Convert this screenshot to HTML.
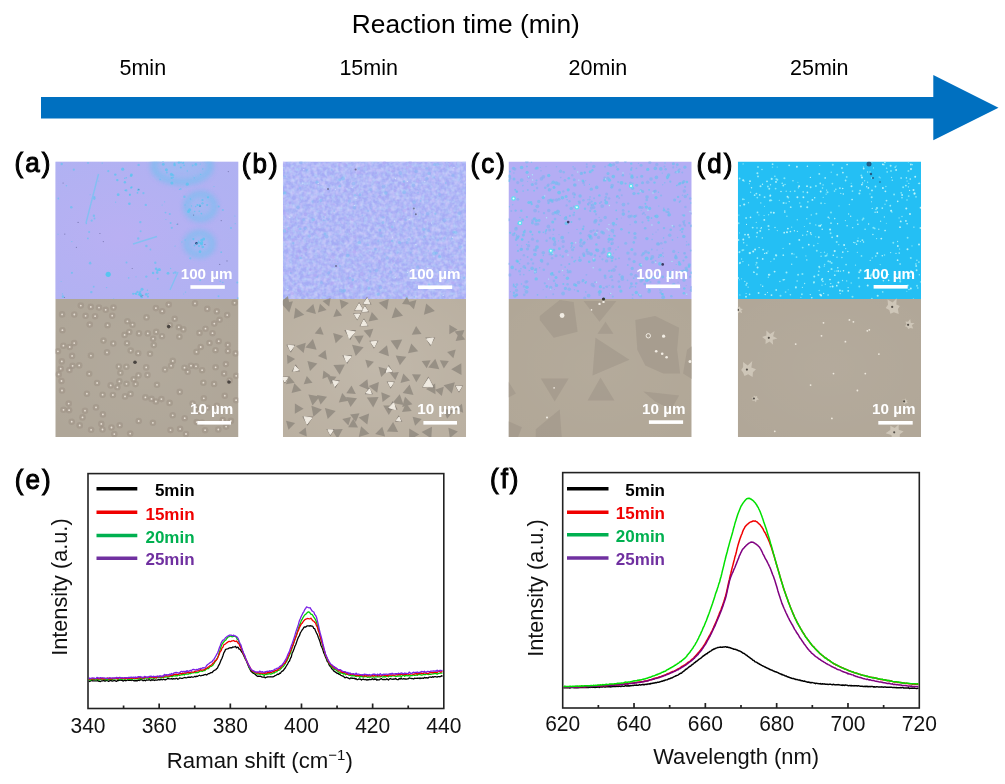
<!DOCTYPE html>
<html><head><meta charset="utf-8"><title>Figure</title>
<style>html,body{margin:0;padding:0;background:#fff;width:1005px;height:784px;overflow:hidden;font-family:"Liberation Sans",sans-serif;}svg{display:block;filter:blur(0.35px)}</style>
</head><body><svg width="1005" height="784" viewBox="0 0 1005 784"><defs><radialGradient id="gradA" cx="0.35" cy="0.55" r="0.7"><stop offset="0" stop-color="#bcb0f4" stop-opacity="0.5"/><stop offset="1" stop-color="#a8b4f2" stop-opacity="0.4"/></radialGradient><radialGradient id="viga" cx="0.5" cy="0.5" r="0.7"><stop offset="0" stop-color="#fff" stop-opacity="0.04"/><stop offset="1" stop-color="#fff" stop-opacity="0"/></radialGradient><radialGradient id="vigb" cx="0.5" cy="0.5" r="0.7"><stop offset="0" stop-color="#fff" stop-opacity="0.1"/><stop offset="1" stop-color="#fff" stop-opacity="0"/></radialGradient><radialGradient id="vigc" cx="0.5" cy="0.5" r="0.7"><stop offset="0" stop-color="#fff" stop-opacity="0.04"/><stop offset="1" stop-color="#fff" stop-opacity="0"/></radialGradient><radialGradient id="vigd" cx="0.5" cy="0.5" r="0.7"><stop offset="0" stop-color="#fff" stop-opacity="0.04"/><stop offset="1" stop-color="#fff" stop-opacity="0"/></radialGradient><filter id="nzC" x="0" y="0" width="100%" height="100%"><feTurbulence type="fractalNoise" baseFrequency="0.28" numOctaves="2" seed="3"/><feGaussianBlur stdDeviation="0.6"/><feColorMatrix type="matrix" values="0 0 0 0 0.50  0 0 0 0 0.74  0 0 0 0 0.95  1.2 0 0 0 -0.45"/></filter><filter id="nzP" x="0" y="0" width="100%" height="100%"><feTurbulence type="fractalNoise" baseFrequency="0.22" numOctaves="2" seed="9"/><feGaussianBlur stdDeviation="0.6"/><feColorMatrix type="matrix" values="0 0 0 0 0.74  0 0 0 0 0.67  0 0 0 0 0.97  1.2 0 0 0 -0.45"/></filter><filter id="bl1" x="-20%" y="-20%" width="140%" height="140%"><feGaussianBlur stdDeviation="0.7"/></filter><filter id="bl2" x="-50%" y="-50%" width="200%" height="200%"><feGaussianBlur stdDeviation="2.5"/></filter><filter id="bl3" x="-50%" y="-50%" width="200%" height="200%"><feGaussianBlur stdDeviation="5"/></filter><clipPath id="cpa"><rect x="55.3" y="161.5" width="183.2" height="275.5"/></clipPath><clipPath id="cpb"><rect x="282.9" y="161.5" width="183.2" height="275.5"/></clipPath><clipPath id="cpc"><rect x="508.5" y="161.5" width="183.2" height="275.5"/></clipPath><clipPath id="cpd"><rect x="737.8" y="161.5" width="183.2" height="275.5"/></clipPath></defs><text transform="translate(351.8,33.4) scale(1,1)" font-size="26.3" font-weight="normal" text-anchor="start" font-family="Liberation Sans, sans-serif" fill="#000" >Reaction time (min)</text><text transform="translate(119.5,75.3) scale(1,1)" font-size="21.5" font-weight="normal" text-anchor="start" font-family="Liberation Sans, sans-serif" fill="#000" >5min</text><text transform="translate(339.4,74.8) scale(1,1)" font-size="21.5" font-weight="normal" text-anchor="start" font-family="Liberation Sans, sans-serif" fill="#000" >15min</text><text transform="translate(568.6,75.3) scale(1,1)" font-size="21.5" font-weight="normal" text-anchor="start" font-family="Liberation Sans, sans-serif" fill="#000" >20min</text><text transform="translate(790.0,74.6) scale(1,1)" font-size="21.5" font-weight="normal" text-anchor="start" font-family="Liberation Sans, sans-serif" fill="#000" >25min</text><polygon points="41,97 933.3,97 933.3,75 998.5,107.7 933.3,140.3 933.3,118.5 41,118.5" fill="#0070C0"/><text transform="translate(14.6,172.3) scale(1,1.05)" font-size="26" font-weight="normal" text-anchor="start" font-family="Liberation Sans, sans-serif" fill="#000" stroke="#000" stroke-width="1.0" letter-spacing="2.0">(a)</text><text transform="translate(241.8,173.3) scale(1,1.05)" font-size="26" font-weight="normal" text-anchor="start" font-family="Liberation Sans, sans-serif" fill="#000" stroke="#000" stroke-width="1.0" letter-spacing="2.0">(b)</text><text transform="translate(470.6,173.1) scale(1,1.05)" font-size="26" font-weight="normal" text-anchor="start" font-family="Liberation Sans, sans-serif" fill="#000" stroke="#000" stroke-width="1.0" letter-spacing="2.0">(c)</text><text transform="translate(696.6,173.1) scale(1,1.05)" font-size="26" font-weight="normal" text-anchor="start" font-family="Liberation Sans, sans-serif" fill="#000" stroke="#000" stroke-width="1.0" letter-spacing="2.0">(d)</text><g clip-path="url(#cpa)"><rect x="55.3" y="161.5" width="183.2" height="137.5" fill="#b6b0f2"/><rect x="55.3" y="161.5" width="183.2" height="137.5" fill="url(#gradA)"/><g filter="url(#bl2)" fill="none" stroke="#74c0f0" opacity="0.65"><ellipse cx="182" cy="166" rx="28" ry="16" stroke-width="7"/><ellipse cx="200.5" cy="206.5" rx="14" ry="12.5" stroke-width="6"/><ellipse cx="199.5" cy="244" rx="13" ry="11" stroke-width="6"/></g><g filter="url(#bl3)" fill="#8cc2f2" opacity="0.4"><ellipse cx="182" cy="166" rx="24" ry="12"/><ellipse cx="200.5" cy="206.5" rx="11" ry="10"/><ellipse cx="199.5" cy="244" rx="10" ry="9"/></g><circle cx="196.5" cy="243.3" r="1.3" fill="#2a4a80" filter="url(#bl1)"/><circle cx="200" cy="206" r="0.9" fill="#3a5a90" opacity="0.6"/><g filter="url(#bl1)" stroke="#7cc2f2" stroke-width="1.4" fill="none" opacity="0.85"><path d="M98.5,174 L86,223"/><path d="M133,244 L157,236.5"/><path d="M170,290 L178,272"/></g><g filter="url(#bl1)" fill="#58c4f0"><circle cx="108.2" cy="274.3" r="2.6"/><circle cx="138.2" cy="238.5" r="1.2" opacity="0.6"/><circle cx="140.6" cy="231.3" r="1.0" opacity="0.6"/><circle cx="89.1" cy="231.9" r="1.0" opacity="0.6"/><circle cx="200.6" cy="174.4" r="0.7" opacity="0.6"/><circle cx="71.9" cy="272.8" r="1.1" opacity="0.6"/><circle cx="63.0" cy="296.6" r="1.3" opacity="0.6"/><circle cx="175.1" cy="246.1" r="0.6" opacity="0.6"/><circle cx="58.0" cy="234.2" r="0.5" opacity="0.6"/><circle cx="90.1" cy="194.8" r="0.5" opacity="0.6"/><circle cx="140.3" cy="222.1" r="1.2" opacity="0.6"/><circle cx="150.4" cy="249.5" r="0.9" opacity="0.6"/><circle cx="176.7" cy="224.4" r="0.7" opacity="0.6"/><circle cx="238.1" cy="298.4" r="1.2" opacity="0.6"/><circle cx="185.0" cy="204.9" r="0.7" opacity="0.6"/><circle cx="108.3" cy="171.2" r="1.1" opacity="0.6"/><circle cx="128.7" cy="277.9" r="0.8" opacity="0.6"/><circle cx="230.8" cy="278.0" r="0.5" opacity="0.6"/><circle cx="93.7" cy="286.7" r="0.9" opacity="0.6"/><circle cx="234.9" cy="216.1" r="0.6" opacity="0.6"/><circle cx="170.6" cy="268.5" r="0.7" opacity="0.6"/><circle cx="71.3" cy="207.2" r="1.3" opacity="0.6"/><circle cx="194.2" cy="177.7" r="0.7" opacity="0.6"/><circle cx="73.8" cy="169.7" r="1.1" opacity="0.6"/><circle cx="87.9" cy="238.4" r="0.9" opacity="0.6"/><circle cx="90.2" cy="262.1" r="0.6" opacity="0.6"/><circle cx="173.2" cy="177.5" r="0.8" opacity="0.6"/><circle cx="94.3" cy="198.6" r="1.3" opacity="0.6"/><circle cx="202.5" cy="203.3" r="1.2" opacity="0.6"/><circle cx="93.9" cy="215.7" r="1.2" opacity="0.6"/><circle cx="172.9" cy="175.3" r="1.3" opacity="0.6"/><circle cx="94.4" cy="197.0" r="1.1" opacity="0.6"/><circle cx="115.6" cy="202.2" r="0.6" opacity="0.6"/><circle cx="71.8" cy="241.6" r="0.7" opacity="0.6"/><circle cx="165.5" cy="212.6" r="0.9" opacity="0.6"/><circle cx="231.0" cy="228.0" r="1.0" opacity="0.6"/><circle cx="214.0" cy="186.6" r="0.6" opacity="0.6"/><circle cx="221.7" cy="273.9" r="0.7" opacity="0.6"/><circle cx="90.1" cy="263.2" r="1.3" opacity="0.6"/><circle cx="91.3" cy="292.1" r="1.2" opacity="0.6"/><circle cx="165.9" cy="219.5" r="0.6" opacity="0.6"/><circle cx="62.4" cy="293.9" r="0.7" opacity="0.6"/><circle cx="184.4" cy="196.8" r="1.2" opacity="0.6"/><circle cx="164.6" cy="201.8" r="0.6" opacity="0.6"/><circle cx="187.3" cy="171.0" r="0.7" opacity="0.6"/><circle cx="157.8" cy="278.7" r="1.0" opacity="0.6"/><circle cx="106.6" cy="287.6" r="0.7" opacity="0.6"/><circle cx="58.3" cy="198.5" r="0.9" opacity="0.6"/><circle cx="66.4" cy="185.7" r="0.8" opacity="0.6"/><circle cx="160.1" cy="179.6" r="0.8" opacity="0.6"/><circle cx="218.5" cy="296.3" r="1.0" opacity="0.6"/><circle cx="181.9" cy="241.9" r="0.6" opacity="0.6"/><circle cx="61.7" cy="164.0" r="1.2" opacity="0.6"/><circle cx="183.7" cy="293.9" r="0.5" opacity="0.6"/><circle cx="171.8" cy="227.8" r="1.1" opacity="0.6"/><circle cx="113.7" cy="298.9" r="0.6" opacity="0.6"/><circle cx="155.3" cy="262.8" r="1.2" opacity="0.6"/><circle cx="190.3" cy="258.3" r="1.1" opacity="0.6"/><circle cx="222.9" cy="209.9" r="1.0" opacity="0.6"/><circle cx="220.3" cy="281.3" r="0.8" opacity="0.6"/><circle cx="200.1" cy="280.2" r="1.0" opacity="0.6"/><circle cx="169.8" cy="214.1" r="1.0" opacity="0.6"/><circle cx="166.8" cy="172.5" r="1.0" opacity="0.6"/><circle cx="237.3" cy="282.5" r="1.1" opacity="0.6"/><circle cx="126.5" cy="262.6" r="1.0" opacity="0.6"/><circle cx="136.0" cy="276.8" r="0.6" opacity="0.6"/><circle cx="192.7" cy="165.6" r="1.0" opacity="0.6"/><circle cx="143.4" cy="193.2" r="1.1" opacity="0.6"/><circle cx="146.4" cy="246.0" r="1.2" opacity="0.6"/><circle cx="102.2" cy="163.1" r="0.7" opacity="0.6"/><circle cx="179.5" cy="189.4" r="0.6" opacity="0.6"/><circle cx="221.2" cy="252.2" r="0.9" opacity="0.6"/><circle cx="218.7" cy="206.5" r="1.0" opacity="0.6"/><circle cx="91.7" cy="220.7" r="1.1" opacity="0.6"/><circle cx="222.8" cy="282.5" r="0.8" opacity="0.6"/><circle cx="162.1" cy="205.0" r="0.6" opacity="0.6"/><circle cx="146.3" cy="276.6" r="1.2" opacity="0.6"/><circle cx="185.6" cy="292.1" r="0.7" opacity="0.6"/><circle cx="86.3" cy="223.5" r="0.7" opacity="0.6"/><circle cx="94.5" cy="218.4" r="1.0" opacity="0.6"/><circle cx="145.8" cy="204.9" r="1.2" opacity="0.6"/><circle cx="235.2" cy="223.7" r="0.6" opacity="0.6"/><circle cx="61.1" cy="281.5" r="0.5" opacity="0.6"/><circle cx="185.1" cy="240.0" r="0.7" opacity="0.6"/><circle cx="200.3" cy="164.1" r="0.6" opacity="0.6"/><circle cx="138.6" cy="164.9" r="1.2" opacity="0.6"/><circle cx="98.8" cy="180.9" r="0.5" opacity="0.6"/><circle cx="170.6" cy="222.9" r="1.0" opacity="0.6"/><circle cx="175.3" cy="272.5" r="1.3" opacity="0.6"/><circle cx="180.7" cy="188.9" r="0.9" opacity="0.6"/><circle cx="88.0" cy="163.0" r="0.9" opacity="0.6"/><circle cx="181.0" cy="162.4" r="0.9" opacity="0.75"/><circle cx="171.7" cy="178.0" r="1.1" opacity="0.75"/><circle cx="167.2" cy="155.6" r="1.0" opacity="0.75"/><circle cx="188.1" cy="147.8" r="0.7" opacity="0.75"/><circle cx="199.1" cy="159.8" r="0.7" opacity="0.75"/><circle cx="166.4" cy="169.7" r="1.5" opacity="0.75"/><circle cx="171.4" cy="174.3" r="1.5" opacity="0.75"/><circle cx="189.1" cy="147.2" r="1.1" opacity="0.75"/><circle cx="178.9" cy="162.5" r="1.3" opacity="0.75"/><circle cx="188.9" cy="153.9" r="1.3" opacity="0.75"/><circle cx="187.3" cy="184.2" r="1.6" opacity="0.75"/><circle cx="195.8" cy="164.4" r="1.4" opacity="0.75"/><circle cx="171.9" cy="183.1" r="1.5" opacity="0.75"/><circle cx="180.8" cy="167.4" r="1.0" opacity="0.75"/><circle cx="163.0" cy="161.0" r="1.1" opacity="0.75"/><circle cx="202.7" cy="169.0" r="0.7" opacity="0.75"/><circle cx="183.4" cy="162.6" r="0.9" opacity="0.75"/><circle cx="182.9" cy="163.2" r="0.7" opacity="0.75"/><circle cx="163.3" cy="164.4" r="1.4" opacity="0.75"/><circle cx="172.9" cy="147.7" r="1.1" opacity="0.75"/><circle cx="184.1" cy="165.4" r="0.8" opacity="0.75"/><circle cx="174.6" cy="165.0" r="1.3" opacity="0.75"/><circle cx="173.3" cy="157.7" r="1.4" opacity="0.75"/><circle cx="174.5" cy="163.6" r="1.0" opacity="0.75"/><circle cx="195.2" cy="150.5" r="0.8" opacity="0.75"/><circle cx="208.0" cy="197.3" r="1.1" opacity="0.75"/><circle cx="197.5" cy="205.0" r="1.1" opacity="0.75"/><circle cx="191.5" cy="205.9" r="0.6" opacity="0.75"/><circle cx="207.1" cy="204.9" r="1.0" opacity="0.75"/><circle cx="202.5" cy="200.0" r="1.1" opacity="0.75"/><circle cx="199.7" cy="205.3" r="1.1" opacity="0.75"/><circle cx="188.5" cy="211.5" r="1.5" opacity="0.75"/><circle cx="199.2" cy="211.3" r="0.7" opacity="0.75"/><circle cx="189.6" cy="209.7" r="1.5" opacity="0.75"/><circle cx="195.6" cy="206.5" r="0.8" opacity="0.75"/><circle cx="190.4" cy="199.0" r="0.7" opacity="0.75"/><circle cx="200.1" cy="205.7" r="0.8" opacity="0.75"/><circle cx="201.4" cy="213.6" r="0.9" opacity="0.75"/><circle cx="194.7" cy="211.5" r="0.7" opacity="0.75"/><circle cx="198.8" cy="242.7" r="1.1" opacity="0.75"/><circle cx="199.0" cy="246.1" r="1.1" opacity="0.75"/><circle cx="194.5" cy="245.5" r="1.0" opacity="0.75"/><circle cx="197.0" cy="243.7" r="0.8" opacity="0.75"/><circle cx="193.4" cy="239.1" r="1.1" opacity="0.75"/><circle cx="203.7" cy="238.9" r="1.5" opacity="0.75"/><circle cx="200.0" cy="251.7" r="1.4" opacity="0.75"/><circle cx="202.4" cy="242.1" r="0.9" opacity="0.75"/><circle cx="201.5" cy="242.9" r="1.6" opacity="0.75"/><circle cx="200.3" cy="243.1" r="0.8" opacity="0.75"/><circle cx="198.5" cy="241.3" r="0.7" opacity="0.75"/><circle cx="201.7" cy="240.2" r="1.4" opacity="0.75"/><circle cx="202.7" cy="247.0" r="1.3" opacity="0.75"/><circle cx="201.6" cy="244.2" r="1.3" opacity="0.75"/><circle cx="147.4" cy="290.3" r="0.7" opacity="0.75"/><circle cx="133.2" cy="293.8" r="1.1" opacity="0.75"/><circle cx="139.3" cy="292.7" r="0.7" opacity="0.75"/><circle cx="140.3" cy="294.2" r="1.2" opacity="0.75"/><circle cx="134.9" cy="293.6" r="0.7" opacity="0.75"/><circle cx="140.7" cy="295.3" r="1.4" opacity="0.75"/><circle cx="148.3" cy="293.6" r="0.7" opacity="0.75"/><circle cx="147.9" cy="296.6" r="1.1" opacity="0.75"/><circle cx="140.3" cy="291.7" r="1.1" opacity="0.75"/><circle cx="136.1" cy="293.7" r="1.2" opacity="0.75"/><circle cx="146.3" cy="294.4" r="1.4" opacity="0.75"/><circle cx="141.7" cy="297.0" r="1.3" opacity="0.75"/><circle cx="138.5" cy="294.8" r="0.8" opacity="0.75"/><circle cx="139.9" cy="294.0" r="1.5" opacity="0.75"/><circle cx="142.0" cy="289.2" r="1.5" opacity="0.75"/><circle cx="137.5" cy="291.9" r="1.2" opacity="0.75"/><circle cx="118.2" cy="194.7" r="1.4" opacity="0.75"/><circle cx="129.4" cy="203.7" r="1.3" opacity="0.75"/><circle cx="131.7" cy="187.3" r="1.0" opacity="0.75"/><circle cx="138.4" cy="189.9" r="1.3" opacity="0.75"/><circle cx="131.0" cy="187.7" r="1.0" opacity="0.75"/><circle cx="129.9" cy="194.3" r="0.9" opacity="0.75"/><circle cx="129.9" cy="195.0" r="1.0" opacity="0.75"/><circle cx="125.2" cy="190.4" r="0.8" opacity="0.75"/><circle cx="137.5" cy="192.8" r="0.9" opacity="0.75"/><circle cx="126.3" cy="190.4" r="1.1" opacity="0.75"/><circle cx="117.3" cy="180.1" r="1.2" opacity="0.75"/><circle cx="122.7" cy="169.2" r="1.6" opacity="0.75"/><circle cx="131.1" cy="175.7" r="1.3" opacity="0.75"/><circle cx="124.8" cy="178.2" r="0.7" opacity="0.75"/><circle cx="126.3" cy="177.8" r="0.7" opacity="0.75"/><circle cx="124.9" cy="182.2" r="1.2" opacity="0.75"/><circle cx="115.3" cy="174.6" r="1.2" opacity="0.75"/><circle cx="131.4" cy="174.8" r="1.4" opacity="0.75"/><circle cx="168.0" cy="273.3" r="1.4" opacity="0.75"/><circle cx="173.4" cy="273.1" r="0.8" opacity="0.75"/><circle cx="157.5" cy="270.4" r="1.1" opacity="0.75"/><circle cx="159.3" cy="269.5" r="1.5" opacity="0.75"/><circle cx="153.1" cy="273.0" r="1.2" opacity="0.75"/><circle cx="157.2" cy="272.6" r="1.3" opacity="0.75"/><circle cx="156.1" cy="268.7" r="1.3" opacity="0.75"/><circle cx="159.9" cy="270.2" r="0.8" opacity="0.75"/></g><g fill="#4a4e80" opacity="0.55"><circle cx="63.1" cy="183.0" r="0.6"/><circle cx="193.6" cy="215.1" r="0.6"/><circle cx="219.7" cy="264.4" r="0.6"/><circle cx="64.5" cy="297.5" r="0.6"/><circle cx="228.3" cy="171.6" r="0.6"/><circle cx="221.2" cy="220.6" r="0.6"/><circle cx="142.8" cy="295.3" r="0.6"/><circle cx="99.9" cy="233.5" r="0.6"/><circle cx="227.0" cy="260.9" r="0.6"/><circle cx="141.1" cy="296.1" r="0.6"/><circle cx="204.9" cy="244.5" r="0.6"/><circle cx="76.4" cy="247.3" r="0.6"/><circle cx="138.8" cy="189.5" r="0.6"/><circle cx="64.8" cy="234.1" r="0.6"/><circle cx="78.1" cy="222.4" r="0.6"/><circle cx="177.7" cy="224.1" r="0.6"/><circle cx="103.3" cy="241.6" r="0.6"/><circle cx="132.2" cy="268.5" r="0.6"/></g><rect x="55.3" y="299" width="183.2" height="138" fill="#afa698"/><rect x="55.3" y="299" width="183.2" height="138" fill="url(#viga)"/><g filter="url(#bl1)"><circle cx="86.9" cy="393.7" r="3.3" fill="#958a7e" opacity="0.4"/><circle cx="171.1" cy="365.7" r="3.3" fill="#958a7e" opacity="0.4"/><circle cx="96.0" cy="407.4" r="3.3" fill="#958a7e" opacity="0.4"/><circle cx="202.1" cy="370.2" r="3.3" fill="#958a7e" opacity="0.4"/><circle cx="147.8" cy="333.4" r="3.3" fill="#958a7e" opacity="0.4"/><circle cx="57.9" cy="351.3" r="3.3" fill="#958a7e" opacity="0.4"/><circle cx="162.2" cy="311.2" r="3.3" fill="#958a7e" opacity="0.4"/><circle cx="199.5" cy="332.9" r="3.3" fill="#958a7e" opacity="0.4"/><circle cx="99.0" cy="307.6" r="3.3" fill="#958a7e" opacity="0.4"/><circle cx="236.1" cy="400.2" r="3.3" fill="#958a7e" opacity="0.4"/><circle cx="214.1" cy="383.9" r="3.3" fill="#958a7e" opacity="0.4"/><circle cx="63.4" cy="345.7" r="3.3" fill="#958a7e" opacity="0.4"/><circle cx="146.5" cy="317.4" r="3.3" fill="#958a7e" opacity="0.4"/><circle cx="227.9" cy="351.0" r="3.3" fill="#958a7e" opacity="0.4"/><circle cx="85.0" cy="410.7" r="3.3" fill="#958a7e" opacity="0.4"/><circle cx="79.7" cy="425.4" r="3.3" fill="#958a7e" opacity="0.4"/><circle cx="138.5" cy="375.4" r="3.3" fill="#958a7e" opacity="0.4"/><circle cx="118.8" cy="366.5" r="3.3" fill="#958a7e" opacity="0.4"/><circle cx="90.8" cy="306.9" r="3.3" fill="#958a7e" opacity="0.4"/><circle cx="212.5" cy="333.2" r="3.3" fill="#958a7e" opacity="0.4"/><circle cx="230.9" cy="420.9" r="3.3" fill="#958a7e" opacity="0.4"/><circle cx="192.6" cy="403.5" r="3.3" fill="#958a7e" opacity="0.4"/><circle cx="161.4" cy="399.1" r="3.3" fill="#958a7e" opacity="0.4"/><circle cx="79.2" cy="365.4" r="3.3" fill="#958a7e" opacity="0.4"/><circle cx="205.5" cy="328.7" r="3.3" fill="#958a7e" opacity="0.4"/><circle cx="222.7" cy="420.0" r="3.3" fill="#958a7e" opacity="0.4"/><circle cx="130.7" cy="350.6" r="3.3" fill="#958a7e" opacity="0.4"/><circle cx="138.2" cy="353.3" r="3.3" fill="#958a7e" opacity="0.4"/><circle cx="235.6" cy="353.4" r="3.3" fill="#958a7e" opacity="0.4"/><circle cx="62.1" cy="314.4" r="3.3" fill="#958a7e" opacity="0.4"/><circle cx="186.0" cy="434.0" r="3.3" fill="#958a7e" opacity="0.4"/><circle cx="146.2" cy="367.4" r="3.3" fill="#958a7e" opacity="0.4"/><circle cx="155.9" cy="401.5" r="3.3" fill="#958a7e" opacity="0.4"/><circle cx="97.1" cy="383.0" r="3.3" fill="#958a7e" opacity="0.4"/><circle cx="157.0" cy="384.8" r="3.3" fill="#958a7e" opacity="0.4"/><circle cx="89.7" cy="324.6" r="3.3" fill="#958a7e" opacity="0.4"/><circle cx="119.7" cy="425.3" r="3.3" fill="#958a7e" opacity="0.4"/><circle cx="119.4" cy="381.4" r="3.3" fill="#958a7e" opacity="0.4"/><circle cx="112.2" cy="315.7" r="3.3" fill="#958a7e" opacity="0.4"/><circle cx="69.1" cy="410.2" r="3.3" fill="#958a7e" opacity="0.4"/><circle cx="196.5" cy="351.9" r="3.3" fill="#958a7e" opacity="0.4"/><circle cx="179.8" cy="391.9" r="3.3" fill="#958a7e" opacity="0.4"/><circle cx="218.3" cy="429.5" r="3.3" fill="#958a7e" opacity="0.4"/><circle cx="130.2" cy="433.6" r="3.3" fill="#958a7e" opacity="0.4"/><circle cx="229.6" cy="380.5" r="3.3" fill="#958a7e" opacity="0.4"/><circle cx="215.6" cy="367.3" r="3.3" fill="#958a7e" opacity="0.4"/><circle cx="124.6" cy="334.9" r="3.3" fill="#958a7e" opacity="0.4"/><circle cx="214.3" cy="323.6" r="3.3" fill="#958a7e" opacity="0.4"/><circle cx="196.0" cy="366.3" r="3.3" fill="#958a7e" opacity="0.4"/><circle cx="207.3" cy="308.9" r="3.3" fill="#958a7e" opacity="0.4"/><circle cx="103.5" cy="340.6" r="3.3" fill="#958a7e" opacity="0.4"/><circle cx="132.5" cy="324.7" r="3.3" fill="#958a7e" opacity="0.4"/><circle cx="69.7" cy="347.0" r="3.3" fill="#958a7e" opacity="0.4"/><circle cx="191.0" cy="365.7" r="3.3" fill="#958a7e" opacity="0.4"/><circle cx="102.5" cy="429.5" r="3.3" fill="#958a7e" opacity="0.4"/><circle cx="151.5" cy="398.9" r="3.3" fill="#958a7e" opacity="0.4"/><circle cx="62.4" cy="330.2" r="3.3" fill="#958a7e" opacity="0.4"/><circle cx="207.5" cy="407.8" r="3.3" fill="#958a7e" opacity="0.4"/><circle cx="133.7" cy="379.3" r="3.3" fill="#958a7e" opacity="0.4"/><circle cx="209.5" cy="343.0" r="3.3" fill="#958a7e" opacity="0.4"/><circle cx="153.1" cy="338.7" r="3.3" fill="#958a7e" opacity="0.4"/><circle cx="195.0" cy="303.4" r="3.3" fill="#958a7e" opacity="0.4"/><circle cx="180.1" cy="428.9" r="3.3" fill="#958a7e" opacity="0.4"/><circle cx="61.5" cy="381.0" r="3.3" fill="#958a7e" opacity="0.4"/><circle cx="172.7" cy="415.3" r="3.3" fill="#958a7e" opacity="0.4"/><circle cx="162.0" cy="336.2" r="3.3" fill="#958a7e" opacity="0.4"/><circle cx="219.6" cy="319.8" r="3.3" fill="#958a7e" opacity="0.4"/><circle cx="74.3" cy="314.5" r="3.3" fill="#958a7e" opacity="0.4"/><circle cx="61.8" cy="361.4" r="3.3" fill="#958a7e" opacity="0.4"/><circle cx="82.5" cy="417.4" r="3.3" fill="#958a7e" opacity="0.4"/><circle cx="174.7" cy="318.8" r="3.3" fill="#958a7e" opacity="0.4"/><circle cx="153.8" cy="345.1" r="3.3" fill="#958a7e" opacity="0.4"/><circle cx="125.0" cy="396.4" r="3.3" fill="#958a7e" opacity="0.4"/><circle cx="155.9" cy="308.1" r="3.3" fill="#958a7e" opacity="0.4"/><circle cx="184.7" cy="418.2" r="3.3" fill="#958a7e" opacity="0.4"/><circle cx="196.0" cy="407.2" r="3.3" fill="#958a7e" opacity="0.4"/><circle cx="68.7" cy="403.6" r="3.3" fill="#958a7e" opacity="0.4"/><circle cx="102.6" cy="394.7" r="3.3" fill="#958a7e" opacity="0.4"/><circle cx="113.5" cy="307.6" r="3.3" fill="#958a7e" opacity="0.4"/><circle cx="127.0" cy="343.2" r="3.3" fill="#958a7e" opacity="0.4"/><circle cx="218.7" cy="341.2" r="3.3" fill="#958a7e" opacity="0.4"/><circle cx="147.5" cy="375.1" r="3.3" fill="#958a7e" opacity="0.4"/><circle cx="227.2" cy="315.1" r="3.3" fill="#958a7e" opacity="0.4"/><circle cx="165.0" cy="369.6" r="3.3" fill="#958a7e" opacity="0.4"/><circle cx="112.9" cy="395.0" r="3.3" fill="#958a7e" opacity="0.4"/><circle cx="114.3" cy="434.1" r="3.3" fill="#958a7e" opacity="0.4"/><circle cx="168.7" cy="304.6" r="3.3" fill="#958a7e" opacity="0.4"/><circle cx="172.8" cy="360.9" r="3.3" fill="#958a7e" opacity="0.4"/><circle cx="150.0" cy="353.8" r="3.3" fill="#958a7e" opacity="0.4"/><circle cx="129.3" cy="332.0" r="3.3" fill="#958a7e" opacity="0.4"/><circle cx="203.8" cy="398.3" r="3.3" fill="#958a7e" opacity="0.4"/><circle cx="139.0" cy="333.4" r="3.3" fill="#958a7e" opacity="0.4"/><circle cx="126.4" cy="366.7" r="3.3" fill="#958a7e" opacity="0.4"/><circle cx="170.5" cy="430.1" r="3.3" fill="#958a7e" opacity="0.4"/><circle cx="72.6" cy="365.8" r="3.3" fill="#958a7e" opacity="0.4"/><circle cx="145.4" cy="397.4" r="3.3" fill="#958a7e" opacity="0.4"/><circle cx="216.9" cy="405.7" r="3.3" fill="#958a7e" opacity="0.4"/><circle cx="169.6" cy="402.9" r="3.3" fill="#958a7e" opacity="0.4"/><circle cx="101.3" cy="423.9" r="3.3" fill="#958a7e" opacity="0.4"/><circle cx="126.5" cy="383.8" r="3.3" fill="#958a7e" opacity="0.4"/><circle cx="205.1" cy="430.2" r="3.3" fill="#958a7e" opacity="0.4"/><circle cx="234.6" cy="302.8" r="3.3" fill="#958a7e" opacity="0.4"/><circle cx="113.3" cy="343.5" r="3.3" fill="#958a7e" opacity="0.4"/><circle cx="127.4" cy="321.3" r="3.3" fill="#958a7e" opacity="0.4"/><circle cx="111.5" cy="427.5" r="3.3" fill="#958a7e" opacity="0.4"/><circle cx="183.4" cy="329.4" r="3.3" fill="#958a7e" opacity="0.4"/><circle cx="117.4" cy="387.3" r="3.3" fill="#958a7e" opacity="0.4"/><circle cx="179.4" cy="336.7" r="3.3" fill="#958a7e" opacity="0.4"/><circle cx="227.8" cy="344.8" r="3.3" fill="#958a7e" opacity="0.4"/><circle cx="102.9" cy="414.4" r="3.3" fill="#958a7e" opacity="0.4"/><circle cx="107.0" cy="352.4" r="3.3" fill="#958a7e" opacity="0.4"/><circle cx="225.9" cy="364.1" r="3.3" fill="#958a7e" opacity="0.4"/><circle cx="135.6" cy="384.1" r="3.3" fill="#958a7e" opacity="0.4"/><circle cx="107.6" cy="325.2" r="3.3" fill="#958a7e" opacity="0.4"/><circle cx="91.1" cy="429.8" r="3.3" fill="#958a7e" opacity="0.4"/><circle cx="63.5" cy="409.8" r="3.3" fill="#958a7e" opacity="0.4"/><circle cx="224.8" cy="395.7" r="3.3" fill="#958a7e" opacity="0.4"/><circle cx="60.7" cy="368.7" r="3.3" fill="#958a7e" opacity="0.4"/><circle cx="58.7" cy="374.4" r="3.3" fill="#958a7e" opacity="0.4"/><circle cx="74.2" cy="343.1" r="3.3" fill="#958a7e" opacity="0.4"/><circle cx="138.7" cy="421.0" r="3.3" fill="#958a7e" opacity="0.4"/><circle cx="199.2" cy="411.4" r="3.3" fill="#958a7e" opacity="0.4"/><circle cx="90.9" cy="355.6" r="3.3" fill="#958a7e" opacity="0.4"/><circle cx="156.2" cy="331.9" r="3.3" fill="#958a7e" opacity="0.4"/><circle cx="71.7" cy="421.7" r="3.3" fill="#958a7e" opacity="0.4"/><circle cx="203.4" cy="382.7" r="3.3" fill="#958a7e" opacity="0.4"/><circle cx="200.7" cy="347.0" r="3.3" fill="#958a7e" opacity="0.4"/><circle cx="110.7" cy="385.4" r="3.3" fill="#958a7e" opacity="0.4"/><circle cx="216.8" cy="311.4" r="3.3" fill="#958a7e" opacity="0.4"/><circle cx="69.4" cy="370.1" r="3.3" fill="#958a7e" opacity="0.4"/><circle cx="178.8" cy="327.2" r="3.3" fill="#958a7e" opacity="0.4"/><circle cx="105.7" cy="309.8" r="3.3" fill="#958a7e" opacity="0.4"/><circle cx="85.6" cy="315.8" r="3.3" fill="#958a7e" opacity="0.4"/><circle cx="224.1" cy="373.6" r="3.3" fill="#958a7e" opacity="0.4"/><circle cx="130.5" cy="393.9" r="3.3" fill="#958a7e" opacity="0.4"/><circle cx="187.7" cy="371.8" r="3.3" fill="#958a7e" opacity="0.4"/><circle cx="120.4" cy="372.8" r="3.3" fill="#958a7e" opacity="0.4"/><circle cx="169.9" cy="325.2" r="3.3" fill="#958a7e" opacity="0.4"/><circle cx="184.5" cy="367.7" r="3.3" fill="#958a7e" opacity="0.4"/><circle cx="201.9" cy="422.5" r="3.3" fill="#958a7e" opacity="0.4"/><circle cx="196.7" cy="422.1" r="3.3" fill="#958a7e" opacity="0.4"/><circle cx="152.9" cy="422.8" r="3.3" fill="#958a7e" opacity="0.4"/><circle cx="226.1" cy="426.6" r="3.3" fill="#958a7e" opacity="0.4"/><circle cx="236.2" cy="375.8" r="3.3" fill="#958a7e" opacity="0.4"/><circle cx="215.5" cy="350.2" r="3.3" fill="#958a7e" opacity="0.4"/><circle cx="72.1" cy="355.9" r="3.3" fill="#958a7e" opacity="0.4"/><circle cx="89.2" cy="373.8" r="3.3" fill="#958a7e" opacity="0.4"/><circle cx="80.8" cy="305.6" r="3.3" fill="#958a7e" opacity="0.4"/><circle cx="62.0" cy="390.5" r="3.3" fill="#958a7e" opacity="0.4"/><circle cx="95.1" cy="316.2" r="3.3" fill="#958a7e" opacity="0.4"/></g><g filter="url(#bl1)"><circle cx="86.9" cy="393.7" r="0.9" fill="#efe8de" opacity="0.9"/><circle cx="171.1" cy="365.7" r="0.9" fill="#efe8de" opacity="0.9"/><circle cx="96.0" cy="407.4" r="0.9" fill="#efe8de" opacity="0.9"/><circle cx="202.1" cy="370.2" r="0.9" fill="#efe8de" opacity="0.9"/><circle cx="147.8" cy="333.4" r="0.9" fill="#efe8de" opacity="0.9"/><circle cx="57.9" cy="351.3" r="0.9" fill="#efe8de" opacity="0.9"/><circle cx="162.2" cy="311.2" r="0.9" fill="#efe8de" opacity="0.9"/><circle cx="199.5" cy="332.9" r="0.9" fill="#efe8de" opacity="0.9"/><circle cx="99.0" cy="307.6" r="0.9" fill="#efe8de" opacity="0.9"/><circle cx="236.1" cy="400.2" r="0.9" fill="#efe8de" opacity="0.9"/><circle cx="214.1" cy="383.9" r="0.9" fill="#efe8de" opacity="0.9"/><circle cx="63.4" cy="345.7" r="0.9" fill="#efe8de" opacity="0.9"/><circle cx="146.5" cy="317.4" r="0.9" fill="#efe8de" opacity="0.9"/><circle cx="227.9" cy="351.0" r="0.9" fill="#efe8de" opacity="0.9"/><circle cx="85.0" cy="410.7" r="0.9" fill="#efe8de" opacity="0.9"/><circle cx="79.7" cy="425.4" r="0.9" fill="#efe8de" opacity="0.9"/><circle cx="138.5" cy="375.4" r="0.9" fill="#efe8de" opacity="0.9"/><circle cx="118.8" cy="366.5" r="0.9" fill="#efe8de" opacity="0.9"/><circle cx="90.8" cy="306.9" r="0.9" fill="#efe8de" opacity="0.9"/><circle cx="212.5" cy="333.2" r="0.9" fill="#efe8de" opacity="0.9"/><circle cx="230.9" cy="420.9" r="0.9" fill="#efe8de" opacity="0.9"/><circle cx="192.6" cy="403.5" r="0.9" fill="#efe8de" opacity="0.9"/><circle cx="161.4" cy="399.1" r="0.9" fill="#efe8de" opacity="0.9"/><circle cx="79.2" cy="365.4" r="0.9" fill="#efe8de" opacity="0.9"/><circle cx="205.5" cy="328.7" r="0.9" fill="#efe8de" opacity="0.9"/><circle cx="222.7" cy="420.0" r="0.9" fill="#efe8de" opacity="0.9"/><circle cx="130.7" cy="350.6" r="0.9" fill="#efe8de" opacity="0.9"/><circle cx="138.2" cy="353.3" r="0.9" fill="#efe8de" opacity="0.9"/><circle cx="235.6" cy="353.4" r="0.9" fill="#efe8de" opacity="0.9"/><circle cx="62.1" cy="314.4" r="0.9" fill="#efe8de" opacity="0.9"/><circle cx="186.0" cy="434.0" r="0.9" fill="#efe8de" opacity="0.9"/><circle cx="146.2" cy="367.4" r="0.9" fill="#efe8de" opacity="0.9"/><circle cx="155.9" cy="401.5" r="0.9" fill="#efe8de" opacity="0.9"/><circle cx="97.1" cy="383.0" r="0.9" fill="#efe8de" opacity="0.9"/><circle cx="157.0" cy="384.8" r="0.9" fill="#efe8de" opacity="0.9"/><circle cx="89.7" cy="324.6" r="0.9" fill="#efe8de" opacity="0.9"/><circle cx="119.7" cy="425.3" r="0.9" fill="#efe8de" opacity="0.9"/><circle cx="119.4" cy="381.4" r="0.9" fill="#efe8de" opacity="0.9"/><circle cx="112.2" cy="315.7" r="0.9" fill="#efe8de" opacity="0.9"/><circle cx="69.1" cy="410.2" r="0.9" fill="#efe8de" opacity="0.9"/><circle cx="196.5" cy="351.9" r="0.9" fill="#efe8de" opacity="0.9"/><circle cx="179.8" cy="391.9" r="0.9" fill="#efe8de" opacity="0.9"/><circle cx="218.3" cy="429.5" r="0.9" fill="#efe8de" opacity="0.9"/><circle cx="130.2" cy="433.6" r="0.9" fill="#efe8de" opacity="0.9"/><circle cx="229.6" cy="380.5" r="0.9" fill="#efe8de" opacity="0.9"/><circle cx="215.6" cy="367.3" r="0.9" fill="#efe8de" opacity="0.9"/><circle cx="124.6" cy="334.9" r="0.9" fill="#efe8de" opacity="0.9"/><circle cx="214.3" cy="323.6" r="0.9" fill="#efe8de" opacity="0.9"/><circle cx="196.0" cy="366.3" r="0.9" fill="#efe8de" opacity="0.9"/><circle cx="207.3" cy="308.9" r="0.9" fill="#efe8de" opacity="0.9"/><circle cx="103.5" cy="340.6" r="0.9" fill="#efe8de" opacity="0.9"/><circle cx="132.5" cy="324.7" r="0.9" fill="#efe8de" opacity="0.9"/><circle cx="69.7" cy="347.0" r="0.9" fill="#efe8de" opacity="0.9"/><circle cx="191.0" cy="365.7" r="0.9" fill="#efe8de" opacity="0.9"/><circle cx="102.5" cy="429.5" r="0.9" fill="#efe8de" opacity="0.9"/><circle cx="151.5" cy="398.9" r="0.9" fill="#efe8de" opacity="0.9"/><circle cx="62.4" cy="330.2" r="0.9" fill="#efe8de" opacity="0.9"/><circle cx="207.5" cy="407.8" r="0.9" fill="#efe8de" opacity="0.9"/><circle cx="133.7" cy="379.3" r="0.9" fill="#efe8de" opacity="0.9"/><circle cx="209.5" cy="343.0" r="0.9" fill="#efe8de" opacity="0.9"/><circle cx="153.1" cy="338.7" r="0.9" fill="#efe8de" opacity="0.9"/><circle cx="195.0" cy="303.4" r="0.9" fill="#efe8de" opacity="0.9"/><circle cx="180.1" cy="428.9" r="0.9" fill="#efe8de" opacity="0.9"/><circle cx="61.5" cy="381.0" r="0.9" fill="#efe8de" opacity="0.9"/><circle cx="172.7" cy="415.3" r="0.9" fill="#efe8de" opacity="0.9"/><circle cx="162.0" cy="336.2" r="0.9" fill="#efe8de" opacity="0.9"/><circle cx="219.6" cy="319.8" r="0.9" fill="#efe8de" opacity="0.9"/><circle cx="74.3" cy="314.5" r="0.9" fill="#efe8de" opacity="0.9"/><circle cx="61.8" cy="361.4" r="0.9" fill="#efe8de" opacity="0.9"/><circle cx="82.5" cy="417.4" r="0.9" fill="#efe8de" opacity="0.9"/><circle cx="174.7" cy="318.8" r="0.9" fill="#efe8de" opacity="0.9"/><circle cx="153.8" cy="345.1" r="0.9" fill="#efe8de" opacity="0.9"/><circle cx="125.0" cy="396.4" r="0.9" fill="#efe8de" opacity="0.9"/><circle cx="155.9" cy="308.1" r="0.9" fill="#efe8de" opacity="0.9"/><circle cx="184.7" cy="418.2" r="0.9" fill="#efe8de" opacity="0.9"/><circle cx="196.0" cy="407.2" r="0.9" fill="#efe8de" opacity="0.9"/><circle cx="68.7" cy="403.6" r="0.9" fill="#efe8de" opacity="0.9"/><circle cx="102.6" cy="394.7" r="0.9" fill="#efe8de" opacity="0.9"/><circle cx="113.5" cy="307.6" r="0.9" fill="#efe8de" opacity="0.9"/><circle cx="127.0" cy="343.2" r="0.9" fill="#efe8de" opacity="0.9"/><circle cx="218.7" cy="341.2" r="0.9" fill="#efe8de" opacity="0.9"/><circle cx="147.5" cy="375.1" r="0.9" fill="#efe8de" opacity="0.9"/><circle cx="227.2" cy="315.1" r="0.9" fill="#efe8de" opacity="0.9"/><circle cx="165.0" cy="369.6" r="0.9" fill="#efe8de" opacity="0.9"/><circle cx="112.9" cy="395.0" r="0.9" fill="#efe8de" opacity="0.9"/><circle cx="114.3" cy="434.1" r="0.9" fill="#efe8de" opacity="0.9"/><circle cx="168.7" cy="304.6" r="0.9" fill="#efe8de" opacity="0.9"/><circle cx="172.8" cy="360.9" r="0.9" fill="#efe8de" opacity="0.9"/><circle cx="150.0" cy="353.8" r="0.9" fill="#efe8de" opacity="0.9"/><circle cx="129.3" cy="332.0" r="0.9" fill="#efe8de" opacity="0.9"/><circle cx="203.8" cy="398.3" r="0.9" fill="#efe8de" opacity="0.9"/><circle cx="139.0" cy="333.4" r="0.9" fill="#efe8de" opacity="0.9"/><circle cx="126.4" cy="366.7" r="0.9" fill="#efe8de" opacity="0.9"/><circle cx="170.5" cy="430.1" r="0.9" fill="#efe8de" opacity="0.9"/><circle cx="72.6" cy="365.8" r="0.9" fill="#efe8de" opacity="0.9"/><circle cx="145.4" cy="397.4" r="0.9" fill="#efe8de" opacity="0.9"/><circle cx="216.9" cy="405.7" r="0.9" fill="#efe8de" opacity="0.9"/><circle cx="169.6" cy="402.9" r="0.9" fill="#efe8de" opacity="0.9"/><circle cx="101.3" cy="423.9" r="0.9" fill="#efe8de" opacity="0.9"/><circle cx="126.5" cy="383.8" r="0.9" fill="#efe8de" opacity="0.9"/><circle cx="205.1" cy="430.2" r="0.9" fill="#efe8de" opacity="0.9"/><circle cx="234.6" cy="302.8" r="0.9" fill="#efe8de" opacity="0.9"/><circle cx="113.3" cy="343.5" r="0.9" fill="#efe8de" opacity="0.9"/><circle cx="127.4" cy="321.3" r="0.9" fill="#efe8de" opacity="0.9"/><circle cx="111.5" cy="427.5" r="0.9" fill="#efe8de" opacity="0.9"/><circle cx="183.4" cy="329.4" r="0.9" fill="#efe8de" opacity="0.9"/><circle cx="117.4" cy="387.3" r="0.9" fill="#efe8de" opacity="0.9"/><circle cx="179.4" cy="336.7" r="0.9" fill="#efe8de" opacity="0.9"/><circle cx="227.8" cy="344.8" r="0.9" fill="#efe8de" opacity="0.9"/><circle cx="102.9" cy="414.4" r="0.9" fill="#efe8de" opacity="0.9"/><circle cx="107.0" cy="352.4" r="0.9" fill="#efe8de" opacity="0.9"/><circle cx="225.9" cy="364.1" r="0.9" fill="#efe8de" opacity="0.9"/><circle cx="135.6" cy="384.1" r="0.9" fill="#efe8de" opacity="0.9"/><circle cx="107.6" cy="325.2" r="0.9" fill="#efe8de" opacity="0.9"/><circle cx="91.1" cy="429.8" r="0.9" fill="#efe8de" opacity="0.9"/><circle cx="63.5" cy="409.8" r="0.9" fill="#efe8de" opacity="0.9"/><circle cx="224.8" cy="395.7" r="0.9" fill="#efe8de" opacity="0.9"/><circle cx="60.7" cy="368.7" r="0.9" fill="#efe8de" opacity="0.9"/><circle cx="58.7" cy="374.4" r="0.9" fill="#efe8de" opacity="0.9"/><circle cx="74.2" cy="343.1" r="0.9" fill="#efe8de" opacity="0.9"/><circle cx="138.7" cy="421.0" r="0.9" fill="#efe8de" opacity="0.9"/><circle cx="199.2" cy="411.4" r="0.9" fill="#efe8de" opacity="0.9"/><circle cx="90.9" cy="355.6" r="0.9" fill="#efe8de" opacity="0.9"/><circle cx="156.2" cy="331.9" r="0.9" fill="#efe8de" opacity="0.9"/><circle cx="71.7" cy="421.7" r="0.9" fill="#efe8de" opacity="0.9"/><circle cx="203.4" cy="382.7" r="0.9" fill="#efe8de" opacity="0.9"/><circle cx="200.7" cy="347.0" r="0.9" fill="#efe8de" opacity="0.9"/><circle cx="110.7" cy="385.4" r="0.9" fill="#efe8de" opacity="0.9"/><circle cx="216.8" cy="311.4" r="0.9" fill="#efe8de" opacity="0.9"/><circle cx="69.4" cy="370.1" r="0.9" fill="#efe8de" opacity="0.9"/><circle cx="178.8" cy="327.2" r="0.9" fill="#efe8de" opacity="0.9"/><circle cx="105.7" cy="309.8" r="0.9" fill="#efe8de" opacity="0.9"/><circle cx="85.6" cy="315.8" r="0.9" fill="#efe8de" opacity="0.9"/><circle cx="224.1" cy="373.6" r="0.9" fill="#efe8de" opacity="0.9"/><circle cx="130.5" cy="393.9" r="0.9" fill="#efe8de" opacity="0.9"/><circle cx="187.7" cy="371.8" r="0.9" fill="#efe8de" opacity="0.9"/><circle cx="120.4" cy="372.8" r="0.9" fill="#efe8de" opacity="0.9"/><circle cx="169.9" cy="325.2" r="0.9" fill="#efe8de" opacity="0.9"/><circle cx="184.5" cy="367.7" r="0.9" fill="#efe8de" opacity="0.9"/><circle cx="201.9" cy="422.5" r="0.9" fill="#efe8de" opacity="0.9"/><circle cx="196.7" cy="422.1" r="0.9" fill="#efe8de" opacity="0.9"/><circle cx="152.9" cy="422.8" r="0.9" fill="#efe8de" opacity="0.9"/><circle cx="226.1" cy="426.6" r="0.9" fill="#efe8de" opacity="0.9"/><circle cx="236.2" cy="375.8" r="0.9" fill="#efe8de" opacity="0.9"/><circle cx="215.5" cy="350.2" r="0.9" fill="#efe8de" opacity="0.9"/><circle cx="72.1" cy="355.9" r="0.9" fill="#efe8de" opacity="0.9"/><circle cx="89.2" cy="373.8" r="0.9" fill="#efe8de" opacity="0.9"/><circle cx="80.8" cy="305.6" r="0.9" fill="#efe8de" opacity="0.9"/><circle cx="62.0" cy="390.5" r="0.9" fill="#efe8de" opacity="0.9"/><circle cx="95.1" cy="316.2" r="0.9" fill="#efe8de" opacity="0.9"/></g><circle cx="168.7" cy="326.6" r="1.8" fill="#4a4440" filter="url(#bl1)"/><circle cx="135" cy="362.2" r="1.8" fill="#4a4440" filter="url(#bl1)"/><circle cx="229" cy="382" r="1.8" fill="#4a4440" filter="url(#bl1)"/></g><g clip-path="url(#cpb)"><rect x="282.9" y="161.5" width="183.2" height="137.5" fill="#a6acf5"/><rect x="282.9" y="161.5" width="183.2" height="137.5" filter="url(#nzC)"/><rect x="282.9" y="161.5" width="183.2" height="137.5" filter="url(#nzP)"/><g filter="url(#bl1)"><circle cx="369.8" cy="251.9" r="1.0" fill="#b6a8f4" opacity="0.55"/><circle cx="284.9" cy="213.0" r="1.6" fill="#b6a8f4" opacity="0.55"/><circle cx="367.2" cy="280.3" r="1.5" fill="#88b6f2" opacity="0.55"/><circle cx="404.1" cy="181.5" r="1.2" fill="#7cc0f2" opacity="0.55"/><circle cx="345.1" cy="190.4" r="1.8" fill="#a8a0f2" opacity="0.55"/><circle cx="296.6" cy="256.0" r="1.6" fill="#b6a8f4" opacity="0.55"/><circle cx="429.1" cy="173.5" r="1.8" fill="#88b6f2" opacity="0.55"/><circle cx="404.2" cy="192.2" r="1.9" fill="#7cc0f2" opacity="0.55"/><circle cx="303.5" cy="219.7" r="1.4" fill="#88b6f2" opacity="0.55"/><circle cx="444.5" cy="238.2" r="1.5" fill="#88b6f2" opacity="0.55"/><circle cx="375.8" cy="173.0" r="1.3" fill="#a8a0f2" opacity="0.55"/><circle cx="392.1" cy="227.1" r="1.4" fill="#7cc0f2" opacity="0.55"/><circle cx="400.3" cy="172.9" r="2.0" fill="#88b6f2" opacity="0.55"/><circle cx="404.5" cy="210.5" r="1.8" fill="#b6a8f4" opacity="0.55"/><circle cx="353.5" cy="204.1" r="1.1" fill="#b6a8f4" opacity="0.55"/><circle cx="349.5" cy="231.8" r="1.0" fill="#a8a0f2" opacity="0.55"/><circle cx="352.7" cy="279.6" r="1.4" fill="#88b6f2" opacity="0.55"/><circle cx="323.6" cy="220.2" r="1.0" fill="#7cc0f2" opacity="0.55"/><circle cx="394.2" cy="265.1" r="1.0" fill="#88b6f2" opacity="0.55"/><circle cx="410.4" cy="166.6" r="1.4" fill="#b6a8f4" opacity="0.55"/><circle cx="393.2" cy="261.3" r="1.4" fill="#a8a0f2" opacity="0.55"/><circle cx="321.2" cy="200.3" r="1.6" fill="#7cc0f2" opacity="0.55"/><circle cx="439.6" cy="194.5" r="1.4" fill="#88b6f2" opacity="0.55"/><circle cx="383.5" cy="186.5" r="1.9" fill="#88b6f2" opacity="0.55"/><circle cx="284.1" cy="198.4" r="1.0" fill="#b6a8f4" opacity="0.55"/><circle cx="428.5" cy="230.4" r="1.5" fill="#88b6f2" opacity="0.55"/><circle cx="463.1" cy="298.8" r="1.0" fill="#a8a0f2" opacity="0.55"/><circle cx="452.8" cy="282.8" r="1.6" fill="#b6a8f4" opacity="0.55"/><circle cx="324.9" cy="234.0" r="1.4" fill="#7cc0f2" opacity="0.55"/><circle cx="347.7" cy="255.6" r="1.9" fill="#7cc0f2" opacity="0.55"/><circle cx="312.6" cy="201.6" r="1.1" fill="#88b6f2" opacity="0.55"/><circle cx="455.8" cy="232.3" r="1.6" fill="#7cc0f2" opacity="0.55"/><circle cx="322.1" cy="200.7" r="0.8" fill="#b6a8f4" opacity="0.55"/><circle cx="283.6" cy="165.2" r="1.9" fill="#a8a0f2" opacity="0.55"/><circle cx="359.9" cy="194.7" r="1.4" fill="#7cc0f2" opacity="0.55"/><circle cx="293.7" cy="239.9" r="1.7" fill="#b6a8f4" opacity="0.55"/><circle cx="359.4" cy="242.4" r="1.7" fill="#7cc0f2" opacity="0.55"/><circle cx="389.2" cy="209.3" r="1.6" fill="#b6a8f4" opacity="0.55"/><circle cx="353.4" cy="183.6" r="1.9" fill="#88b6f2" opacity="0.55"/><circle cx="429.0" cy="284.9" r="1.4" fill="#7cc0f2" opacity="0.55"/><circle cx="427.5" cy="213.7" r="1.7" fill="#88b6f2" opacity="0.55"/><circle cx="317.5" cy="198.7" r="1.4" fill="#a8a0f2" opacity="0.55"/><circle cx="394.9" cy="190.6" r="1.6" fill="#a8a0f2" opacity="0.55"/><circle cx="355.1" cy="195.3" r="1.2" fill="#7cc0f2" opacity="0.55"/><circle cx="298.0" cy="207.2" r="1.7" fill="#88b6f2" opacity="0.55"/><circle cx="339.8" cy="186.2" r="1.2" fill="#7cc0f2" opacity="0.55"/><circle cx="288.3" cy="228.6" r="1.4" fill="#7cc0f2" opacity="0.55"/><circle cx="293.3" cy="243.2" r="1.1" fill="#7cc0f2" opacity="0.55"/><circle cx="342.9" cy="291.3" r="2.0" fill="#88b6f2" opacity="0.55"/><circle cx="350.0" cy="278.2" r="1.2" fill="#7cc0f2" opacity="0.55"/><circle cx="377.5" cy="181.7" r="1.0" fill="#b6a8f4" opacity="0.55"/><circle cx="368.0" cy="244.9" r="1.4" fill="#88b6f2" opacity="0.55"/><circle cx="426.8" cy="168.3" r="1.3" fill="#88b6f2" opacity="0.55"/><circle cx="410.9" cy="270.4" r="1.6" fill="#a8a0f2" opacity="0.55"/><circle cx="404.4" cy="295.2" r="1.5" fill="#a8a0f2" opacity="0.55"/><circle cx="340.1" cy="266.3" r="1.2" fill="#88b6f2" opacity="0.55"/><circle cx="374.5" cy="211.1" r="1.0" fill="#b6a8f4" opacity="0.55"/><circle cx="370.3" cy="271.6" r="1.1" fill="#88b6f2" opacity="0.55"/><circle cx="291.3" cy="272.0" r="1.3" fill="#b6a8f4" opacity="0.55"/><circle cx="397.9" cy="200.4" r="1.2" fill="#a8a0f2" opacity="0.55"/><circle cx="306.0" cy="249.6" r="1.8" fill="#a8a0f2" opacity="0.55"/><circle cx="352.2" cy="219.8" r="1.2" fill="#b6a8f4" opacity="0.55"/><circle cx="423.7" cy="229.2" r="1.8" fill="#7cc0f2" opacity="0.55"/><circle cx="316.4" cy="270.0" r="0.9" fill="#b6a8f4" opacity="0.55"/><circle cx="332.0" cy="283.6" r="2.0" fill="#b6a8f4" opacity="0.55"/><circle cx="450.5" cy="267.5" r="1.8" fill="#b6a8f4" opacity="0.55"/><circle cx="321.6" cy="282.5" r="1.5" fill="#88b6f2" opacity="0.55"/><circle cx="290.7" cy="272.9" r="1.0" fill="#88b6f2" opacity="0.55"/><circle cx="414.0" cy="202.3" r="2.0" fill="#88b6f2" opacity="0.55"/><circle cx="424.6" cy="236.6" r="1.5" fill="#88b6f2" opacity="0.55"/><circle cx="301.6" cy="255.7" r="1.0" fill="#a8a0f2" opacity="0.55"/><circle cx="300.9" cy="162.4" r="1.8" fill="#88b6f2" opacity="0.55"/><circle cx="375.5" cy="248.9" r="1.2" fill="#7cc0f2" opacity="0.55"/><circle cx="436.9" cy="278.8" r="0.8" fill="#a8a0f2" opacity="0.55"/><circle cx="437.7" cy="164.3" r="1.4" fill="#88b6f2" opacity="0.55"/><circle cx="439.6" cy="256.4" r="1.5" fill="#7cc0f2" opacity="0.55"/><circle cx="459.3" cy="213.1" r="1.8" fill="#88b6f2" opacity="0.55"/><circle cx="306.6" cy="170.1" r="1.3" fill="#88b6f2" opacity="0.55"/><circle cx="430.5" cy="276.6" r="0.8" fill="#88b6f2" opacity="0.55"/><circle cx="408.7" cy="239.2" r="1.5" fill="#88b6f2" opacity="0.55"/><circle cx="390.5" cy="272.0" r="1.4" fill="#88b6f2" opacity="0.55"/><circle cx="344.6" cy="250.9" r="1.8" fill="#b6a8f4" opacity="0.55"/><circle cx="354.5" cy="251.7" r="1.9" fill="#b6a8f4" opacity="0.55"/><circle cx="463.7" cy="266.7" r="1.0" fill="#b6a8f4" opacity="0.55"/><circle cx="305.3" cy="228.3" r="1.6" fill="#88b6f2" opacity="0.55"/><circle cx="285.2" cy="192.9" r="1.3" fill="#7cc0f2" opacity="0.55"/><circle cx="345.2" cy="217.2" r="1.2" fill="#b6a8f4" opacity="0.55"/><circle cx="352.8" cy="280.1" r="1.2" fill="#7cc0f2" opacity="0.55"/><circle cx="445.8" cy="248.9" r="1.2" fill="#a8a0f2" opacity="0.55"/><circle cx="325.1" cy="214.5" r="1.5" fill="#a8a0f2" opacity="0.55"/><circle cx="436.5" cy="253.1" r="1.7" fill="#7cc0f2" opacity="0.55"/><circle cx="329.1" cy="219.0" r="0.9" fill="#88b6f2" opacity="0.55"/><circle cx="390.4" cy="229.2" r="1.5" fill="#b6a8f4" opacity="0.55"/><circle cx="392.1" cy="240.9" r="1.2" fill="#7cc0f2" opacity="0.55"/><circle cx="351.5" cy="286.2" r="1.9" fill="#b6a8f4" opacity="0.55"/><circle cx="392.5" cy="171.3" r="1.3" fill="#a8a0f2" opacity="0.55"/><circle cx="320.4" cy="205.8" r="1.5" fill="#b6a8f4" opacity="0.55"/><circle cx="440.2" cy="181.0" r="1.2" fill="#b6a8f4" opacity="0.55"/><circle cx="403.4" cy="216.1" r="1.2" fill="#a8a0f2" opacity="0.55"/><circle cx="381.4" cy="276.3" r="0.9" fill="#a8a0f2" opacity="0.55"/><circle cx="328.7" cy="272.8" r="1.6" fill="#88b6f2" opacity="0.55"/><circle cx="314.3" cy="221.8" r="0.9" fill="#b6a8f4" opacity="0.55"/><circle cx="408.9" cy="187.3" r="1.6" fill="#b6a8f4" opacity="0.55"/><circle cx="399.6" cy="242.6" r="1.7" fill="#7cc0f2" opacity="0.55"/><circle cx="339.7" cy="179.7" r="1.3" fill="#7cc0f2" opacity="0.55"/><circle cx="368.2" cy="210.9" r="1.1" fill="#88b6f2" opacity="0.55"/><circle cx="379.3" cy="261.4" r="1.6" fill="#a8a0f2" opacity="0.55"/><circle cx="414.0" cy="278.3" r="1.2" fill="#b6a8f4" opacity="0.55"/><circle cx="339.1" cy="164.9" r="1.3" fill="#b6a8f4" opacity="0.55"/><circle cx="460.1" cy="285.6" r="1.6" fill="#88b6f2" opacity="0.55"/><circle cx="378.2" cy="240.9" r="1.1" fill="#88b6f2" opacity="0.55"/><circle cx="358.7" cy="168.6" r="1.3" fill="#88b6f2" opacity="0.55"/><circle cx="380.2" cy="195.3" r="0.9" fill="#88b6f2" opacity="0.55"/><circle cx="435.3" cy="213.7" r="1.2" fill="#7cc0f2" opacity="0.55"/><circle cx="300.0" cy="188.0" r="1.3" fill="#88b6f2" opacity="0.55"/><circle cx="379.8" cy="196.8" r="1.8" fill="#a8a0f2" opacity="0.55"/><circle cx="426.8" cy="178.8" r="1.7" fill="#88b6f2" opacity="0.55"/><circle cx="384.0" cy="270.3" r="0.8" fill="#b6a8f4" opacity="0.55"/><circle cx="383.0" cy="222.5" r="1.5" fill="#7cc0f2" opacity="0.55"/><circle cx="316.9" cy="276.7" r="1.3" fill="#88b6f2" opacity="0.55"/><circle cx="286.8" cy="229.4" r="1.8" fill="#b6a8f4" opacity="0.55"/><circle cx="298.5" cy="236.6" r="1.3" fill="#a8a0f2" opacity="0.55"/><circle cx="427.4" cy="295.1" r="1.3" fill="#a8a0f2" opacity="0.55"/><circle cx="284.4" cy="230.8" r="1.9" fill="#7cc0f2" opacity="0.55"/><circle cx="287.4" cy="271.0" r="1.6" fill="#a8a0f2" opacity="0.55"/><circle cx="333.6" cy="204.3" r="1.3" fill="#b6a8f4" opacity="0.55"/><circle cx="429.4" cy="264.2" r="0.9" fill="#a8a0f2" opacity="0.55"/><circle cx="407.4" cy="167.7" r="1.6" fill="#b6a8f4" opacity="0.55"/><circle cx="349.5" cy="200.9" r="1.6" fill="#88b6f2" opacity="0.55"/><circle cx="434.1" cy="177.3" r="0.9" fill="#88b6f2" opacity="0.55"/><circle cx="310.4" cy="269.7" r="1.4" fill="#a8a0f2" opacity="0.55"/><circle cx="315.3" cy="275.2" r="2.0" fill="#b6a8f4" opacity="0.55"/><circle cx="323.8" cy="216.9" r="1.1" fill="#88b6f2" opacity="0.55"/><circle cx="387.2" cy="257.9" r="1.8" fill="#88b6f2" opacity="0.55"/><circle cx="420.5" cy="200.7" r="1.0" fill="#7cc0f2" opacity="0.55"/><circle cx="457.8" cy="289.6" r="1.2" fill="#b6a8f4" opacity="0.55"/><circle cx="300.1" cy="228.9" r="1.2" fill="#7cc0f2" opacity="0.55"/><circle cx="290.2" cy="203.1" r="1.5" fill="#a8a0f2" opacity="0.55"/><circle cx="384.5" cy="162.8" r="1.8" fill="#a8a0f2" opacity="0.55"/><circle cx="340.6" cy="290.3" r="1.9" fill="#88b6f2" opacity="0.55"/><circle cx="326.7" cy="236.5" r="1.9" fill="#88b6f2" opacity="0.55"/><circle cx="298.9" cy="293.3" r="1.0" fill="#a8a0f2" opacity="0.55"/><circle cx="361.8" cy="274.1" r="2.0" fill="#b6a8f4" opacity="0.55"/><circle cx="425.7" cy="221.6" r="1.2" fill="#b6a8f4" opacity="0.55"/><circle cx="292.3" cy="293.4" r="1.6" fill="#b6a8f4" opacity="0.55"/><circle cx="370.8" cy="189.5" r="1.5" fill="#88b6f2" opacity="0.55"/><circle cx="434.2" cy="253.5" r="1.9" fill="#7cc0f2" opacity="0.55"/><circle cx="453.7" cy="232.2" r="1.4" fill="#7cc0f2" opacity="0.55"/><circle cx="354.3" cy="207.7" r="1.8" fill="#88b6f2" opacity="0.55"/><circle cx="407.1" cy="242.7" r="1.4" fill="#88b6f2" opacity="0.55"/><circle cx="414.3" cy="297.0" r="1.0" fill="#88b6f2" opacity="0.55"/><circle cx="358.3" cy="185.7" r="0.9" fill="#a8a0f2" opacity="0.55"/><circle cx="368.9" cy="288.4" r="1.4" fill="#7cc0f2" opacity="0.55"/><circle cx="362.4" cy="215.4" r="1.0" fill="#88b6f2" opacity="0.55"/><circle cx="437.8" cy="240.0" r="1.6" fill="#88b6f2" opacity="0.55"/><circle cx="309.3" cy="236.0" r="1.7" fill="#88b6f2" opacity="0.55"/><circle cx="397.6" cy="252.6" r="1.1" fill="#88b6f2" opacity="0.55"/><circle cx="416.7" cy="228.2" r="1.0" fill="#88b6f2" opacity="0.55"/><circle cx="299.1" cy="290.5" r="2.0" fill="#a8a0f2" opacity="0.55"/><circle cx="385.9" cy="193.1" r="1.8" fill="#7cc0f2" opacity="0.55"/><circle cx="460.7" cy="284.4" r="1.5" fill="#a8a0f2" opacity="0.55"/><circle cx="328.3" cy="279.7" r="1.1" fill="#b6a8f4" opacity="0.55"/><circle cx="354.9" cy="236.9" r="1.9" fill="#a8a0f2" opacity="0.55"/><circle cx="405.6" cy="220.1" r="1.3" fill="#88b6f2" opacity="0.55"/><circle cx="378.2" cy="294.1" r="1.7" fill="#7cc0f2" opacity="0.55"/><circle cx="384.9" cy="253.9" r="0.8" fill="#88b6f2" opacity="0.55"/><circle cx="417.4" cy="180.8" r="1.5" fill="#b6a8f4" opacity="0.55"/><circle cx="299.2" cy="251.0" r="1.8" fill="#a8a0f2" opacity="0.55"/><circle cx="376.4" cy="270.6" r="1.8" fill="#88b6f2" opacity="0.55"/><circle cx="450.7" cy="165.0" r="2.0" fill="#b6a8f4" opacity="0.55"/><circle cx="284.9" cy="176.3" r="1.1" fill="#88b6f2" opacity="0.55"/><circle cx="445.8" cy="197.7" r="0.9" fill="#b6a8f4" opacity="0.55"/><circle cx="403.4" cy="184.7" r="1.8" fill="#a8a0f2" opacity="0.55"/><circle cx="300.6" cy="257.9" r="1.2" fill="#7cc0f2" opacity="0.55"/><circle cx="334.2" cy="211.2" r="0.9" fill="#88b6f2" opacity="0.55"/><circle cx="333.0" cy="257.2" r="1.7" fill="#b6a8f4" opacity="0.55"/><circle cx="370.7" cy="208.3" r="0.9" fill="#88b6f2" opacity="0.55"/><circle cx="284.2" cy="192.9" r="1.6" fill="#7cc0f2" opacity="0.55"/><circle cx="441.0" cy="287.5" r="1.9" fill="#7cc0f2" opacity="0.55"/><circle cx="423.1" cy="214.7" r="0.9" fill="#88b6f2" opacity="0.55"/><circle cx="445.7" cy="183.1" r="1.0" fill="#7cc0f2" opacity="0.55"/><circle cx="464.2" cy="277.7" r="1.2" fill="#7cc0f2" opacity="0.55"/><circle cx="337.5" cy="261.5" r="0.8" fill="#88b6f2" opacity="0.55"/><circle cx="318.8" cy="229.4" r="1.2" fill="#a8a0f2" opacity="0.55"/><circle cx="413.6" cy="185.4" r="1.8" fill="#88b6f2" opacity="0.55"/><circle cx="358.7" cy="172.4" r="2.0" fill="#b6a8f4" opacity="0.55"/><circle cx="284.0" cy="225.1" r="0.9" fill="#b6a8f4" opacity="0.55"/><circle cx="344.8" cy="164.3" r="1.3" fill="#b6a8f4" opacity="0.55"/><circle cx="331.7" cy="169.7" r="1.0" fill="#88b6f2" opacity="0.55"/><circle cx="426.0" cy="296.6" r="1.8" fill="#a8a0f2" opacity="0.55"/><circle cx="418.2" cy="192.7" r="0.9" fill="#88b6f2" opacity="0.55"/><circle cx="428.6" cy="251.0" r="0.8" fill="#88b6f2" opacity="0.55"/><circle cx="350.5" cy="279.3" r="1.1" fill="#b6a8f4" opacity="0.55"/><circle cx="460.2" cy="247.1" r="1.8" fill="#88b6f2" opacity="0.55"/><circle cx="451.8" cy="238.5" r="1.0" fill="#7cc0f2" opacity="0.55"/><circle cx="397.8" cy="260.5" r="1.3" fill="#b6a8f4" opacity="0.55"/><circle cx="317.0" cy="182.2" r="1.7" fill="#7cc0f2" opacity="0.55"/><circle cx="451.1" cy="165.4" r="0.9" fill="#88b6f2" opacity="0.55"/><circle cx="417.4" cy="267.1" r="1.9" fill="#88b6f2" opacity="0.55"/><circle cx="313.3" cy="219.5" r="1.8" fill="#7cc0f2" opacity="0.55"/><circle cx="343.0" cy="178.6" r="2.0" fill="#7cc0f2" opacity="0.55"/><circle cx="406.7" cy="296.9" r="1.4" fill="#88b6f2" opacity="0.55"/><circle cx="400.3" cy="219.5" r="1.2" fill="#a8a0f2" opacity="0.55"/><circle cx="379.8" cy="230.0" r="1.5" fill="#7cc0f2" opacity="0.55"/><circle cx="383.2" cy="217.2" r="1.5" fill="#88b6f2" opacity="0.55"/><circle cx="455.1" cy="267.8" r="1.0" fill="#b6a8f4" opacity="0.55"/><circle cx="461.2" cy="273.0" r="1.4" fill="#b6a8f4" opacity="0.55"/><circle cx="416.1" cy="171.5" r="1.8" fill="#88b6f2" opacity="0.55"/><circle cx="434.6" cy="164.5" r="1.5" fill="#7cc0f2" opacity="0.55"/><circle cx="444.4" cy="220.3" r="2.0" fill="#88b6f2" opacity="0.55"/><circle cx="410.5" cy="252.7" r="1.0" fill="#88b6f2" opacity="0.55"/><circle cx="408.0" cy="208.9" r="1.4" fill="#a8a0f2" opacity="0.55"/><circle cx="407.9" cy="288.6" r="0.8" fill="#88b6f2" opacity="0.55"/><circle cx="452.9" cy="175.7" r="1.7" fill="#88b6f2" opacity="0.55"/><circle cx="329.9" cy="259.9" r="1.1" fill="#a8a0f2" opacity="0.55"/><circle cx="344.5" cy="290.4" r="1.6" fill="#7cc0f2" opacity="0.55"/><circle cx="410.2" cy="162.3" r="1.8" fill="#a8a0f2" opacity="0.55"/><circle cx="381.1" cy="235.9" r="1.7" fill="#88b6f2" opacity="0.55"/><circle cx="380.5" cy="287.6" r="1.9" fill="#88b6f2" opacity="0.55"/><circle cx="305.5" cy="214.3" r="1.9" fill="#a8a0f2" opacity="0.55"/></g><circle cx="355.6" cy="169.6" r="1" fill="#445" opacity="0.6"/><circle cx="413.8" cy="208.4" r="1" fill="#445" opacity="0.6"/><circle cx="415.8" cy="214.2" r="1" fill="#445" opacity="0.6"/><circle cx="328" cy="189" r="1" fill="#445" opacity="0.6"/><circle cx="336" cy="266" r="1" fill="#445" opacity="0.6"/><circle cx="395.2" cy="277.7" r="0.6" fill="#e0f0ff" opacity="0.8"/><circle cx="454.0" cy="167.4" r="0.6" fill="#e0f0ff" opacity="0.8"/><circle cx="347.0" cy="188.9" r="0.6" fill="#e0f0ff" opacity="0.8"/><circle cx="356.0" cy="198.5" r="0.6" fill="#e0f0ff" opacity="0.8"/><circle cx="452.6" cy="237.2" r="0.6" fill="#e0f0ff" opacity="0.8"/><circle cx="352.1" cy="187.3" r="0.6" fill="#e0f0ff" opacity="0.8"/><circle cx="354.7" cy="205.5" r="0.6" fill="#e0f0ff" opacity="0.8"/><circle cx="302.8" cy="183.1" r="0.6" fill="#e0f0ff" opacity="0.8"/><circle cx="415.9" cy="244.4" r="0.6" fill="#e0f0ff" opacity="0.8"/><circle cx="443.2" cy="295.4" r="0.6" fill="#e0f0ff" opacity="0.8"/><circle cx="318.2" cy="183.4" r="0.6" fill="#e0f0ff" opacity="0.8"/><circle cx="303.8" cy="169.7" r="0.6" fill="#e0f0ff" opacity="0.8"/><circle cx="424.8" cy="181.7" r="0.6" fill="#e0f0ff" opacity="0.8"/><circle cx="427.9" cy="267.5" r="0.6" fill="#e0f0ff" opacity="0.8"/><circle cx="350.8" cy="230.9" r="0.6" fill="#e0f0ff" opacity="0.8"/><circle cx="392.7" cy="237.2" r="0.6" fill="#e0f0ff" opacity="0.8"/><circle cx="394.6" cy="221.1" r="0.6" fill="#e0f0ff" opacity="0.8"/><circle cx="407.3" cy="181.4" r="0.6" fill="#e0f0ff" opacity="0.8"/><circle cx="431.5" cy="223.0" r="0.6" fill="#e0f0ff" opacity="0.8"/><circle cx="407.4" cy="272.5" r="0.6" fill="#e0f0ff" opacity="0.8"/><circle cx="335.3" cy="189.7" r="0.6" fill="#e0f0ff" opacity="0.8"/><circle cx="409.2" cy="219.3" r="0.6" fill="#e0f0ff" opacity="0.8"/><circle cx="395.5" cy="178.7" r="0.6" fill="#e0f0ff" opacity="0.8"/><circle cx="289.7" cy="217.3" r="0.6" fill="#e0f0ff" opacity="0.8"/><circle cx="287.9" cy="289.6" r="0.6" fill="#e0f0ff" opacity="0.8"/><rect x="282.9" y="299" width="183.2" height="138" fill="#bab0a1"/><rect x="282.9" y="299" width="183.2" height="138" fill="url(#vigb)"/><g filter="url(#bl1)" fill="#8e877e" opacity="0.8"><polygon points="289.3,312.4 281.5,303.7 292.9,301.3"/><polygon points="305.7,311.3 313.3,303.9 315.9,314.1"/><polygon points="326.6,310.0 317.9,312.6 320.0,303.8"/><polygon points="342.1,315.6 333.3,317.0 336.5,308.7"/><polygon points="341.4,309.1 339.7,299.6 348.8,302.9"/><polygon points="378.7,302.8 388.8,299.0 387.0,309.7"/><polygon points="406.9,296.8 410.8,304.7 402.0,304.1"/><polygon points="413.9,309.2 407.1,302.4 416.4,299.9"/><polygon points="320.4,326.4 323.6,334.8 314.7,333.4"/><polygon points="343.2,335.9 335.7,343.3 333.1,333.1"/><polygon points="370.0,338.1 363.6,330.6 373.3,328.8"/><polygon points="359.4,343.9 354.2,336.0 363.7,335.5"/><polygon points="416.1,325.9 421.5,334.0 411.8,334.7"/><polygon points="457.5,329.6 449.3,334.2 449.4,324.8"/><polygon points="460.8,339.2 454.6,331.4 464.4,329.9"/><polygon points="459.0,331.9 465.3,339.5 455.6,341.1"/><polygon points="295.8,346.1 305.8,342.8 303.6,353.1"/><polygon points="305.4,347.5 312.9,338.9 316.6,349.7"/><polygon points="363.6,347.2 355.7,356.0 352.0,344.8"/><polygon points="387.0,345.3 388.9,356.2 378.5,352.5"/><polygon points="397.2,350.1 390.6,340.5 402.2,339.6"/><polygon points="453.4,358.3 447.1,352.0 455.7,349.6"/><polygon points="317.4,363.6 310.0,370.9 307.4,360.9"/><polygon points="339.6,374.8 333.4,365.1 344.9,364.6"/><polygon points="367.8,368.2 365.3,359.7 373.9,361.7"/><polygon points="399.9,365.3 395.7,355.5 406.3,356.8"/><polygon points="426.7,368.3 421.7,360.9 430.6,360.3"/><polygon points="428.2,367.5 435.3,358.7 439.3,369.2"/><polygon points="443.8,368.4 439.8,360.3 448.8,360.9"/><polygon points="451.2,369.2 461.3,363.2 461.5,374.9"/><polygon points="294.7,382.8 285.9,384.2 289.1,375.9"/><polygon points="312.5,382.8 303.7,384.3 306.8,375.9"/><polygon points="330.5,375.6 322.5,379.1 323.4,370.4"/><polygon points="330.8,384.6 326.9,375.7 336.5,376.7"/><polygon points="388.7,369.5 381.2,377.0 378.5,366.8"/><polygon points="395.3,380.1 390.0,373.0 398.8,372.0"/><polygon points="416.3,382.2 412.0,374.3 421.0,374.5"/><polygon points="294.3,383.2 301.5,390.4 291.6,393.0"/><polygon points="351.5,385.4 355.8,393.9 346.3,393.3"/><polygon points="359.0,385.7 367.4,379.3 368.7,389.8"/><polygon points="377.2,392.8 368.7,385.9 378.9,382.0"/><polygon points="403.3,373.5 410.0,380.6 400.5,382.9"/><polygon points="402.6,393.1 409.6,384.6 413.5,394.9"/><polygon points="426.0,389.1 435.2,383.4 435.5,394.2"/><polygon points="441.8,396.1 434.9,389.7 443.8,386.8"/><polygon points="451.8,393.4 443.6,385.2 454.8,382.2"/><polygon points="319.9,396.4 312.5,405.4 308.4,394.5"/><polygon points="327.0,396.7 320.6,404.6 316.9,395.1"/><polygon points="342.2,393.0 348.8,400.8 338.8,402.6"/><polygon points="350.5,407.1 346.0,397.0 357.0,398.2"/><polygon points="373.2,407.5 366.9,397.6 378.6,397.1"/><polygon points="390.5,396.1 382.6,402.1 381.3,392.2"/><polygon points="399.7,394.3 403.7,404.9 392.5,403.1"/><polygon points="405.0,396.8 412.4,404.3 402.2,407.0"/><polygon points="321.9,409.5 313.4,416.7 311.4,405.7"/><polygon points="335.7,411.0 327.7,418.9 324.9,408.0"/><polygon points="355.8,422.0 350.1,414.4 359.5,413.3"/><polygon points="358.7,417.6 369.1,413.6 367.3,424.6"/><polygon points="388.8,415.1 383.2,405.4 394.4,405.4"/><polygon points="406.1,403.1 411.7,411.0 402.0,411.9"/><polygon points="447.1,418.7 443.3,408.7 453.9,410.5"/><polygon points="298.6,433.1 305.7,427.6 306.8,436.5"/><polygon points="348.4,425.5 342.3,419.1 350.9,417.0"/><polygon points="353.3,418.8 358.0,427.4 348.2,427.2"/><polygon points="361.1,426.3 369.3,433.8 358.8,437.1"/><polygon points="382.3,426.7 385.1,436.5 375.2,434.0"/><polygon points="393.1,422.0 398.1,432.0 386.9,431.4"/><polygon points="419.2,434.4 409.1,440.1 409.2,428.6"/><polygon points="421.6,432.0 432.0,426.8 431.3,438.4"/><polygon points="457.9,431.6 449.8,437.9 448.4,427.7"/><polygon points="287.9,296.0 290.0,306.5 279.8,303.1"/><polygon points="304.2,314.7 293.8,318.8 295.4,307.8"/><polygon points="329.2,306.6 322.5,301.0 330.6,298.0"/><polygon points="403.0,315.8 391.7,318.2 395.3,307.2"/><polygon points="426.2,303.4 434.9,311.1 423.9,314.8"/><polygon points="378.4,319.6 368.5,321.5 371.8,312.0"/><polygon points="295.1,358.9 287.5,364.0 286.9,354.8"/><polygon points="317.9,356.1 325.5,350.0 327.0,359.7"/><polygon points="418.2,351.2 408.0,353.3 411.3,343.5"/><polygon points="303.6,408.7 294.8,413.7 294.9,403.6"/><polygon points="288.5,429.7 286.0,420.7 295.1,423.1"/><polygon points="337.6,438.8 331.7,429.5 342.7,429.0"/><polygon points="415.1,425.8 412.6,416.7 421.7,419.1"/><polygon points="454.8,409.4 461.9,403.8 463.2,412.8"/></g><g filter="url(#bl1)"><polygon points="359.1,302.0 364.1,310.7 354.1,310.7" fill="#7a746c" opacity="0.7"/><polygon points="359.1,303.8 362.6,309.8 355.6,309.8" fill="#f0ebe2" stroke="#f0ebe2" stroke-width="1" stroke-linejoin="round"/><polygon points="367.0,296.6 371.6,304.5 362.4,304.5" fill="#7a746c" opacity="0.7"/><polygon points="367.4,298.4 369.8,303.9 363.8,303.3" fill="#f0ebe2" stroke="#f0ebe2" stroke-width="1" stroke-linejoin="round"/><polygon points="365.0,305.0 369.2,312.2 360.9,312.2" fill="#7a746c" opacity="0.7"/><polygon points="364.8,306.8 367.7,311.1 362.5,311.5" fill="#f0ebe2" stroke="#f0ebe2" stroke-width="1" stroke-linejoin="round"/><polygon points="357.1,320.5 353.0,313.3 361.3,313.3" fill="#7a746c" opacity="0.7"/><polygon points="357.2,318.7 354.5,314.3 359.7,314.1" fill="#f0ebe2" stroke="#f0ebe2" stroke-width="1" stroke-linejoin="round"/><polygon points="364.0,318.3 368.6,326.3 359.4,326.3" fill="#7a746c" opacity="0.7"/><polygon points="363.8,320.1 367.2,325.2 361.1,325.6" fill="#f0ebe2" stroke="#f0ebe2" stroke-width="1" stroke-linejoin="round"/><polygon points="350.2,340.3 344.3,330.1 356.1,330.1" fill="#7a746c" opacity="0.7"/><polygon points="349.3,338.4 346.4,330.3 354.9,331.9" fill="#f0ebe2" stroke="#f0ebe2" stroke-width="1" stroke-linejoin="round"/><polygon points="373.9,348.7 369.3,340.8 378.5,340.8" fill="#7a746c" opacity="0.7"/><polygon points="374.2,346.9 370.8,341.9 376.8,341.4" fill="#f0ebe2" stroke="#f0ebe2" stroke-width="1" stroke-linejoin="round"/><polygon points="290.9,352.7 286.3,344.7 295.4,344.7" fill="#7a746c" opacity="0.7"/><polygon points="290.5,350.8 288.0,345.3 294.1,346.0" fill="#f0ebe2" stroke="#f0ebe2" stroke-width="1" stroke-linejoin="round"/><polygon points="295.8,364.3 300.0,371.5 291.6,371.5" fill="#7a746c" opacity="0.7"/><polygon points="295.1,366.2 298.7,370.0 293.6,371.2" fill="#f0ebe2" stroke="#f0ebe2" stroke-width="1" stroke-linejoin="round"/><polygon points="347.2,364.0 342.2,355.3 352.2,355.3" fill="#7a746c" opacity="0.7"/><polygon points="346.6,362.2 344.1,355.7 351.0,356.8" fill="#f0ebe2" stroke="#f0ebe2" stroke-width="1" stroke-linejoin="round"/><polygon points="388.8,364.8 393.3,372.8 384.2,372.8" fill="#7a746c" opacity="0.7"/><polygon points="388.2,366.7 392.0,371.3 386.1,372.3" fill="#f0ebe2" stroke="#f0ebe2" stroke-width="1" stroke-linejoin="round"/><polygon points="335.4,388.3 330.8,380.3 339.9,380.3" fill="#7a746c" opacity="0.7"/><polygon points="334.7,386.4 332.7,380.7 338.6,381.8" fill="#f0ebe2" stroke="#f0ebe2" stroke-width="1" stroke-linejoin="round"/><polygon points="390.7,388.7 386.6,381.5 394.9,381.5" fill="#7a746c" opacity="0.7"/><polygon points="390.5,386.9 388.3,382.3 393.4,382.7" fill="#f0ebe2" stroke="#f0ebe2" stroke-width="1" stroke-linejoin="round"/><polygon points="369.0,387.1 373.1,394.3 364.8,394.3" fill="#7a746c" opacity="0.7"/><polygon points="369.5,388.9 371.3,393.7 366.2,392.9" fill="#f0ebe2" stroke="#f0ebe2" stroke-width="1" stroke-linejoin="round"/><polygon points="428.3,376.6 434.6,387.6 422.0,387.6" fill="#7a746c" opacity="0.7"/><polygon points="428.6,378.5 432.9,386.9 423.4,386.5" fill="#f0ebe2" stroke="#f0ebe2" stroke-width="1" stroke-linejoin="round"/><polygon points="459.0,392.7 454.8,385.5 463.1,385.5" fill="#7a746c" opacity="0.7"/><polygon points="458.9,390.9 456.4,386.3 461.6,386.5" fill="#f0ebe2" stroke="#f0ebe2" stroke-width="1" stroke-linejoin="round"/><polygon points="392.7,400.9 397.7,409.6 387.7,409.6" fill="#7a746c" opacity="0.7"/><polygon points="393.7,402.8 395.5,409.5 388.9,407.7" fill="#f0ebe2" stroke="#f0ebe2" stroke-width="1" stroke-linejoin="round"/><polygon points="307.7,425.8 302.2,416.4 313.1,416.4" fill="#7a746c" opacity="0.7"/><polygon points="307.0,424.0 304.1,416.8 311.8,417.9" fill="#f0ebe2" stroke="#f0ebe2" stroke-width="1" stroke-linejoin="round"/><polygon points="330.4,436.2 326.3,429.0 334.6,429.0" fill="#7a746c" opacity="0.7"/><polygon points="330.3,434.4 327.9,429.8 333.1,430.0" fill="#f0ebe2" stroke="#f0ebe2" stroke-width="1" stroke-linejoin="round"/><polygon points="398.6,415.2 402.4,421.7 394.9,421.7" fill="#7a746c" opacity="0.7"/><polygon points="399.1,417.1 400.6,421.1 396.3,420.4" fill="#f0ebe2" stroke="#f0ebe2" stroke-width="1" stroke-linejoin="round"/><polygon points="284.9,383.8 280.8,376.6 289.1,376.6" fill="#7a746c" opacity="0.7"/><polygon points="284.8,382.0 282.4,377.4 287.6,377.6" fill="#f0ebe2" stroke="#f0ebe2" stroke-width="1" stroke-linejoin="round"/><polygon points="430.3,346.2 425.3,337.5 435.3,337.5" fill="#7a746c" opacity="0.7"/><polygon points="430.9,344.4 426.6,338.9 433.4,338.0" fill="#f0ebe2" stroke="#f0ebe2" stroke-width="1" stroke-linejoin="round"/></g></g><g clip-path="url(#cpc)"><rect x="508.5" y="161.5" width="183.2" height="137.5" fill="#b4adf4"/><g filter="url(#bl1)"><circle cx="556.0" cy="255.7" r="1.5" fill="#7cb8f0" opacity="0.7"/><circle cx="627.9" cy="253.1" r="1.7" fill="#7cb8f0" opacity="0.7"/><circle cx="532.4" cy="234.6" r="0.9" fill="#60c8f0" opacity="0.7"/><circle cx="514.0" cy="178.9" r="1.5" fill="#6ebef0" opacity="0.7"/><circle cx="690.4" cy="276.2" r="0.7" fill="#60c8f0" opacity="0.7"/><circle cx="659.9" cy="263.9" r="1.8" fill="#60c8f0" opacity="0.7"/><circle cx="573.7" cy="193.7" r="1.8" fill="#88b0f0" opacity="0.7"/><circle cx="631.4" cy="283.7" r="1.4" fill="#6ebef0" opacity="0.7"/><circle cx="571.9" cy="243.3" r="1.4" fill="#60c8f0" opacity="0.7"/><circle cx="635.1" cy="237.7" r="1.6" fill="#7cb8f0" opacity="0.7"/><circle cx="589.2" cy="261.7" r="1.3" fill="#60c8f0" opacity="0.7"/><circle cx="545.6" cy="233.4" r="0.9" fill="#88b0f0" opacity="0.7"/><circle cx="556.5" cy="200.0" r="1.8" fill="#88b0f0" opacity="0.7"/><circle cx="609.3" cy="239.2" r="1.8" fill="#60c8f0" opacity="0.7"/><circle cx="532.5" cy="220.7" r="1.4" fill="#88b0f0" opacity="0.7"/><circle cx="579.9" cy="260.3" r="1.8" fill="#6ebef0" opacity="0.7"/><circle cx="549.7" cy="230.0" r="1.5" fill="#88b0f0" opacity="0.7"/><circle cx="625.6" cy="183.5" r="1.1" fill="#60c8f0" opacity="0.7"/><circle cx="670.9" cy="271.9" r="0.9" fill="#60c8f0" opacity="0.7"/><circle cx="603.8" cy="251.8" r="1.8" fill="#7cb8f0" opacity="0.7"/><circle cx="640.9" cy="190.6" r="1.4" fill="#6ebef0" opacity="0.7"/><circle cx="574.3" cy="261.6" r="1.0" fill="#60c8f0" opacity="0.7"/><circle cx="543.8" cy="269.8" r="1.3" fill="#7cb8f0" opacity="0.7"/><circle cx="539.2" cy="220.5" r="1.4" fill="#6ebef0" opacity="0.7"/><circle cx="686.4" cy="275.0" r="1.4" fill="#6ebef0" opacity="0.7"/><circle cx="531.7" cy="204.2" r="1.1" fill="#60c8f0" opacity="0.7"/><circle cx="612.0" cy="257.6" r="1.8" fill="#60c8f0" opacity="0.7"/><circle cx="664.5" cy="166.4" r="1.0" fill="#7cb8f0" opacity="0.7"/><circle cx="599.5" cy="294.8" r="1.3" fill="#88b0f0" opacity="0.7"/><circle cx="549.4" cy="190.0" r="1.6" fill="#88b0f0" opacity="0.7"/><circle cx="600.4" cy="286.7" r="1.6" fill="#60c8f0" opacity="0.7"/><circle cx="586.4" cy="274.8" r="0.9" fill="#88b0f0" opacity="0.7"/><circle cx="616.2" cy="210.4" r="0.9" fill="#60c8f0" opacity="0.7"/><circle cx="586.9" cy="249.6" r="1.2" fill="#60c8f0" opacity="0.7"/><circle cx="581.3" cy="173.4" r="1.6" fill="#6ebef0" opacity="0.7"/><circle cx="628.2" cy="203.6" r="1.2" fill="#88b0f0" opacity="0.7"/><circle cx="569.5" cy="201.3" r="1.2" fill="#7cb8f0" opacity="0.7"/><circle cx="535.7" cy="168.7" r="1.1" fill="#7cb8f0" opacity="0.7"/><circle cx="548.5" cy="203.2" r="1.1" fill="#6ebef0" opacity="0.7"/><circle cx="572.2" cy="175.2" r="1.2" fill="#88b0f0" opacity="0.7"/><circle cx="516.5" cy="235.1" r="0.8" fill="#6ebef0" opacity="0.7"/><circle cx="567.6" cy="284.3" r="1.3" fill="#7cb8f0" opacity="0.7"/><circle cx="673.8" cy="284.5" r="1.8" fill="#7cb8f0" opacity="0.7"/><circle cx="524.9" cy="289.6" r="0.7" fill="#60c8f0" opacity="0.7"/><circle cx="655.4" cy="190.9" r="1.5" fill="#7cb8f0" opacity="0.7"/><circle cx="603.7" cy="288.1" r="1.2" fill="#88b0f0" opacity="0.7"/><circle cx="622.2" cy="277.0" r="1.8" fill="#6ebef0" opacity="0.7"/><circle cx="620.9" cy="291.1" r="1.6" fill="#60c8f0" opacity="0.7"/><circle cx="606.3" cy="202.7" r="1.9" fill="#60c8f0" opacity="0.7"/><circle cx="556.3" cy="212.7" r="1.8" fill="#7cb8f0" opacity="0.7"/><circle cx="641.7" cy="176.2" r="1.5" fill="#6ebef0" opacity="0.7"/><circle cx="691.6" cy="272.7" r="1.2" fill="#60c8f0" opacity="0.7"/><circle cx="676.7" cy="167.1" r="0.7" fill="#88b0f0" opacity="0.7"/><circle cx="691.0" cy="226.3" r="0.9" fill="#7cb8f0" opacity="0.7"/><circle cx="591.0" cy="162.0" r="0.6" fill="#60c8f0" opacity="0.7"/><circle cx="559.1" cy="192.6" r="1.9" fill="#60c8f0" opacity="0.7"/><circle cx="584.7" cy="298.1" r="1.6" fill="#88b0f0" opacity="0.7"/><circle cx="583.5" cy="182.8" r="1.4" fill="#88b0f0" opacity="0.7"/><circle cx="544.0" cy="213.1" r="1.2" fill="#7cb8f0" opacity="0.7"/><circle cx="513.8" cy="286.0" r="1.2" fill="#7cb8f0" opacity="0.7"/><circle cx="531.5" cy="162.3" r="0.8" fill="#6ebef0" opacity="0.7"/><circle cx="670.7" cy="229.8" r="1.3" fill="#6ebef0" opacity="0.7"/><circle cx="547.8" cy="264.0" r="1.4" fill="#88b0f0" opacity="0.7"/><circle cx="513.4" cy="234.6" r="1.6" fill="#7cb8f0" opacity="0.7"/><circle cx="563.1" cy="246.7" r="1.4" fill="#88b0f0" opacity="0.7"/><circle cx="678.1" cy="196.9" r="1.2" fill="#6ebef0" opacity="0.7"/><circle cx="553.1" cy="234.4" r="0.6" fill="#88b0f0" opacity="0.7"/><circle cx="671.9" cy="286.2" r="1.4" fill="#6ebef0" opacity="0.7"/><circle cx="604.6" cy="298.0" r="0.9" fill="#6ebef0" opacity="0.7"/><circle cx="526.9" cy="287.2" r="1.8" fill="#60c8f0" opacity="0.7"/><circle cx="660.8" cy="255.2" r="1.5" fill="#60c8f0" opacity="0.7"/><circle cx="616.7" cy="196.9" r="0.8" fill="#7cb8f0" opacity="0.7"/><circle cx="617.8" cy="169.3" r="1.4" fill="#6ebef0" opacity="0.7"/><circle cx="650.5" cy="282.0" r="1.1" fill="#88b0f0" opacity="0.7"/><circle cx="656.0" cy="232.1" r="0.7" fill="#88b0f0" opacity="0.7"/><circle cx="605.1" cy="200.1" r="1.1" fill="#6ebef0" opacity="0.7"/><circle cx="675.7" cy="255.5" r="1.1" fill="#6ebef0" opacity="0.7"/><circle cx="648.8" cy="289.6" r="1.0" fill="#6ebef0" opacity="0.7"/><circle cx="689.2" cy="223.1" r="1.1" fill="#6ebef0" opacity="0.7"/><circle cx="523.1" cy="191.1" r="0.8" fill="#60c8f0" opacity="0.7"/><circle cx="689.9" cy="277.0" r="1.3" fill="#88b0f0" opacity="0.7"/><circle cx="679.5" cy="202.0" r="0.9" fill="#6ebef0" opacity="0.7"/><circle cx="645.8" cy="251.7" r="1.8" fill="#88b0f0" opacity="0.7"/><circle cx="623.5" cy="204.6" r="1.9" fill="#7cb8f0" opacity="0.7"/><circle cx="636.4" cy="168.3" r="0.9" fill="#7cb8f0" opacity="0.7"/><circle cx="629.3" cy="259.0" r="1.5" fill="#88b0f0" opacity="0.7"/><circle cx="664.8" cy="182.8" r="0.7" fill="#6ebef0" opacity="0.7"/><circle cx="603.5" cy="233.1" r="1.6" fill="#7cb8f0" opacity="0.7"/><circle cx="525.3" cy="268.1" r="1.0" fill="#60c8f0" opacity="0.7"/><circle cx="553.3" cy="200.2" r="1.4" fill="#88b0f0" opacity="0.7"/><circle cx="674.6" cy="200.0" r="1.5" fill="#6ebef0" opacity="0.7"/><circle cx="662.3" cy="173.1" r="0.7" fill="#6ebef0" opacity="0.7"/><circle cx="685.3" cy="196.5" r="1.7" fill="#7cb8f0" opacity="0.7"/><circle cx="622.9" cy="175.3" r="1.2" fill="#6ebef0" opacity="0.7"/><circle cx="516.9" cy="284.6" r="1.3" fill="#7cb8f0" opacity="0.7"/><circle cx="638.6" cy="193.6" r="1.0" fill="#60c8f0" opacity="0.7"/><circle cx="531.4" cy="259.5" r="1.2" fill="#6ebef0" opacity="0.7"/><circle cx="649.5" cy="279.2" r="0.9" fill="#6ebef0" opacity="0.7"/><circle cx="585.7" cy="180.6" r="0.6" fill="#7cb8f0" opacity="0.7"/><circle cx="553.2" cy="182.3" r="1.8" fill="#6ebef0" opacity="0.7"/><circle cx="573.9" cy="206.7" r="1.1" fill="#7cb8f0" opacity="0.7"/><circle cx="528.1" cy="263.5" r="1.3" fill="#88b0f0" opacity="0.7"/><circle cx="681.3" cy="271.3" r="1.4" fill="#6ebef0" opacity="0.7"/><circle cx="598.6" cy="237.4" r="1.7" fill="#88b0f0" opacity="0.7"/><circle cx="655.0" cy="216.2" r="1.1" fill="#88b0f0" opacity="0.7"/><circle cx="581.8" cy="172.6" r="0.9" fill="#7cb8f0" opacity="0.7"/><circle cx="661.3" cy="243.2" r="1.3" fill="#88b0f0" opacity="0.7"/><circle cx="589.2" cy="235.3" r="1.6" fill="#88b0f0" opacity="0.7"/><circle cx="644.7" cy="284.0" r="1.3" fill="#7cb8f0" opacity="0.7"/><circle cx="513.4" cy="295.2" r="0.7" fill="#60c8f0" opacity="0.7"/><circle cx="673.2" cy="167.4" r="1.1" fill="#88b0f0" opacity="0.7"/><circle cx="581.8" cy="246.2" r="1.2" fill="#7cb8f0" opacity="0.7"/><circle cx="587.5" cy="239.5" r="0.7" fill="#88b0f0" opacity="0.7"/><circle cx="549.1" cy="252.6" r="0.8" fill="#88b0f0" opacity="0.7"/><circle cx="546.0" cy="166.6" r="0.6" fill="#88b0f0" opacity="0.7"/><circle cx="582.2" cy="281.8" r="0.8" fill="#88b0f0" opacity="0.7"/><circle cx="524.3" cy="294.8" r="1.4" fill="#88b0f0" opacity="0.7"/><circle cx="523.4" cy="235.0" r="1.5" fill="#6ebef0" opacity="0.7"/><circle cx="519.5" cy="271.2" r="1.4" fill="#7cb8f0" opacity="0.7"/><circle cx="641.1" cy="165.3" r="1.5" fill="#7cb8f0" opacity="0.7"/><circle cx="593.8" cy="166.4" r="1.7" fill="#7cb8f0" opacity="0.7"/><circle cx="559.3" cy="271.7" r="1.3" fill="#7cb8f0" opacity="0.7"/><circle cx="535.5" cy="270.6" r="1.5" fill="#6ebef0" opacity="0.7"/><circle cx="541.0" cy="170.7" r="0.8" fill="#88b0f0" opacity="0.7"/><circle cx="684.6" cy="253.1" r="1.2" fill="#7cb8f0" opacity="0.7"/><circle cx="520.9" cy="268.8" r="0.7" fill="#6ebef0" opacity="0.7"/><circle cx="579.5" cy="257.4" r="0.8" fill="#6ebef0" opacity="0.7"/><circle cx="642.6" cy="214.0" r="0.9" fill="#88b0f0" opacity="0.7"/><circle cx="632.6" cy="298.4" r="0.8" fill="#7cb8f0" opacity="0.7"/><circle cx="670.2" cy="276.9" r="1.4" fill="#6ebef0" opacity="0.7"/><circle cx="600.8" cy="220.6" r="1.7" fill="#88b0f0" opacity="0.7"/><circle cx="621.8" cy="195.3" r="1.0" fill="#88b0f0" opacity="0.7"/><circle cx="649.8" cy="162.4" r="1.6" fill="#88b0f0" opacity="0.7"/><circle cx="551.6" cy="253.8" r="1.7" fill="#60c8f0" opacity="0.7"/><circle cx="512.2" cy="267.4" r="1.8" fill="#60c8f0" opacity="0.7"/><circle cx="619.5" cy="286.8" r="1.5" fill="#6ebef0" opacity="0.7"/><circle cx="629.8" cy="288.1" r="0.8" fill="#60c8f0" opacity="0.7"/><circle cx="552.7" cy="222.1" r="1.5" fill="#60c8f0" opacity="0.7"/><circle cx="526.9" cy="166.4" r="1.0" fill="#6ebef0" opacity="0.7"/><circle cx="521.4" cy="284.0" r="0.7" fill="#60c8f0" opacity="0.7"/><circle cx="524.1" cy="266.7" r="1.6" fill="#7cb8f0" opacity="0.7"/><circle cx="645.2" cy="228.3" r="1.3" fill="#6ebef0" opacity="0.7"/><circle cx="594.0" cy="260.0" r="1.8" fill="#60c8f0" opacity="0.7"/><circle cx="609.8" cy="293.9" r="0.7" fill="#88b0f0" opacity="0.7"/><circle cx="648.5" cy="279.4" r="1.7" fill="#7cb8f0" opacity="0.7"/><circle cx="682.6" cy="182.9" r="1.3" fill="#6ebef0" opacity="0.7"/><circle cx="579.6" cy="201.7" r="1.2" fill="#88b0f0" opacity="0.7"/><circle cx="658.0" cy="229.8" r="0.7" fill="#88b0f0" opacity="0.7"/><circle cx="563.8" cy="172.2" r="1.2" fill="#7cb8f0" opacity="0.7"/><circle cx="595.0" cy="255.4" r="1.2" fill="#6ebef0" opacity="0.7"/><circle cx="595.2" cy="203.5" r="1.4" fill="#60c8f0" opacity="0.7"/><circle cx="510.5" cy="291.6" r="0.6" fill="#7cb8f0" opacity="0.7"/><circle cx="605.1" cy="166.7" r="1.0" fill="#88b0f0" opacity="0.7"/><circle cx="508.7" cy="219.7" r="1.5" fill="#88b0f0" opacity="0.7"/><circle cx="517.7" cy="182.6" r="1.6" fill="#88b0f0" opacity="0.7"/><circle cx="554.0" cy="280.7" r="1.3" fill="#7cb8f0" opacity="0.7"/><circle cx="512.7" cy="204.7" r="0.8" fill="#7cb8f0" opacity="0.7"/><circle cx="548.8" cy="210.5" r="1.8" fill="#88b0f0" opacity="0.7"/><circle cx="662.7" cy="248.3" r="0.6" fill="#7cb8f0" opacity="0.7"/><circle cx="647.0" cy="197.0" r="1.8" fill="#7cb8f0" opacity="0.7"/><circle cx="533.8" cy="218.8" r="1.1" fill="#60c8f0" opacity="0.7"/><circle cx="566.1" cy="196.6" r="1.5" fill="#60c8f0" opacity="0.7"/><circle cx="627.5" cy="280.4" r="0.8" fill="#7cb8f0" opacity="0.7"/><circle cx="527.8" cy="189.9" r="1.0" fill="#7cb8f0" opacity="0.7"/><circle cx="632.7" cy="294.8" r="1.1" fill="#7cb8f0" opacity="0.7"/><circle cx="543.3" cy="232.3" r="0.8" fill="#60c8f0" opacity="0.7"/><circle cx="685.1" cy="225.7" r="1.1" fill="#88b0f0" opacity="0.7"/><circle cx="522.3" cy="239.5" r="1.3" fill="#60c8f0" opacity="0.7"/><circle cx="562.8" cy="256.5" r="1.2" fill="#6ebef0" opacity="0.7"/><circle cx="605.9" cy="286.6" r="0.7" fill="#6ebef0" opacity="0.7"/><circle cx="623.1" cy="210.4" r="1.4" fill="#88b0f0" opacity="0.7"/><circle cx="645.1" cy="214.7" r="0.8" fill="#7cb8f0" opacity="0.7"/><circle cx="683.4" cy="260.6" r="1.1" fill="#6ebef0" opacity="0.7"/><circle cx="619.7" cy="189.9" r="1.5" fill="#88b0f0" opacity="0.7"/><circle cx="583.6" cy="254.0" r="1.7" fill="#88b0f0" opacity="0.7"/><circle cx="612.3" cy="280.1" r="1.2" fill="#88b0f0" opacity="0.7"/><circle cx="509.8" cy="275.0" r="1.7" fill="#88b0f0" opacity="0.7"/><circle cx="662.0" cy="294.2" r="1.1" fill="#60c8f0" opacity="0.7"/><circle cx="640.9" cy="280.9" r="1.6" fill="#7cb8f0" opacity="0.7"/><circle cx="516.5" cy="290.3" r="1.6" fill="#7cb8f0" opacity="0.7"/><circle cx="646.8" cy="280.5" r="1.8" fill="#60c8f0" opacity="0.7"/><circle cx="666.5" cy="211.8" r="1.2" fill="#7cb8f0" opacity="0.7"/><circle cx="613.6" cy="225.4" r="1.1" fill="#88b0f0" opacity="0.7"/><circle cx="526.5" cy="291.8" r="1.9" fill="#7cb8f0" opacity="0.7"/><circle cx="653.8" cy="278.0" r="0.6" fill="#6ebef0" opacity="0.7"/><circle cx="584.4" cy="185.1" r="0.9" fill="#7cb8f0" opacity="0.7"/><circle cx="685.4" cy="207.0" r="1.3" fill="#88b0f0" opacity="0.7"/><circle cx="604.7" cy="178.0" r="1.4" fill="#88b0f0" opacity="0.7"/><circle cx="660.8" cy="168.9" r="1.8" fill="#6ebef0" opacity="0.7"/><circle cx="672.5" cy="239.9" r="0.9" fill="#6ebef0" opacity="0.7"/><circle cx="596.4" cy="244.4" r="1.2" fill="#60c8f0" opacity="0.7"/><circle cx="642.5" cy="222.3" r="1.1" fill="#7cb8f0" opacity="0.7"/><circle cx="618.8" cy="281.5" r="1.3" fill="#88b0f0" opacity="0.7"/><circle cx="642.5" cy="279.3" r="1.1" fill="#60c8f0" opacity="0.7"/><circle cx="677.6" cy="237.5" r="0.7" fill="#7cb8f0" opacity="0.7"/><circle cx="659.3" cy="274.0" r="1.3" fill="#60c8f0" opacity="0.7"/><circle cx="571.7" cy="246.0" r="0.9" fill="#6ebef0" opacity="0.7"/><circle cx="648.0" cy="217.5" r="1.8" fill="#6ebef0" opacity="0.7"/><circle cx="646.3" cy="207.1" r="1.7" fill="#60c8f0" opacity="0.7"/><circle cx="522.5" cy="219.9" r="1.3" fill="#60c8f0" opacity="0.7"/><circle cx="643.3" cy="253.4" r="1.5" fill="#6ebef0" opacity="0.7"/><circle cx="609.9" cy="164.2" r="1.2" fill="#7cb8f0" opacity="0.7"/><circle cx="509.2" cy="176.3" r="1.8" fill="#6ebef0" opacity="0.7"/><circle cx="601.2" cy="202.1" r="1.0" fill="#88b0f0" opacity="0.7"/><circle cx="683.9" cy="222.6" r="1.0" fill="#7cb8f0" opacity="0.7"/><circle cx="669.4" cy="286.9" r="1.2" fill="#88b0f0" opacity="0.7"/><circle cx="604.0" cy="181.1" r="0.7" fill="#60c8f0" opacity="0.7"/><circle cx="608.4" cy="165.2" r="1.0" fill="#7cb8f0" opacity="0.7"/><circle cx="559.4" cy="248.7" r="1.4" fill="#60c8f0" opacity="0.7"/><circle cx="550.1" cy="200.4" r="0.9" fill="#60c8f0" opacity="0.7"/><circle cx="522.6" cy="185.7" r="0.7" fill="#7cb8f0" opacity="0.7"/><circle cx="684.5" cy="253.4" r="1.2" fill="#88b0f0" opacity="0.7"/><circle cx="631.9" cy="167.7" r="0.7" fill="#6ebef0" opacity="0.7"/><circle cx="632.9" cy="286.6" r="0.7" fill="#60c8f0" opacity="0.7"/><circle cx="554.4" cy="289.5" r="0.6" fill="#7cb8f0" opacity="0.7"/><circle cx="568.6" cy="232.8" r="0.8" fill="#88b0f0" opacity="0.7"/><circle cx="555.0" cy="219.1" r="1.3" fill="#7cb8f0" opacity="0.7"/><circle cx="548.5" cy="184.7" r="1.2" fill="#88b0f0" opacity="0.7"/><circle cx="535.9" cy="248.7" r="0.8" fill="#60c8f0" opacity="0.7"/><circle cx="534.4" cy="250.0" r="1.6" fill="#88b0f0" opacity="0.7"/><circle cx="682.1" cy="232.0" r="1.1" fill="#7cb8f0" opacity="0.7"/><circle cx="510.2" cy="232.8" r="1.1" fill="#60c8f0" opacity="0.7"/><circle cx="580.1" cy="196.0" r="1.7" fill="#6ebef0" opacity="0.7"/><circle cx="615.7" cy="259.2" r="1.0" fill="#7cb8f0" opacity="0.7"/><circle cx="528.8" cy="177.2" r="1.5" fill="#88b0f0" opacity="0.7"/><circle cx="635.0" cy="254.0" r="1.7" fill="#88b0f0" opacity="0.7"/><circle cx="537.4" cy="241.0" r="1.5" fill="#7cb8f0" opacity="0.7"/><circle cx="634.9" cy="233.5" r="1.6" fill="#6ebef0" opacity="0.7"/><circle cx="516.9" cy="191.7" r="1.2" fill="#7cb8f0" opacity="0.7"/><circle cx="646.7" cy="199.9" r="1.3" fill="#7cb8f0" opacity="0.7"/><circle cx="631.1" cy="169.8" r="1.1" fill="#60c8f0" opacity="0.7"/><circle cx="602.1" cy="252.9" r="1.5" fill="#88b0f0" opacity="0.7"/><circle cx="591.2" cy="205.1" r="0.8" fill="#7cb8f0" opacity="0.7"/><circle cx="627.8" cy="265.0" r="1.0" fill="#7cb8f0" opacity="0.7"/><circle cx="571.2" cy="208.4" r="1.7" fill="#6ebef0" opacity="0.7"/><circle cx="668.5" cy="215.4" r="1.1" fill="#88b0f0" opacity="0.7"/><circle cx="612.2" cy="243.2" r="1.8" fill="#88b0f0" opacity="0.7"/><circle cx="516.7" cy="295.4" r="0.7" fill="#88b0f0" opacity="0.7"/><circle cx="668.7" cy="174.9" r="1.7" fill="#6ebef0" opacity="0.7"/><circle cx="684.1" cy="224.3" r="1.2" fill="#88b0f0" opacity="0.7"/><circle cx="607.9" cy="178.2" r="1.7" fill="#7cb8f0" opacity="0.7"/><circle cx="571.1" cy="247.8" r="0.7" fill="#60c8f0" opacity="0.7"/><circle cx="636.3" cy="292.5" r="1.7" fill="#60c8f0" opacity="0.7"/><circle cx="541.4" cy="178.9" r="1.8" fill="#88b0f0" opacity="0.7"/><circle cx="547.8" cy="185.8" r="1.4" fill="#7cb8f0" opacity="0.7"/><circle cx="554.9" cy="241.7" r="1.3" fill="#7cb8f0" opacity="0.7"/><circle cx="566.1" cy="222.9" r="0.7" fill="#6ebef0" opacity="0.7"/><circle cx="574.9" cy="194.8" r="1.0" fill="#6ebef0" opacity="0.7"/><circle cx="632.1" cy="177.3" r="1.7" fill="#6ebef0" opacity="0.7"/><circle cx="605.0" cy="275.8" r="1.4" fill="#6ebef0" opacity="0.7"/><circle cx="560.7" cy="177.6" r="0.8" fill="#88b0f0" opacity="0.7"/><circle cx="534.9" cy="254.5" r="1.8" fill="#6ebef0" opacity="0.7"/><circle cx="690.8" cy="250.6" r="1.1" fill="#7cb8f0" opacity="0.7"/><circle cx="663.8" cy="208.3" r="0.8" fill="#6ebef0" opacity="0.7"/><circle cx="563.1" cy="293.5" r="1.9" fill="#7cb8f0" opacity="0.7"/><circle cx="599.6" cy="292.2" r="1.8" fill="#6ebef0" opacity="0.7"/><circle cx="532.4" cy="223.0" r="1.4" fill="#6ebef0" opacity="0.7"/><circle cx="554.9" cy="212.5" r="1.2" fill="#60c8f0" opacity="0.7"/><circle cx="535.9" cy="250.4" r="1.3" fill="#7cb8f0" opacity="0.7"/><circle cx="648.6" cy="252.8" r="1.4" fill="#6ebef0" opacity="0.7"/><circle cx="591.1" cy="254.1" r="1.8" fill="#6ebef0" opacity="0.7"/><circle cx="574.7" cy="168.7" r="1.2" fill="#88b0f0" opacity="0.7"/><circle cx="558.5" cy="240.8" r="0.6" fill="#60c8f0" opacity="0.7"/><circle cx="517.9" cy="261.6" r="1.2" fill="#60c8f0" opacity="0.7"/><circle cx="550.9" cy="200.1" r="1.6" fill="#60c8f0" opacity="0.7"/><circle cx="592.5" cy="205.1" r="1.7" fill="#7cb8f0" opacity="0.7"/><circle cx="686.4" cy="270.3" r="1.9" fill="#6ebef0" opacity="0.7"/><circle cx="574.4" cy="289.8" r="0.8" fill="#7cb8f0" opacity="0.7"/><circle cx="637.1" cy="177.3" r="1.0" fill="#7cb8f0" opacity="0.7"/><circle cx="683.9" cy="293.3" r="1.3" fill="#60c8f0" opacity="0.7"/><circle cx="616.7" cy="202.6" r="1.1" fill="#88b0f0" opacity="0.7"/><circle cx="564.0" cy="275.3" r="0.7" fill="#6ebef0" opacity="0.7"/><circle cx="556.3" cy="183.1" r="1.9" fill="#6ebef0" opacity="0.7"/><circle cx="595.0" cy="282.2" r="0.9" fill="#7cb8f0" opacity="0.7"/><circle cx="575.5" cy="260.5" r="0.8" fill="#6ebef0" opacity="0.7"/><circle cx="596.1" cy="214.3" r="1.1" fill="#88b0f0" opacity="0.7"/><circle cx="559.0" cy="234.6" r="0.7" fill="#7cb8f0" opacity="0.7"/><circle cx="516.7" cy="191.6" r="1.1" fill="#60c8f0" opacity="0.7"/><circle cx="660.7" cy="292.5" r="1.2" fill="#7cb8f0" opacity="0.7"/><circle cx="591.0" cy="237.9" r="1.9" fill="#7cb8f0" opacity="0.7"/><circle cx="534.8" cy="272.8" r="1.0" fill="#6ebef0" opacity="0.7"/><circle cx="676.7" cy="185.5" r="0.8" fill="#60c8f0" opacity="0.7"/><circle cx="562.4" cy="197.8" r="1.8" fill="#60c8f0" opacity="0.7"/><circle cx="648.3" cy="274.5" r="1.2" fill="#88b0f0" opacity="0.7"/><circle cx="537.1" cy="168.0" r="1.6" fill="#60c8f0" opacity="0.7"/><circle cx="691.2" cy="225.5" r="1.0" fill="#7cb8f0" opacity="0.7"/><circle cx="561.3" cy="265.0" r="1.1" fill="#88b0f0" opacity="0.7"/><circle cx="642.0" cy="255.2" r="1.2" fill="#88b0f0" opacity="0.7"/><circle cx="633.7" cy="278.2" r="0.9" fill="#6ebef0" opacity="0.7"/><circle cx="618.2" cy="247.1" r="0.8" fill="#6ebef0" opacity="0.7"/><circle cx="558.7" cy="183.9" r="1.6" fill="#7cb8f0" opacity="0.7"/><circle cx="539.7" cy="267.7" r="0.7" fill="#6ebef0" opacity="0.7"/><circle cx="581.0" cy="240.0" r="1.5" fill="#60c8f0" opacity="0.7"/><circle cx="578.6" cy="282.5" r="1.8" fill="#88b0f0" opacity="0.7"/><circle cx="580.5" cy="245.6" r="1.5" fill="#88b0f0" opacity="0.7"/><circle cx="572.6" cy="249.7" r="1.5" fill="#7cb8f0" opacity="0.7"/><circle cx="523.9" cy="255.3" r="1.2" fill="#88b0f0" opacity="0.7"/><circle cx="605.4" cy="180.5" r="0.9" fill="#60c8f0" opacity="0.7"/><circle cx="667.6" cy="177.0" r="1.7" fill="#60c8f0" opacity="0.7"/><circle cx="642.9" cy="191.7" r="1.4" fill="#6ebef0" opacity="0.7"/><circle cx="521.7" cy="245.8" r="0.6" fill="#7cb8f0" opacity="0.7"/><circle cx="615.2" cy="235.9" r="0.8" fill="#88b0f0" opacity="0.7"/><circle cx="668.4" cy="212.3" r="1.2" fill="#6ebef0" opacity="0.7"/><circle cx="635.5" cy="222.0" r="1.6" fill="#6ebef0" opacity="0.7"/><circle cx="521.6" cy="167.5" r="1.8" fill="#60c8f0" opacity="0.7"/><circle cx="689.2" cy="264.8" r="1.6" fill="#6ebef0" opacity="0.7"/><circle cx="518.0" cy="250.9" r="1.1" fill="#6ebef0" opacity="0.7"/><circle cx="680.4" cy="200.9" r="1.0" fill="#88b0f0" opacity="0.7"/><circle cx="584.3" cy="242.5" r="1.3" fill="#60c8f0" opacity="0.7"/><circle cx="552.4" cy="273.1" r="1.0" fill="#60c8f0" opacity="0.7"/><circle cx="659.0" cy="255.1" r="0.8" fill="#88b0f0" opacity="0.7"/><circle cx="665.3" cy="242.2" r="1.4" fill="#7cb8f0" opacity="0.7"/><circle cx="680.2" cy="182.9" r="1.0" fill="#6ebef0" opacity="0.7"/><circle cx="594.1" cy="198.2" r="1.0" fill="#7cb8f0" opacity="0.7"/><circle cx="658.8" cy="257.2" r="0.9" fill="#6ebef0" opacity="0.7"/><circle cx="633.8" cy="242.4" r="1.3" fill="#6ebef0" opacity="0.7"/><circle cx="682.4" cy="215.0" r="0.8" fill="#88b0f0" opacity="0.7"/><circle cx="679.1" cy="262.3" r="1.2" fill="#6ebef0" opacity="0.7"/><circle cx="560.5" cy="171.3" r="1.7" fill="#7cb8f0" opacity="0.7"/><circle cx="629.0" cy="232.7" r="1.1" fill="#6ebef0" opacity="0.7"/><circle cx="546.6" cy="240.8" r="1.2" fill="#7cb8f0" opacity="0.7"/><circle cx="689.0" cy="266.6" r="1.3" fill="#60c8f0" opacity="0.7"/><circle cx="562.2" cy="237.6" r="1.9" fill="#6ebef0" opacity="0.7"/><circle cx="572.1" cy="257.5" r="1.1" fill="#7cb8f0" opacity="0.7"/><circle cx="543.3" cy="255.5" r="0.7" fill="#6ebef0" opacity="0.7"/><circle cx="641.2" cy="210.6" r="0.6" fill="#7cb8f0" opacity="0.7"/><circle cx="557.8" cy="211.2" r="1.8" fill="#88b0f0" opacity="0.7"/><circle cx="632.9" cy="183.3" r="0.8" fill="#60c8f0" opacity="0.7"/><circle cx="657.6" cy="243.9" r="1.7" fill="#7cb8f0" opacity="0.7"/><circle cx="683.4" cy="270.7" r="1.1" fill="#6ebef0" opacity="0.7"/><circle cx="616.9" cy="219.0" r="1.1" fill="#6ebef0" opacity="0.7"/><circle cx="651.5" cy="218.1" r="0.9" fill="#60c8f0" opacity="0.7"/><circle cx="629.9" cy="174.0" r="0.8" fill="#88b0f0" opacity="0.7"/><circle cx="574.2" cy="179.8" r="1.5" fill="#7cb8f0" opacity="0.7"/><circle cx="559.0" cy="199.2" r="1.5" fill="#7cb8f0" opacity="0.7"/><circle cx="625.4" cy="161.6" r="1.3" fill="#7cb8f0" opacity="0.7"/><circle cx="569.3" cy="289.2" r="1.8" fill="#7cb8f0" opacity="0.7"/><circle cx="609.2" cy="285.3" r="0.6" fill="#6ebef0" opacity="0.7"/><circle cx="527.6" cy="181.5" r="0.6" fill="#7cb8f0" opacity="0.7"/><circle cx="611.5" cy="270.6" r="1.1" fill="#60c8f0" opacity="0.7"/><circle cx="516.3" cy="227.8" r="1.1" fill="#88b0f0" opacity="0.7"/><circle cx="594.9" cy="211.3" r="1.4" fill="#60c8f0" opacity="0.7"/><circle cx="684.8" cy="220.6" r="0.6" fill="#60c8f0" opacity="0.7"/><circle cx="588.3" cy="204.8" r="1.0" fill="#7cb8f0" opacity="0.7"/><circle cx="584.7" cy="172.6" r="1.0" fill="#88b0f0" opacity="0.7"/><circle cx="636.7" cy="185.2" r="1.5" fill="#6ebef0" opacity="0.7"/><circle cx="566.6" cy="205.4" r="1.2" fill="#88b0f0" opacity="0.7"/><circle cx="632.6" cy="188.2" r="1.7" fill="#6ebef0" opacity="0.7"/><circle cx="686.6" cy="241.7" r="0.6" fill="#88b0f0" opacity="0.7"/><circle cx="595.0" cy="221.9" r="1.8" fill="#7cb8f0" opacity="0.7"/><circle cx="651.0" cy="179.0" r="1.8" fill="#7cb8f0" opacity="0.7"/><circle cx="649.6" cy="208.4" r="1.6" fill="#60c8f0" opacity="0.7"/><circle cx="569.9" cy="215.8" r="1.1" fill="#6ebef0" opacity="0.7"/><circle cx="591.7" cy="201.6" r="1.1" fill="#7cb8f0" opacity="0.7"/><circle cx="589.9" cy="236.8" r="1.4" fill="#60c8f0" opacity="0.7"/><circle cx="662.7" cy="294.1" r="1.2" fill="#60c8f0" opacity="0.7"/><circle cx="539.3" cy="232.1" r="1.3" fill="#60c8f0" opacity="0.7"/><circle cx="552.1" cy="201.1" r="1.0" fill="#60c8f0" opacity="0.7"/><circle cx="563.3" cy="241.4" r="1.7" fill="#88b0f0" opacity="0.7"/><circle cx="606.6" cy="194.1" r="1.5" fill="#88b0f0" opacity="0.7"/><circle cx="613.4" cy="223.4" r="1.7" fill="#60c8f0" opacity="0.7"/><circle cx="612.8" cy="296.6" r="1.1" fill="#7cb8f0" opacity="0.7"/><circle cx="600.1" cy="291.5" r="1.7" fill="#6ebef0" opacity="0.7"/><circle cx="546.8" cy="286.5" r="1.4" fill="#6ebef0" opacity="0.7"/><circle cx="669.0" cy="273.9" r="1.9" fill="#88b0f0" opacity="0.7"/><circle cx="631.9" cy="175.7" r="1.5" fill="#60c8f0" opacity="0.7"/><circle cx="568.2" cy="189.8" r="1.6" fill="#60c8f0" opacity="0.7"/><circle cx="686.2" cy="268.1" r="1.7" fill="#7cb8f0" opacity="0.7"/><circle cx="587.9" cy="204.0" r="0.9" fill="#6ebef0" opacity="0.7"/><circle cx="634.6" cy="216.5" r="1.4" fill="#60c8f0" opacity="0.7"/><circle cx="537.0" cy="247.1" r="1.9" fill="#6ebef0" opacity="0.7"/><circle cx="585.0" cy="208.8" r="1.2" fill="#6ebef0" opacity="0.7"/><circle cx="578.2" cy="291.2" r="1.0" fill="#60c8f0" opacity="0.7"/><circle cx="658.9" cy="282.0" r="1.6" fill="#7cb8f0" opacity="0.7"/><circle cx="543.2" cy="289.6" r="0.6" fill="#88b0f0" opacity="0.7"/><circle cx="549.5" cy="254.4" r="0.9" fill="#7cb8f0" opacity="0.7"/><circle cx="515.8" cy="269.4" r="0.9" fill="#7cb8f0" opacity="0.7"/><circle cx="629.2" cy="216.6" r="1.8" fill="#88b0f0" opacity="0.7"/><circle cx="609.1" cy="270.9" r="1.1" fill="#7cb8f0" opacity="0.7"/><circle cx="518.0" cy="223.4" r="0.9" fill="#60c8f0" opacity="0.7"/><circle cx="585.5" cy="282.8" r="1.1" fill="#60c8f0" opacity="0.7"/><circle cx="521.2" cy="249.3" r="1.7" fill="#7cb8f0" opacity="0.7"/><circle cx="595.5" cy="234.4" r="1.8" fill="#6ebef0" opacity="0.7"/><circle cx="521.3" cy="210.7" r="1.2" fill="#60c8f0" opacity="0.7"/><circle cx="527.6" cy="256.9" r="1.0" fill="#7cb8f0" opacity="0.7"/><circle cx="574.9" cy="185.0" r="1.7" fill="#6ebef0" opacity="0.7"/><circle cx="574.2" cy="212.6" r="0.9" fill="#60c8f0" opacity="0.7"/><circle cx="520.1" cy="274.5" r="0.9" fill="#88b0f0" opacity="0.7"/><circle cx="590.0" cy="196.8" r="0.9" fill="#7cb8f0" opacity="0.7"/><circle cx="648.4" cy="220.5" r="1.1" fill="#60c8f0" opacity="0.7"/><circle cx="652.4" cy="256.9" r="1.9" fill="#7cb8f0" opacity="0.7"/><circle cx="679.9" cy="225.6" r="1.4" fill="#88b0f0" opacity="0.7"/><circle cx="569.3" cy="264.0" r="1.1" fill="#6ebef0" opacity="0.7"/><circle cx="553.1" cy="213.7" r="1.6" fill="#88b0f0" opacity="0.7"/><circle cx="617.1" cy="162.0" r="1.9" fill="#88b0f0" opacity="0.7"/><circle cx="584.1" cy="255.8" r="1.3" fill="#60c8f0" opacity="0.7"/><circle cx="664.1" cy="210.2" r="1.3" fill="#60c8f0" opacity="0.7"/><circle cx="676.0" cy="257.7" r="1.8" fill="#6ebef0" opacity="0.7"/><circle cx="669.7" cy="235.2" r="1.8" fill="#7cb8f0" opacity="0.7"/><circle cx="623.3" cy="214.1" r="1.8" fill="#6ebef0" opacity="0.7"/><circle cx="571.4" cy="222.1" r="1.0" fill="#60c8f0" opacity="0.7"/><circle cx="642.5" cy="182.7" r="1.5" fill="#6ebef0" opacity="0.7"/><circle cx="535.9" cy="183.5" r="1.5" fill="#88b0f0" opacity="0.7"/><circle cx="656.7" cy="216.3" r="1.9" fill="#60c8f0" opacity="0.7"/><circle cx="556.0" cy="277.6" r="1.5" fill="#60c8f0" opacity="0.7"/><circle cx="536.4" cy="220.6" r="1.7" fill="#60c8f0" opacity="0.7"/><circle cx="638.9" cy="294.7" r="1.0" fill="#60c8f0" opacity="0.7"/><circle cx="679.4" cy="183.9" r="1.4" fill="#60c8f0" opacity="0.7"/><circle cx="683.0" cy="182.9" r="0.9" fill="#7cb8f0" opacity="0.7"/><circle cx="530.6" cy="231.8" r="1.4" fill="#60c8f0" opacity="0.7"/><circle cx="548.8" cy="200.8" r="1.9" fill="#88b0f0" opacity="0.7"/><circle cx="610.7" cy="165.2" r="1.8" fill="#60c8f0" opacity="0.7"/><circle cx="691.6" cy="290.3" r="1.8" fill="#7cb8f0" opacity="0.7"/><circle cx="599.8" cy="256.4" r="0.9" fill="#88b0f0" opacity="0.7"/><circle cx="607.0" cy="286.7" r="1.3" fill="#88b0f0" opacity="0.7"/><circle cx="605.3" cy="277.8" r="1.4" fill="#88b0f0" opacity="0.7"/><circle cx="631.3" cy="215.9" r="1.5" fill="#7cb8f0" opacity="0.7"/><circle cx="608.6" cy="241.9" r="1.1" fill="#88b0f0" opacity="0.7"/><circle cx="589.4" cy="202.9" r="1.4" fill="#88b0f0" opacity="0.7"/><circle cx="608.1" cy="256.4" r="1.7" fill="#6ebef0" opacity="0.7"/><circle cx="524.1" cy="286.4" r="1.3" fill="#88b0f0" opacity="0.7"/><circle cx="630.5" cy="183.0" r="1.5" fill="#88b0f0" opacity="0.7"/><circle cx="612.2" cy="185.5" r="1.8" fill="#7cb8f0" opacity="0.7"/><circle cx="526.8" cy="161.7" r="1.8" fill="#7cb8f0" opacity="0.7"/><circle cx="599.2" cy="217.4" r="0.7" fill="#7cb8f0" opacity="0.7"/><circle cx="611.5" cy="244.2" r="0.8" fill="#60c8f0" opacity="0.7"/><circle cx="684.0" cy="215.4" r="1.2" fill="#60c8f0" opacity="0.7"/><circle cx="527.5" cy="249.0" r="1.6" fill="#7cb8f0" opacity="0.7"/><circle cx="631.8" cy="249.5" r="1.5" fill="#60c8f0" opacity="0.7"/><circle cx="517.3" cy="237.7" r="1.7" fill="#6ebef0" opacity="0.7"/><circle cx="596.2" cy="249.8" r="1.2" fill="#60c8f0" opacity="0.7"/><circle cx="533.0" cy="263.5" r="1.2" fill="#88b0f0" opacity="0.7"/><circle cx="537.5" cy="294.9" r="0.8" fill="#6ebef0" opacity="0.7"/><circle cx="586.5" cy="251.2" r="1.0" fill="#7cb8f0" opacity="0.7"/><circle cx="536.4" cy="272.3" r="0.6" fill="#60c8f0" opacity="0.7"/><circle cx="621.4" cy="229.2" r="1.3" fill="#60c8f0" opacity="0.7"/><circle cx="574.0" cy="247.4" r="0.8" fill="#60c8f0" opacity="0.7"/><circle cx="663.4" cy="256.7" r="0.6" fill="#60c8f0" opacity="0.7"/><circle cx="599.4" cy="195.4" r="1.2" fill="#60c8f0" opacity="0.7"/><circle cx="649.1" cy="291.6" r="1.8" fill="#7cb8f0" opacity="0.7"/><circle cx="550.1" cy="238.1" r="1.3" fill="#88b0f0" opacity="0.7"/><circle cx="673.4" cy="163.8" r="1.5" fill="#6ebef0" opacity="0.7"/><circle cx="523.8" cy="274.6" r="0.9" fill="#7cb8f0" opacity="0.7"/><circle cx="657.1" cy="250.0" r="0.8" fill="#88b0f0" opacity="0.7"/><circle cx="617.4" cy="196.3" r="1.3" fill="#6ebef0" opacity="0.7"/><circle cx="593.6" cy="230.3" r="1.1" fill="#7cb8f0" opacity="0.7"/><circle cx="521.7" cy="180.1" r="1.9" fill="#7cb8f0" opacity="0.7"/><circle cx="655.1" cy="277.3" r="1.8" fill="#60c8f0" opacity="0.7"/><circle cx="558.3" cy="214.4" r="0.8" fill="#7cb8f0" opacity="0.7"/><circle cx="587.9" cy="199.8" r="0.8" fill="#7cb8f0" opacity="0.7"/><circle cx="526.6" cy="244.4" r="0.7" fill="#60c8f0" opacity="0.7"/><circle cx="573.6" cy="215.0" r="1.3" fill="#7cb8f0" opacity="0.7"/><circle cx="592.4" cy="284.7" r="1.9" fill="#88b0f0" opacity="0.7"/><circle cx="588.6" cy="295.7" r="1.9" fill="#7cb8f0" opacity="0.7"/><circle cx="516.9" cy="261.0" r="1.4" fill="#60c8f0" opacity="0.7"/><circle cx="599.8" cy="203.1" r="0.9" fill="#6ebef0" opacity="0.7"/><circle cx="588.2" cy="253.0" r="1.9" fill="#88b0f0" opacity="0.7"/><circle cx="606.6" cy="260.9" r="1.7" fill="#7cb8f0" opacity="0.7"/><circle cx="658.8" cy="206.1" r="0.7" fill="#6ebef0" opacity="0.7"/><circle cx="552.1" cy="258.2" r="1.3" fill="#88b0f0" opacity="0.7"/><circle cx="658.7" cy="222.6" r="1.3" fill="#60c8f0" opacity="0.7"/><circle cx="583.1" cy="280.5" r="1.4" fill="#6ebef0" opacity="0.7"/><circle cx="609.1" cy="198.5" r="1.3" fill="#88b0f0" opacity="0.7"/><circle cx="655.3" cy="168.4" r="1.8" fill="#6ebef0" opacity="0.7"/><circle cx="595.8" cy="220.5" r="1.7" fill="#7cb8f0" opacity="0.7"/><circle cx="538.8" cy="201.5" r="1.7" fill="#7cb8f0" opacity="0.7"/><circle cx="675.6" cy="256.9" r="1.5" fill="#7cb8f0" opacity="0.7"/><circle cx="566.1" cy="217.0" r="1.0" fill="#6ebef0" opacity="0.7"/><circle cx="686.7" cy="294.8" r="0.7" fill="#88b0f0" opacity="0.7"/><circle cx="515.2" cy="189.6" r="0.8" fill="#88b0f0" opacity="0.7"/><circle cx="529.3" cy="270.5" r="0.8" fill="#6ebef0" opacity="0.7"/><circle cx="602.5" cy="259.3" r="1.1" fill="#7cb8f0" opacity="0.7"/><circle cx="637.7" cy="276.9" r="0.6" fill="#60c8f0" opacity="0.7"/><circle cx="593.9" cy="207.4" r="1.5" fill="#88b0f0" opacity="0.7"/><circle cx="538.7" cy="211.7" r="0.9" fill="#88b0f0" opacity="0.7"/><circle cx="672.5" cy="285.0" r="1.0" fill="#7cb8f0" opacity="0.7"/><circle cx="678.1" cy="282.3" r="0.7" fill="#88b0f0" opacity="0.7"/><circle cx="577.0" cy="229.4" r="0.7" fill="#60c8f0" opacity="0.7"/><circle cx="567.5" cy="270.2" r="0.9" fill="#6ebef0" opacity="0.7"/><circle cx="518.4" cy="236.5" r="1.3" fill="#6ebef0" opacity="0.7"/><circle cx="567.4" cy="278.2" r="1.7" fill="#60c8f0" opacity="0.7"/><circle cx="647.7" cy="169.4" r="1.7" fill="#60c8f0" opacity="0.7"/><circle cx="566.4" cy="251.2" r="1.8" fill="#7cb8f0" opacity="0.7"/><circle cx="568.8" cy="178.2" r="1.3" fill="#60c8f0" opacity="0.7"/><circle cx="649.8" cy="290.1" r="1.1" fill="#6ebef0" opacity="0.7"/><circle cx="528.9" cy="202.5" r="1.6" fill="#60c8f0" opacity="0.7"/><circle cx="612.1" cy="239.2" r="1.5" fill="#6ebef0" opacity="0.7"/><circle cx="662.0" cy="290.6" r="0.6" fill="#6ebef0" opacity="0.7"/><circle cx="508.8" cy="263.8" r="1.1" fill="#7cb8f0" opacity="0.7"/><circle cx="673.7" cy="251.4" r="1.6" fill="#7cb8f0" opacity="0.7"/><circle cx="583.6" cy="226.5" r="1.0" fill="#6ebef0" opacity="0.7"/><circle cx="590.2" cy="210.9" r="1.1" fill="#6ebef0" opacity="0.7"/><circle cx="651.8" cy="249.5" r="0.9" fill="#7cb8f0" opacity="0.7"/><circle cx="634.0" cy="193.6" r="1.7" fill="#6ebef0" opacity="0.7"/><circle cx="535.9" cy="269.1" r="1.4" fill="#7cb8f0" opacity="0.7"/><circle cx="609.4" cy="248.8" r="1.9" fill="#7cb8f0" opacity="0.7"/><circle cx="515.2" cy="189.8" r="0.9" fill="#60c8f0" opacity="0.7"/><circle cx="528.6" cy="241.9" r="1.0" fill="#88b0f0" opacity="0.7"/><circle cx="532.3" cy="184.5" r="1.6" fill="#6ebef0" opacity="0.7"/><circle cx="553.7" cy="238.9" r="1.8" fill="#60c8f0" opacity="0.7"/><circle cx="508.8" cy="180.7" r="1.4" fill="#60c8f0" opacity="0.7"/><circle cx="564.9" cy="180.4" r="1.4" fill="#7cb8f0" opacity="0.7"/><circle cx="513.6" cy="284.4" r="0.8" fill="#60c8f0" opacity="0.7"/><circle cx="662.7" cy="277.0" r="1.4" fill="#6ebef0" opacity="0.7"/><circle cx="637.5" cy="193.5" r="0.8" fill="#6ebef0" opacity="0.7"/><circle cx="520.0" cy="217.4" r="0.7" fill="#6ebef0" opacity="0.7"/><circle cx="605.2" cy="217.5" r="1.7" fill="#7cb8f0" opacity="0.7"/><circle cx="531.0" cy="202.3" r="1.2" fill="#60c8f0" opacity="0.7"/><circle cx="578.4" cy="201.6" r="0.8" fill="#6ebef0" opacity="0.7"/><circle cx="554.0" cy="187.6" r="1.5" fill="#60c8f0" opacity="0.7"/><circle cx="673.9" cy="226.6" r="1.1" fill="#7cb8f0" opacity="0.7"/><circle cx="678.5" cy="252.4" r="0.7" fill="#6ebef0" opacity="0.7"/><circle cx="690.2" cy="198.5" r="1.3" fill="#7cb8f0" opacity="0.7"/><circle cx="667.1" cy="178.6" r="0.8" fill="#60c8f0" opacity="0.7"/><circle cx="625.7" cy="243.2" r="1.5" fill="#7cb8f0" opacity="0.7"/><circle cx="556.5" cy="166.8" r="0.8" fill="#7cb8f0" opacity="0.7"/><circle cx="664.0" cy="228.1" r="1.2" fill="#6ebef0" opacity="0.7"/><circle cx="678.4" cy="171.6" r="1.6" fill="#6ebef0" opacity="0.7"/><circle cx="513.9" cy="173.0" r="0.8" fill="#7cb8f0" opacity="0.7"/><circle cx="636.1" cy="215.7" r="1.2" fill="#88b0f0" opacity="0.7"/><circle cx="691.6" cy="287.4" r="1.4" fill="#88b0f0" opacity="0.7"/><circle cx="683.5" cy="221.8" r="1.4" fill="#88b0f0" opacity="0.7"/><circle cx="658.2" cy="243.3" r="0.7" fill="#88b0f0" opacity="0.7"/><circle cx="684.3" cy="191.1" r="1.8" fill="#88b0f0" opacity="0.7"/><circle cx="686.2" cy="285.5" r="0.6" fill="#7cb8f0" opacity="0.7"/><circle cx="635.8" cy="275.8" r="1.7" fill="#88b0f0" opacity="0.7"/><circle cx="682.4" cy="229.1" r="1.4" fill="#60c8f0" opacity="0.7"/><circle cx="574.1" cy="197.2" r="1.0" fill="#7cb8f0" opacity="0.7"/><circle cx="517.4" cy="236.6" r="0.8" fill="#88b0f0" opacity="0.7"/><circle cx="612.4" cy="230.6" r="1.9" fill="#7cb8f0" opacity="0.7"/><circle cx="558.1" cy="211.8" r="1.9" fill="#7cb8f0" opacity="0.7"/><circle cx="602.2" cy="206.1" r="1.9" fill="#88b0f0" opacity="0.7"/><circle cx="537.1" cy="188.1" r="1.3" fill="#88b0f0" opacity="0.7"/><circle cx="682.3" cy="172.6" r="1.0" fill="#88b0f0" opacity="0.7"/><circle cx="589.5" cy="184.4" r="0.6" fill="#60c8f0" opacity="0.7"/><circle cx="665.7" cy="169.2" r="1.3" fill="#7cb8f0" opacity="0.7"/><circle cx="517.3" cy="245.1" r="0.8" fill="#60c8f0" opacity="0.7"/><circle cx="589.6" cy="199.4" r="1.0" fill="#7cb8f0" opacity="0.7"/><circle cx="640.2" cy="264.4" r="1.5" fill="#60c8f0" opacity="0.7"/><circle cx="615.9" cy="249.8" r="0.7" fill="#60c8f0" opacity="0.7"/><circle cx="647.7" cy="182.2" r="1.8" fill="#88b0f0" opacity="0.7"/><circle cx="631.3" cy="274.2" r="1.5" fill="#7cb8f0" opacity="0.7"/><circle cx="534.1" cy="190.7" r="0.9" fill="#60c8f0" opacity="0.7"/><circle cx="549.3" cy="189.7" r="1.6" fill="#7cb8f0" opacity="0.7"/><circle cx="614.4" cy="164.6" r="0.6" fill="#88b0f0" opacity="0.7"/><circle cx="688.6" cy="244.4" r="1.0" fill="#6ebef0" opacity="0.7"/><circle cx="511.3" cy="211.0" r="1.0" fill="#88b0f0" opacity="0.7"/><circle cx="519.5" cy="263.5" r="0.8" fill="#60c8f0" opacity="0.7"/><circle cx="510.0" cy="178.4" r="1.4" fill="#88b0f0" opacity="0.7"/><circle cx="565.4" cy="288.4" r="1.6" fill="#6ebef0" opacity="0.7"/><circle cx="583.7" cy="181.3" r="0.9" fill="#6ebef0" opacity="0.7"/><circle cx="615.8" cy="266.8" r="1.3" fill="#88b0f0" opacity="0.7"/><circle cx="610.0" cy="277.3" r="0.8" fill="#60c8f0" opacity="0.7"/><circle cx="652.8" cy="234.2" r="0.7" fill="#7cb8f0" opacity="0.7"/><circle cx="579.5" cy="203.1" r="1.3" fill="#7cb8f0" opacity="0.7"/><circle cx="684.9" cy="167.2" r="1.6" fill="#6ebef0" opacity="0.7"/><circle cx="560.2" cy="215.4" r="0.7" fill="#6ebef0" opacity="0.7"/><circle cx="583.4" cy="200.2" r="1.2" fill="#7cb8f0" opacity="0.7"/><circle cx="640.7" cy="296.0" r="1.5" fill="#7cb8f0" opacity="0.7"/><circle cx="524.2" cy="232.0" r="1.5" fill="#60c8f0" opacity="0.7"/><circle cx="551.7" cy="274.0" r="1.8" fill="#60c8f0" opacity="0.7"/><circle cx="513.5" cy="168.3" r="1.6" fill="#6ebef0" opacity="0.7"/><circle cx="619.6" cy="274.5" r="1.1" fill="#6ebef0" opacity="0.7"/><circle cx="611.6" cy="261.1" r="1.1" fill="#88b0f0" opacity="0.7"/><circle cx="684.3" cy="288.5" r="1.3" fill="#60c8f0" opacity="0.7"/><circle cx="582.9" cy="229.0" r="1.2" fill="#60c8f0" opacity="0.7"/><circle cx="613.9" cy="270.0" r="1.9" fill="#88b0f0" opacity="0.7"/><circle cx="675.9" cy="172.3" r="1.2" fill="#7cb8f0" opacity="0.7"/><circle cx="528.6" cy="245.7" r="1.7" fill="#88b0f0" opacity="0.7"/><circle cx="514.9" cy="296.0" r="1.7" fill="#6ebef0" opacity="0.7"/><circle cx="509.4" cy="206.7" r="0.7" fill="#6ebef0" opacity="0.7"/><circle cx="586.2" cy="281.7" r="0.8" fill="#60c8f0" opacity="0.7"/><circle cx="553.6" cy="229.5" r="1.0" fill="#6ebef0" opacity="0.7"/><circle cx="586.7" cy="164.2" r="1.0" fill="#88b0f0" opacity="0.7"/><circle cx="590.2" cy="171.8" r="1.5" fill="#60c8f0" opacity="0.7"/><circle cx="663.6" cy="237.9" r="0.8" fill="#6ebef0" opacity="0.7"/><circle cx="526.0" cy="281.9" r="1.7" fill="#88b0f0" opacity="0.7"/><circle cx="613.5" cy="164.7" r="1.6" fill="#88b0f0" opacity="0.7"/><circle cx="643.7" cy="212.9" r="1.2" fill="#88b0f0" opacity="0.7"/><circle cx="680.1" cy="285.3" r="0.7" fill="#88b0f0" opacity="0.7"/><circle cx="582.8" cy="180.8" r="1.3" fill="#60c8f0" opacity="0.7"/><circle cx="554.1" cy="250.1" r="1.3" fill="#6ebef0" opacity="0.7"/><circle cx="537.3" cy="206.3" r="1.9" fill="#7cb8f0" opacity="0.7"/><circle cx="632.2" cy="268.4" r="1.6" fill="#6ebef0" opacity="0.7"/><circle cx="642.4" cy="280.1" r="1.3" fill="#7cb8f0" opacity="0.7"/><circle cx="527.2" cy="281.4" r="1.2" fill="#88b0f0" opacity="0.7"/><circle cx="645.4" cy="203.7" r="1.0" fill="#60c8f0" opacity="0.7"/><circle cx="656.8" cy="164.4" r="1.6" fill="#88b0f0" opacity="0.7"/><circle cx="510.0" cy="171.5" r="1.0" fill="#60c8f0" opacity="0.7"/><circle cx="676.2" cy="264.5" r="0.6" fill="#60c8f0" opacity="0.7"/><circle cx="591.5" cy="208.0" r="1.7" fill="#88b0f0" opacity="0.7"/><circle cx="685.1" cy="186.9" r="1.1" fill="#7cb8f0" opacity="0.7"/><circle cx="613.6" cy="253.1" r="0.6" fill="#6ebef0" opacity="0.7"/><circle cx="568.2" cy="272.2" r="1.4" fill="#7cb8f0" opacity="0.7"/><circle cx="658.6" cy="244.1" r="1.5" fill="#7cb8f0" opacity="0.7"/><circle cx="513.9" cy="292.7" r="1.2" fill="#6ebef0" opacity="0.7"/><circle cx="619.0" cy="258.3" r="1.0" fill="#7cb8f0" opacity="0.7"/><circle cx="554.0" cy="187.0" r="0.8" fill="#6ebef0" opacity="0.7"/><circle cx="532.1" cy="268.4" r="1.8" fill="#6ebef0" opacity="0.7"/><circle cx="669.3" cy="214.7" r="1.8" fill="#6ebef0" opacity="0.7"/><circle cx="516.0" cy="228.9" r="1.8" fill="#7cb8f0" opacity="0.7"/><circle cx="597.5" cy="250.4" r="1.8" fill="#6ebef0" opacity="0.7"/><circle cx="540.3" cy="167.5" r="0.6" fill="#88b0f0" opacity="0.7"/><circle cx="545.7" cy="231.5" r="1.0" fill="#60c8f0" opacity="0.7"/><circle cx="580.5" cy="233.2" r="1.2" fill="#7cb8f0" opacity="0.7"/><circle cx="621.5" cy="182.8" r="1.9" fill="#60c8f0" opacity="0.7"/><circle cx="652.7" cy="262.2" r="1.5" fill="#88b0f0" opacity="0.7"/><circle cx="584.8" cy="172.6" r="1.2" fill="#6ebef0" opacity="0.7"/><circle cx="521.8" cy="239.4" r="1.0" fill="#60c8f0" opacity="0.7"/><circle cx="677.9" cy="185.0" r="0.8" fill="#88b0f0" opacity="0.7"/><circle cx="592.4" cy="170.3" r="1.2" fill="#60c8f0" opacity="0.7"/><circle cx="616.5" cy="166.9" r="0.8" fill="#7cb8f0" opacity="0.7"/><circle cx="597.2" cy="230.8" r="1.3" fill="#88b0f0" opacity="0.7"/><circle cx="621.4" cy="218.0" r="0.6" fill="#88b0f0" opacity="0.7"/><circle cx="677.3" cy="164.7" r="1.4" fill="#6ebef0" opacity="0.7"/><circle cx="686.9" cy="182.0" r="1.3" fill="#60c8f0" opacity="0.7"/><circle cx="631.2" cy="163.6" r="1.2" fill="#60c8f0" opacity="0.7"/><circle cx="543.3" cy="197.6" r="1.7" fill="#60c8f0" opacity="0.7"/><circle cx="663.2" cy="297.2" r="1.9" fill="#6ebef0" opacity="0.7"/><circle cx="514.8" cy="169.1" r="1.7" fill="#88b0f0" opacity="0.7"/><circle cx="515.6" cy="210.6" r="1.2" fill="#6ebef0" opacity="0.7"/><circle cx="545.2" cy="187.8" r="1.3" fill="#7cb8f0" opacity="0.7"/><circle cx="520.5" cy="259.5" r="0.8" fill="#7cb8f0" opacity="0.7"/><circle cx="586.8" cy="166.9" r="1.1" fill="#88b0f0" opacity="0.7"/><circle cx="541.5" cy="260.5" r="1.7" fill="#60c8f0" opacity="0.7"/><circle cx="583.4" cy="243.6" r="1.7" fill="#88b0f0" opacity="0.7"/><circle cx="618.2" cy="182.0" r="1.1" fill="#7cb8f0" opacity="0.7"/><circle cx="628.8" cy="211.5" r="1.0" fill="#6ebef0" opacity="0.7"/><circle cx="542.0" cy="261.6" r="1.3" fill="#88b0f0" opacity="0.7"/><circle cx="544.8" cy="283.3" r="1.1" fill="#7cb8f0" opacity="0.7"/><circle cx="591.3" cy="189.2" r="1.6" fill="#6ebef0" opacity="0.7"/><circle cx="601.9" cy="232.1" r="1.7" fill="#6ebef0" opacity="0.7"/><circle cx="546.4" cy="230.1" r="1.0" fill="#60c8f0" opacity="0.7"/><circle cx="548.4" cy="226.5" r="1.9" fill="#88b0f0" opacity="0.7"/><circle cx="639.9" cy="207.2" r="1.5" fill="#6ebef0" opacity="0.7"/><circle cx="670.3" cy="181.7" r="1.1" fill="#6ebef0" opacity="0.7"/><circle cx="646.7" cy="258.5" r="1.9" fill="#60c8f0" opacity="0.7"/><circle cx="691.5" cy="213.4" r="1.0" fill="#88b0f0" opacity="0.7"/><circle cx="599.0" cy="224.4" r="1.0" fill="#6ebef0" opacity="0.7"/><circle cx="565.1" cy="267.1" r="0.8" fill="#60c8f0" opacity="0.7"/><circle cx="573.1" cy="166.8" r="0.7" fill="#6ebef0" opacity="0.7"/><circle cx="646.9" cy="238.6" r="1.7" fill="#6ebef0" opacity="0.7"/><circle cx="630.1" cy="224.6" r="0.7" fill="#88b0f0" opacity="0.7"/><circle cx="662.8" cy="253.1" r="0.9" fill="#88b0f0" opacity="0.7"/><circle cx="546.2" cy="297.1" r="0.8" fill="#7cb8f0" opacity="0.7"/><circle cx="553.2" cy="294.2" r="1.0" fill="#88b0f0" opacity="0.7"/><circle cx="514.6" cy="233.2" r="0.9" fill="#60c8f0" opacity="0.7"/><circle cx="603.9" cy="180.1" r="1.1" fill="#60c8f0" opacity="0.7"/><circle cx="683.8" cy="236.5" r="1.7" fill="#6ebef0" opacity="0.7"/><circle cx="671.3" cy="296.2" r="1.3" fill="#7cb8f0" opacity="0.7"/><circle cx="613.3" cy="232.7" r="0.7" fill="#6ebef0" opacity="0.7"/><circle cx="641.0" cy="266.0" r="1.0" fill="#60c8f0" opacity="0.7"/><circle cx="690.9" cy="203.0" r="0.8" fill="#60c8f0" opacity="0.7"/><circle cx="660.0" cy="290.0" r="0.8" fill="#60c8f0" opacity="0.7"/><circle cx="665.0" cy="163.0" r="0.7" fill="#60c8f0" opacity="0.7"/><circle cx="556.5" cy="285.4" r="1.7" fill="#6ebef0" opacity="0.7"/><circle cx="656.0" cy="197.6" r="1.6" fill="#60c8f0" opacity="0.7"/><circle cx="566.3" cy="223.4" r="1.8" fill="#60c8f0" opacity="0.7"/><circle cx="596.7" cy="187.4" r="1.8" fill="#6ebef0" opacity="0.7"/><circle cx="683.8" cy="181.5" r="1.5" fill="#6ebef0" opacity="0.7"/><circle cx="593.8" cy="286.2" r="1.4" fill="#88b0f0" opacity="0.7"/><circle cx="603.9" cy="249.0" r="1.3" fill="#7cb8f0" opacity="0.7"/><circle cx="658.5" cy="192.2" r="0.8" fill="#6ebef0" opacity="0.7"/><circle cx="535.1" cy="210.6" r="1.9" fill="#88b0f0" opacity="0.7"/><circle cx="517.9" cy="199.3" r="1.4" fill="#7cb8f0" opacity="0.7"/><circle cx="574.4" cy="185.0" r="1.2" fill="#7cb8f0" opacity="0.7"/><circle cx="634.1" cy="261.6" r="1.6" fill="#6ebef0" opacity="0.7"/><circle cx="551.1" cy="183.8" r="0.8" fill="#7cb8f0" opacity="0.7"/><circle cx="651.2" cy="258.9" r="1.3" fill="#6ebef0" opacity="0.7"/><circle cx="605.9" cy="197.4" r="1.4" fill="#7cb8f0" opacity="0.7"/><circle cx="536.5" cy="180.5" r="1.0" fill="#6ebef0" opacity="0.7"/><circle cx="673.8" cy="269.6" r="0.6" fill="#6ebef0" opacity="0.7"/><circle cx="515.7" cy="287.1" r="1.1" fill="#60c8f0" opacity="0.7"/><circle cx="686.0" cy="257.2" r="1.4" fill="#6ebef0" opacity="0.7"/><circle cx="570.1" cy="271.7" r="1.6" fill="#7cb8f0" opacity="0.7"/><circle cx="535.8" cy="224.1" r="1.6" fill="#7cb8f0" opacity="0.7"/><circle cx="555.4" cy="283.3" r="0.7" fill="#6ebef0" opacity="0.7"/><circle cx="591.0" cy="231.3" r="1.6" fill="#88b0f0" opacity="0.7"/><circle cx="565.5" cy="218.4" r="1.8" fill="#6ebef0" opacity="0.7"/><circle cx="563.3" cy="191.4" r="1.2" fill="#88b0f0" opacity="0.7"/><circle cx="609.3" cy="235.6" r="0.8" fill="#60c8f0" opacity="0.7"/><circle cx="537.9" cy="224.2" r="1.4" fill="#88b0f0" opacity="0.7"/><circle cx="654.1" cy="191.7" r="1.4" fill="#7cb8f0" opacity="0.7"/><circle cx="611.7" cy="187.3" r="1.4" fill="#6ebef0" opacity="0.7"/><circle cx="599.9" cy="269.7" r="1.5" fill="#7cb8f0" opacity="0.7"/><circle cx="631.3" cy="168.6" r="1.0" fill="#88b0f0" opacity="0.7"/><circle cx="543.3" cy="252.7" r="1.8" fill="#7cb8f0" opacity="0.7"/><circle cx="619.1" cy="198.0" r="1.0" fill="#88b0f0" opacity="0.7"/><circle cx="642.0" cy="207.6" r="1.7" fill="#88b0f0" opacity="0.7"/><circle cx="516.1" cy="239.7" r="1.2" fill="#6ebef0" opacity="0.7"/><circle cx="682.3" cy="278.0" r="1.0" fill="#7cb8f0" opacity="0.7"/><circle cx="532.5" cy="239.2" r="1.6" fill="#88b0f0" opacity="0.7"/><circle cx="590.8" cy="235.7" r="1.0" fill="#60c8f0" opacity="0.7"/><circle cx="612.8" cy="286.8" r="1.5" fill="#7cb8f0" opacity="0.7"/><circle cx="524.8" cy="230.3" r="0.9" fill="#6ebef0" opacity="0.7"/><circle cx="563.3" cy="284.0" r="1.0" fill="#60c8f0" opacity="0.7"/><circle cx="680.4" cy="230.2" r="0.9" fill="#7cb8f0" opacity="0.7"/><circle cx="527.1" cy="172.3" r="1.6" fill="#60c8f0" opacity="0.7"/><circle cx="567.1" cy="199.7" r="0.8" fill="#6ebef0" opacity="0.7"/><circle cx="526.9" cy="216.9" r="1.0" fill="#60c8f0" opacity="0.7"/><circle cx="687.5" cy="194.6" r="0.8" fill="#60c8f0" opacity="0.7"/><circle cx="662.7" cy="184.8" r="0.7" fill="#7cb8f0" opacity="0.7"/><circle cx="650.9" cy="277.2" r="1.5" fill="#7cb8f0" opacity="0.7"/><circle cx="657.1" cy="284.5" r="0.6" fill="#60c8f0" opacity="0.7"/><circle cx="523.1" cy="185.2" r="0.6" fill="#7cb8f0" opacity="0.7"/><circle cx="614.1" cy="235.7" r="1.0" fill="#60c8f0" opacity="0.7"/><circle cx="521.3" cy="249.4" r="1.4" fill="#6ebef0" opacity="0.7"/><circle cx="574.6" cy="284.7" r="1.6" fill="#6ebef0" opacity="0.7"/><circle cx="613.3" cy="176.6" r="1.8" fill="#60c8f0" opacity="0.7"/><circle cx="655.6" cy="261.0" r="1.0" fill="#7cb8f0" opacity="0.7"/><circle cx="668.2" cy="209.3" r="1.2" fill="#88b0f0" opacity="0.7"/><circle cx="679.6" cy="169.2" r="1.0" fill="#7cb8f0" opacity="0.7"/><circle cx="560.2" cy="255.1" r="0.8" fill="#7cb8f0" opacity="0.7"/><circle cx="551.2" cy="189.1" r="0.7" fill="#88b0f0" opacity="0.7"/><circle cx="649.1" cy="189.8" r="0.9" fill="#60c8f0" opacity="0.7"/><circle cx="616.1" cy="224.8" r="0.8" fill="#60c8f0" opacity="0.7"/><circle cx="682.5" cy="195.2" r="0.8" fill="#88b0f0" opacity="0.7"/><circle cx="576.1" cy="285.4" r="1.3" fill="#60c8f0" opacity="0.7"/><circle cx="656.4" cy="177.4" r="1.8" fill="#6ebef0" opacity="0.7"/><circle cx="609.5" cy="180.2" r="1.6" fill="#60c8f0" opacity="0.7"/><circle cx="554.6" cy="244.4" r="1.8" fill="#88b0f0" opacity="0.7"/><circle cx="608.0" cy="173.5" r="1.5" fill="#6ebef0" opacity="0.7"/><circle cx="536.2" cy="278.9" r="1.7" fill="#60c8f0" opacity="0.7"/><circle cx="678.4" cy="169.4" r="0.6" fill="#7cb8f0" opacity="0.7"/><circle cx="612.3" cy="260.6" r="0.9" fill="#60c8f0" opacity="0.7"/><circle cx="534.8" cy="218.7" r="1.4" fill="#7cb8f0" opacity="0.7"/><circle cx="553.6" cy="230.2" r="0.7" fill="#7cb8f0" opacity="0.7"/><circle cx="686.5" cy="245.0" r="0.7" fill="#6ebef0" opacity="0.7"/><circle cx="580.4" cy="242.4" r="1.3" fill="#7cb8f0" opacity="0.7"/><circle cx="631.1" cy="286.5" r="1.2" fill="#88b0f0" opacity="0.7"/><circle cx="679.7" cy="264.2" r="1.6" fill="#60c8f0" opacity="0.7"/><circle cx="552.3" cy="201.9" r="1.2" fill="#7cb8f0" opacity="0.7"/><circle cx="611.5" cy="276.6" r="1.5" fill="#7cb8f0" opacity="0.7"/><circle cx="543.4" cy="176.8" r="1.9" fill="#88b0f0" opacity="0.7"/><circle cx="654.5" cy="182.6" r="1.2" fill="#60c8f0" opacity="0.7"/><circle cx="516.7" cy="294.7" r="1.5" fill="#6ebef0" opacity="0.7"/><circle cx="636.2" cy="283.4" r="1.2" fill="#6ebef0" opacity="0.7"/><circle cx="553.6" cy="275.0" r="1.1" fill="#88b0f0" opacity="0.7"/><circle cx="610.3" cy="248.5" r="0.9" fill="#88b0f0" opacity="0.7"/><circle cx="577.6" cy="290.9" r="1.1" fill="#88b0f0" opacity="0.7"/><circle cx="652.1" cy="239.5" r="0.7" fill="#6ebef0" opacity="0.7"/><circle cx="635.5" cy="286.8" r="0.9" fill="#6ebef0" opacity="0.7"/><circle cx="622.4" cy="279.2" r="1.7" fill="#7cb8f0" opacity="0.7"/><circle cx="684.0" cy="280.2" r="1.6" fill="#7cb8f0" opacity="0.7"/><circle cx="638.4" cy="163.4" r="0.7" fill="#88b0f0" opacity="0.7"/><circle cx="548.7" cy="175.5" r="1.7" fill="#60c8f0" opacity="0.7"/><circle cx="579.5" cy="219.1" r="1.3" fill="#88b0f0" opacity="0.7"/><circle cx="585.7" cy="291.9" r="0.9" fill="#7cb8f0" opacity="0.7"/><circle cx="550.7" cy="287.5" r="1.7" fill="#7cb8f0" opacity="0.7"/><circle cx="661.1" cy="195.5" r="1.1" fill="#7cb8f0" opacity="0.7"/></g><circle cx="576.9" cy="207.2" r="2.3" fill="#5ee0f0" filter="url(#bl1)"/><circle cx="576.9" cy="207.2" r="1.0" fill="#f0ffff"/><circle cx="550.8" cy="250.7" r="2.3" fill="#5ee0f0" filter="url(#bl1)"/><circle cx="550.8" cy="250.7" r="1.0" fill="#f0ffff"/><circle cx="513.5" cy="198.5" r="2.3" fill="#5ee0f0" filter="url(#bl1)"/><circle cx="513.5" cy="198.5" r="1.0" fill="#f0ffff"/><circle cx="609.3" cy="254.4" r="2.3" fill="#5ee0f0" filter="url(#bl1)"/><circle cx="609.3" cy="254.4" r="1.0" fill="#f0ffff"/><circle cx="631" cy="186" r="2.3" fill="#5ee0f0" filter="url(#bl1)"/><circle cx="631" cy="186" r="1.0" fill="#f0ffff"/><circle cx="520" cy="223" r="2.3" fill="#5ee0f0" filter="url(#bl1)"/><circle cx="520" cy="223" r="1.0" fill="#f0ffff"/><circle cx="690.0" cy="211.5" r="0.7" fill="#a8f0f8" opacity="0.9"/><circle cx="648.0" cy="210.3" r="0.7" fill="#a8f0f8" opacity="0.9"/><circle cx="610.7" cy="293.4" r="0.7" fill="#a8f0f8" opacity="0.9"/><circle cx="655.7" cy="262.2" r="0.7" fill="#a8f0f8" opacity="0.9"/><circle cx="544.7" cy="195.9" r="0.7" fill="#a8f0f8" opacity="0.9"/><circle cx="532.4" cy="174.7" r="0.7" fill="#a8f0f8" opacity="0.9"/><circle cx="546.6" cy="217.8" r="0.7" fill="#a8f0f8" opacity="0.9"/><circle cx="575.7" cy="242.7" r="0.7" fill="#a8f0f8" opacity="0.9"/><circle cx="532.6" cy="179.9" r="0.7" fill="#a8f0f8" opacity="0.9"/><circle cx="677.1" cy="172.1" r="0.7" fill="#a8f0f8" opacity="0.9"/><circle cx="552.9" cy="253.3" r="0.7" fill="#a8f0f8" opacity="0.9"/><circle cx="666.8" cy="277.8" r="0.7" fill="#a8f0f8" opacity="0.9"/><circle cx="562.5" cy="270.5" r="0.7" fill="#a8f0f8" opacity="0.9"/><circle cx="596.5" cy="282.3" r="0.7" fill="#a8f0f8" opacity="0.9"/><circle cx="605.6" cy="179.0" r="0.7" fill="#a8f0f8" opacity="0.9"/><circle cx="672.0" cy="261.4" r="0.7" fill="#a8f0f8" opacity="0.9"/><circle cx="609.4" cy="205.5" r="0.7" fill="#a8f0f8" opacity="0.9"/><circle cx="578.8" cy="180.1" r="0.7" fill="#a8f0f8" opacity="0.9"/><circle cx="623.0" cy="172.9" r="0.7" fill="#a8f0f8" opacity="0.9"/><circle cx="577.8" cy="172.0" r="0.7" fill="#a8f0f8" opacity="0.9"/><circle cx="653.0" cy="193.0" r="0.7" fill="#a8f0f8" opacity="0.9"/><circle cx="641.2" cy="264.7" r="0.7" fill="#a8f0f8" opacity="0.9"/><circle cx="593.8" cy="258.7" r="0.7" fill="#a8f0f8" opacity="0.9"/><circle cx="607.1" cy="228.7" r="0.7" fill="#a8f0f8" opacity="0.9"/><circle cx="575.9" cy="206.7" r="0.7" fill="#a8f0f8" opacity="0.9"/><circle cx="596.9" cy="232.8" r="0.7" fill="#a8f0f8" opacity="0.9"/><circle cx="686.7" cy="294.2" r="0.7" fill="#a8f0f8" opacity="0.9"/><circle cx="640.3" cy="191.1" r="0.7" fill="#a8f0f8" opacity="0.9"/><circle cx="593.2" cy="267.8" r="0.7" fill="#a8f0f8" opacity="0.9"/><circle cx="535.0" cy="271.8" r="0.7" fill="#a8f0f8" opacity="0.9"/><circle cx="678.3" cy="276.0" r="0.7" fill="#a8f0f8" opacity="0.9"/><circle cx="528.6" cy="176.8" r="0.7" fill="#a8f0f8" opacity="0.9"/><circle cx="548.6" cy="279.1" r="0.7" fill="#a8f0f8" opacity="0.9"/><circle cx="672.3" cy="225.7" r="0.7" fill="#a8f0f8" opacity="0.9"/><circle cx="550.7" cy="289.1" r="0.7" fill="#a8f0f8" opacity="0.9"/><circle cx="640.0" cy="294.8" r="0.7" fill="#a8f0f8" opacity="0.9"/><circle cx="568.0" cy="255.0" r="0.7" fill="#a8f0f8" opacity="0.9"/><circle cx="608.7" cy="229.9" r="0.7" fill="#a8f0f8" opacity="0.9"/><circle cx="609.0" cy="224.6" r="0.7" fill="#a8f0f8" opacity="0.9"/><circle cx="651.9" cy="225.0" r="0.7" fill="#a8f0f8" opacity="0.9"/><circle cx="568.2" cy="222.1" r="1.3" fill="#3c3a60"/><circle cx="662.7" cy="264.4" r="1.3" fill="#3c3a60"/><rect x="508.5" y="299" width="183.2" height="138" fill="#b1a797"/><rect x="508.5" y="299" width="183.2" height="138" fill="url(#vigc)"/><g filter="url(#bl1)" fill="#9c9286" opacity="0.5"><polygon points="539.8,315.9 559.7,300.0 573.6,301.9 577.6,331.8 553.7,337.8 539.8,319.9"/><polygon points="583.6,300.9 616.4,300.9 599.5,321.8"/><polygon points="597.5,333.8 613.4,333.8 605.5,321.8"/><polygon points="595.5,337.8 629.4,359.7 592.5,375.6"/><polygon points="635.3,319.9 655.2,315.9 679.1,327.8 677.1,349.7 680.1,373.6 663.2,373.6 645.3,365.6 637.3,349.7"/><polygon points="687.1,349.7 692.6,345.7 692.6,379.6 683.1,373.6"/><polygon points="540.8,378.6 568.7,378.6 554.7,401.4"/><polygon points="587.6,400.4 614.4,400.4 600.5,377.6"/><polygon points="535.8,429.3 559.7,409.4 561.7,437.3 535.8,437.3"/><polygon points="508.4,381.5 515.9,393.5 508.4,397.5"/><polygon points="508.4,421.3 521.9,427.3 517.9,437.3 508.4,437.3"/><polygon points="643.3,391.5 679.1,395.5 671.1,409.4 655.2,401.4"/></g><circle cx="562.1" cy="315.5" r="2.4" fill="#f2ede4" filter="url(#bl1)"/><circle cx="599.5" cy="303.9" r="1.2" fill="#f2ede4" filter="url(#bl1)"/><circle cx="603.5" cy="301.9" r="1.2" fill="#f2ede4" filter="url(#bl1)"/><circle cx="663.6" cy="336.2" r="1.6" fill="#f2ede4" filter="url(#bl1)"/><circle cx="656.2" cy="351.3" r="1.3" fill="#f2ede4" filter="url(#bl1)"/><circle cx="662.2" cy="353.7" r="1.3" fill="#f2ede4" filter="url(#bl1)"/><circle cx="666.6" cy="357.3" r="1.3" fill="#f2ede4" filter="url(#bl1)"/><circle cx="690.0" cy="361.6" r="1.5" fill="#f2ede4" filter="url(#bl1)"/><circle cx="554.1" cy="387.9" r="0.8" fill="#f2ede4" filter="url(#bl1)"/><circle cx="547.0" cy="417.4" r="1" fill="#f2ede4" filter="url(#bl1)"/><circle cx="591.5" cy="309.9" r="0.8" fill="#f2ede4" filter="url(#bl1)"/><circle cx="648.3" cy="335.8" r="2.2" fill="none" stroke="#f2ede4" stroke-width="1"/><circle cx="603.5" cy="299.0" r="1.6" fill="#333" filter="url(#bl1)"/></g><g clip-path="url(#cpd)"><rect x="737.8" y="161.5" width="183.2" height="137.5" fill="#24bff4"/><g><circle cx="757.4" cy="258.1" r="0.88" fill="#b0f4fa" opacity="0.85"/><circle cx="787.5" cy="196.7" r="0.92" fill="#d0fafc" opacity="0.85"/><circle cx="820.2" cy="225.7" r="0.99" fill="#90ecf8" opacity="0.85"/><circle cx="880.2" cy="177.8" r="0.66" fill="#90ecf8" opacity="0.85"/><circle cx="803.4" cy="197.3" r="0.95" fill="#d0fafc" opacity="0.85"/><circle cx="832.4" cy="183.6" r="0.88" fill="#90ecf8" opacity="0.85"/><circle cx="768.0" cy="251.1" r="0.61" fill="#90ecf8" opacity="0.85"/><circle cx="742.9" cy="199.2" r="0.98" fill="#90ecf8" opacity="0.85"/><circle cx="811.8" cy="297.7" r="0.77" fill="#d0fafc" opacity="0.85"/><circle cx="755.1" cy="249.6" r="0.99" fill="#d0fafc" opacity="0.85"/><circle cx="845.7" cy="248.6" r="0.64" fill="#b0f4fa" opacity="0.85"/><circle cx="874.7" cy="228.4" r="0.89" fill="#90ecf8" opacity="0.85"/><circle cx="820.7" cy="191.5" r="0.95" fill="#d0fafc" opacity="0.85"/><circle cx="784.4" cy="178.2" r="1.05" fill="#90ecf8" opacity="0.85"/><circle cx="789.2" cy="165.3" r="0.92" fill="#b0f4fa" opacity="0.85"/><circle cx="863.5" cy="242.1" r="0.76" fill="#d0fafc" opacity="0.85"/><circle cx="768.6" cy="214.7" r="0.70" fill="#90ecf8" opacity="0.85"/><circle cx="817.9" cy="243.4" r="0.60" fill="#90ecf8" opacity="0.85"/><circle cx="810.0" cy="223.3" r="0.86" fill="#90ecf8" opacity="0.85"/><circle cx="750.0" cy="181.2" r="0.90" fill="#d0fafc" opacity="0.85"/><circle cx="818.7" cy="275.0" r="0.75" fill="#90ecf8" opacity="0.85"/><circle cx="741.6" cy="259.1" r="0.73" fill="#90ecf8" opacity="0.85"/><circle cx="786.1" cy="203.1" r="0.64" fill="#d0fafc" opacity="0.85"/><circle cx="840.4" cy="271.2" r="0.60" fill="#b0f4fa" opacity="0.85"/><circle cx="744.2" cy="204.5" r="1.04" fill="#d0fafc" opacity="0.85"/><circle cx="830.6" cy="233.2" r="0.95" fill="#90ecf8" opacity="0.85"/><circle cx="758.6" cy="293.0" r="0.94" fill="#b0f4fa" opacity="0.85"/><circle cx="779.9" cy="281.5" r="0.68" fill="#b0f4fa" opacity="0.85"/><circle cx="775.9" cy="255.0" r="0.72" fill="#d0fafc" opacity="0.85"/><circle cx="877.3" cy="212.2" r="0.83" fill="#d0fafc" opacity="0.85"/><circle cx="873.6" cy="269.7" r="0.63" fill="#d0fafc" opacity="0.85"/><circle cx="891.9" cy="211.9" r="0.74" fill="#90ecf8" opacity="0.85"/><circle cx="837.8" cy="267.8" r="0.71" fill="#d0fafc" opacity="0.85"/><circle cx="743.6" cy="249.9" r="0.76" fill="#90ecf8" opacity="0.85"/><circle cx="754.2" cy="272.5" r="0.61" fill="#b0f4fa" opacity="0.85"/><circle cx="864.6" cy="180.8" r="0.68" fill="#90ecf8" opacity="0.85"/><circle cx="760.8" cy="284.8" r="0.58" fill="#b0f4fa" opacity="0.85"/><circle cx="784.8" cy="212.2" r="0.76" fill="#b0f4fa" opacity="0.85"/><circle cx="819.3" cy="173.9" r="0.95" fill="#b0f4fa" opacity="0.85"/><circle cx="764.6" cy="253.4" r="0.66" fill="#d0fafc" opacity="0.85"/><circle cx="895.4" cy="274.2" r="1.05" fill="#d0fafc" opacity="0.85"/><circle cx="858.1" cy="238.1" r="0.57" fill="#90ecf8" opacity="0.85"/><circle cx="823.6" cy="293.4" r="0.71" fill="#b0f4fa" opacity="0.85"/><circle cx="896.1" cy="170.0" r="0.89" fill="#d0fafc" opacity="0.85"/><circle cx="837.2" cy="174.8" r="0.98" fill="#90ecf8" opacity="0.85"/><circle cx="891.6" cy="177.3" r="0.58" fill="#d0fafc" opacity="0.85"/><circle cx="908.4" cy="170.9" r="0.95" fill="#90ecf8" opacity="0.85"/><circle cx="746.0" cy="296.8" r="0.99" fill="#b0f4fa" opacity="0.85"/><circle cx="738.7" cy="223.3" r="0.94" fill="#90ecf8" opacity="0.85"/><circle cx="869.4" cy="164.2" r="0.59" fill="#90ecf8" opacity="0.85"/><circle cx="783.3" cy="255.2" r="0.87" fill="#b0f4fa" opacity="0.85"/><circle cx="838.3" cy="271.0" r="0.91" fill="#b0f4fa" opacity="0.85"/><circle cx="907.9" cy="285.4" r="0.98" fill="#90ecf8" opacity="0.85"/><circle cx="807.9" cy="201.8" r="0.91" fill="#90ecf8" opacity="0.85"/><circle cx="743.2" cy="180.3" r="1.03" fill="#d0fafc" opacity="0.85"/><circle cx="794.8" cy="191.2" r="0.84" fill="#90ecf8" opacity="0.85"/><circle cx="742.5" cy="250.3" r="1.05" fill="#90ecf8" opacity="0.85"/><circle cx="843.5" cy="270.7" r="0.76" fill="#d0fafc" opacity="0.85"/><circle cx="877.7" cy="295.7" r="1.04" fill="#b0f4fa" opacity="0.85"/><circle cx="806.8" cy="259.9" r="0.67" fill="#d0fafc" opacity="0.85"/><circle cx="916.2" cy="266.0" r="0.96" fill="#b0f4fa" opacity="0.85"/><circle cx="784.5" cy="279.7" r="0.67" fill="#b0f4fa" opacity="0.85"/><circle cx="820.9" cy="252.5" r="0.58" fill="#b0f4fa" opacity="0.85"/><circle cx="861.5" cy="255.9" r="0.87" fill="#90ecf8" opacity="0.85"/><circle cx="822.0" cy="285.2" r="0.58" fill="#b0f4fa" opacity="0.85"/><circle cx="866.7" cy="186.8" r="0.74" fill="#d0fafc" opacity="0.85"/><circle cx="774.9" cy="176.3" r="0.73" fill="#b0f4fa" opacity="0.85"/><circle cx="876.0" cy="209.4" r="0.80" fill="#90ecf8" opacity="0.85"/><circle cx="746.9" cy="245.3" r="0.78" fill="#90ecf8" opacity="0.85"/><circle cx="824.9" cy="203.4" r="0.57" fill="#b0f4fa" opacity="0.85"/><circle cx="833.3" cy="255.3" r="0.79" fill="#d0fafc" opacity="0.85"/><circle cx="792.0" cy="253.7" r="0.92" fill="#b0f4fa" opacity="0.85"/><circle cx="883.9" cy="164.8" r="0.80" fill="#b0f4fa" opacity="0.85"/><circle cx="920.5" cy="281.9" r="0.66" fill="#90ecf8" opacity="0.85"/><circle cx="893.3" cy="242.8" r="0.96" fill="#90ecf8" opacity="0.85"/><circle cx="770.3" cy="195.4" r="0.98" fill="#d0fafc" opacity="0.85"/><circle cx="802.4" cy="274.0" r="1.05" fill="#90ecf8" opacity="0.85"/><circle cx="758.0" cy="167.0" r="0.99" fill="#90ecf8" opacity="0.85"/><circle cx="769.3" cy="188.8" r="0.95" fill="#b0f4fa" opacity="0.85"/><circle cx="831.6" cy="263.1" r="1.02" fill="#90ecf8" opacity="0.85"/><circle cx="846.7" cy="176.9" r="0.94" fill="#90ecf8" opacity="0.85"/><circle cx="919.0" cy="244.5" r="0.96" fill="#d0fafc" opacity="0.85"/><circle cx="888.5" cy="274.4" r="0.67" fill="#d0fafc" opacity="0.85"/><circle cx="837.3" cy="236.1" r="1.04" fill="#d0fafc" opacity="0.85"/><circle cx="806.8" cy="234.8" r="0.62" fill="#d0fafc" opacity="0.85"/><circle cx="825.2" cy="177.9" r="0.94" fill="#b0f4fa" opacity="0.85"/><circle cx="897.6" cy="241.5" r="0.66" fill="#b0f4fa" opacity="0.85"/><circle cx="762.3" cy="237.9" r="0.71" fill="#d0fafc" opacity="0.85"/><circle cx="749.6" cy="253.1" r="1.04" fill="#90ecf8" opacity="0.85"/><circle cx="760.2" cy="231.0" r="0.97" fill="#b0f4fa" opacity="0.85"/><circle cx="821.1" cy="295.3" r="0.94" fill="#d0fafc" opacity="0.85"/><circle cx="802.7" cy="235.2" r="0.71" fill="#b0f4fa" opacity="0.85"/><circle cx="835.8" cy="189.4" r="0.82" fill="#90ecf8" opacity="0.85"/><circle cx="831.5" cy="269.1" r="1.01" fill="#90ecf8" opacity="0.85"/><circle cx="815.9" cy="186.0" r="1.03" fill="#90ecf8" opacity="0.85"/><circle cx="852.7" cy="227.7" r="0.64" fill="#d0fafc" opacity="0.85"/><circle cx="900.7" cy="221.4" r="0.93" fill="#d0fafc" opacity="0.85"/><circle cx="837.0" cy="257.3" r="0.70" fill="#b0f4fa" opacity="0.85"/><circle cx="885.4" cy="191.3" r="0.90" fill="#d0fafc" opacity="0.85"/><circle cx="759.7" cy="194.9" r="0.87" fill="#b0f4fa" opacity="0.85"/><circle cx="764.1" cy="215.5" r="0.61" fill="#b0f4fa" opacity="0.85"/><circle cx="739.7" cy="263.3" r="0.88" fill="#90ecf8" opacity="0.85"/><circle cx="744.1" cy="199.4" r="0.67" fill="#90ecf8" opacity="0.85"/><circle cx="914.6" cy="193.1" r="0.95" fill="#b0f4fa" opacity="0.85"/><circle cx="738.3" cy="278.0" r="0.76" fill="#d0fafc" opacity="0.85"/><circle cx="787.9" cy="228.6" r="0.93" fill="#d0fafc" opacity="0.85"/><circle cx="746.9" cy="283.3" r="0.78" fill="#d0fafc" opacity="0.85"/><circle cx="871.7" cy="197.3" r="1.03" fill="#b0f4fa" opacity="0.85"/><circle cx="830.2" cy="286.7" r="0.70" fill="#b0f4fa" opacity="0.85"/><circle cx="828.2" cy="217.3" r="0.79" fill="#d0fafc" opacity="0.85"/><circle cx="797.3" cy="219.8" r="0.70" fill="#90ecf8" opacity="0.85"/><circle cx="891.0" cy="171.0" r="0.88" fill="#90ecf8" opacity="0.85"/><circle cx="749.4" cy="183.7" r="0.64" fill="#90ecf8" opacity="0.85"/><circle cx="819.2" cy="290.4" r="0.74" fill="#90ecf8" opacity="0.85"/><circle cx="738.4" cy="240.0" r="0.98" fill="#b0f4fa" opacity="0.85"/><circle cx="790.4" cy="231.5" r="0.84" fill="#d0fafc" opacity="0.85"/><circle cx="873.4" cy="227.7" r="1.02" fill="#90ecf8" opacity="0.85"/><circle cx="868.6" cy="224.0" r="0.73" fill="#d0fafc" opacity="0.85"/><circle cx="824.6" cy="264.4" r="0.74" fill="#90ecf8" opacity="0.85"/><circle cx="771.7" cy="178.9" r="1.04" fill="#b0f4fa" opacity="0.85"/><circle cx="828.3" cy="261.3" r="0.97" fill="#90ecf8" opacity="0.85"/><circle cx="859.4" cy="193.5" r="1.01" fill="#b0f4fa" opacity="0.85"/><circle cx="763.1" cy="249.6" r="0.93" fill="#b0f4fa" opacity="0.85"/><circle cx="846.7" cy="280.9" r="0.64" fill="#b0f4fa" opacity="0.85"/><circle cx="776.3" cy="179.1" r="0.97" fill="#90ecf8" opacity="0.85"/><circle cx="797.4" cy="231.4" r="0.65" fill="#b0f4fa" opacity="0.85"/><circle cx="757.4" cy="173.2" r="1.05" fill="#b0f4fa" opacity="0.85"/><circle cx="876.6" cy="238.6" r="0.62" fill="#b0f4fa" opacity="0.85"/><circle cx="799.3" cy="239.9" r="0.95" fill="#d0fafc" opacity="0.85"/><circle cx="813.8" cy="245.6" r="0.86" fill="#90ecf8" opacity="0.85"/><circle cx="741.6" cy="278.7" r="0.56" fill="#b0f4fa" opacity="0.85"/><circle cx="868.4" cy="187.9" r="0.85" fill="#d0fafc" opacity="0.85"/><circle cx="760.8" cy="202.9" r="0.56" fill="#d0fafc" opacity="0.85"/><circle cx="871.0" cy="275.8" r="0.93" fill="#90ecf8" opacity="0.85"/><circle cx="771.6" cy="200.5" r="0.69" fill="#90ecf8" opacity="0.85"/><circle cx="813.8" cy="282.5" r="0.89" fill="#b0f4fa" opacity="0.85"/><circle cx="831.6" cy="269.3" r="0.80" fill="#90ecf8" opacity="0.85"/><circle cx="918.4" cy="183.6" r="0.59" fill="#90ecf8" opacity="0.85"/><circle cx="799.1" cy="186.3" r="0.95" fill="#d0fafc" opacity="0.85"/><circle cx="816.8" cy="250.7" r="1.00" fill="#90ecf8" opacity="0.85"/><circle cx="815.7" cy="236.7" r="0.55" fill="#90ecf8" opacity="0.85"/><circle cx="745.0" cy="234.6" r="0.94" fill="#b0f4fa" opacity="0.85"/><circle cx="743.1" cy="163.9" r="0.58" fill="#b0f4fa" opacity="0.85"/><circle cx="834.9" cy="271.1" r="0.63" fill="#90ecf8" opacity="0.85"/><circle cx="848.6" cy="213.9" r="0.74" fill="#b0f4fa" opacity="0.85"/><circle cx="798.3" cy="187.8" r="0.62" fill="#d0fafc" opacity="0.85"/><circle cx="902.0" cy="216.5" r="0.65" fill="#b0f4fa" opacity="0.85"/><circle cx="897.6" cy="260.2" r="0.86" fill="#d0fafc" opacity="0.85"/><circle cx="794.4" cy="230.7" r="0.68" fill="#d0fafc" opacity="0.85"/><circle cx="840.2" cy="293.6" r="0.67" fill="#d0fafc" opacity="0.85"/><circle cx="899.6" cy="249.0" r="0.61" fill="#b0f4fa" opacity="0.85"/><circle cx="807.2" cy="207.3" r="1.03" fill="#b0f4fa" opacity="0.85"/><circle cx="791.7" cy="264.3" r="0.71" fill="#b0f4fa" opacity="0.85"/><circle cx="890.3" cy="205.7" r="0.90" fill="#b0f4fa" opacity="0.85"/><circle cx="789.2" cy="201.6" r="0.70" fill="#d0fafc" opacity="0.85"/><circle cx="906.3" cy="208.5" r="1.03" fill="#d0fafc" opacity="0.85"/><circle cx="794.0" cy="254.1" r="0.59" fill="#90ecf8" opacity="0.85"/><circle cx="824.2" cy="266.1" r="0.55" fill="#d0fafc" opacity="0.85"/><circle cx="910.0" cy="213.9" r="0.98" fill="#d0fafc" opacity="0.85"/><circle cx="862.6" cy="182.9" r="0.68" fill="#d0fafc" opacity="0.85"/><circle cx="900.2" cy="281.5" r="1.02" fill="#90ecf8" opacity="0.85"/><circle cx="848.2" cy="290.8" r="0.91" fill="#d0fafc" opacity="0.85"/><circle cx="811.3" cy="214.9" r="0.71" fill="#b0f4fa" opacity="0.85"/><circle cx="756.6" cy="236.7" r="0.79" fill="#b0f4fa" opacity="0.85"/><circle cx="780.5" cy="295.8" r="1.00" fill="#90ecf8" opacity="0.85"/><circle cx="743.3" cy="239.5" r="0.95" fill="#d0fafc" opacity="0.85"/><circle cx="908.7" cy="196.1" r="0.95" fill="#90ecf8" opacity="0.85"/><circle cx="849.4" cy="204.4" r="0.76" fill="#90ecf8" opacity="0.85"/><circle cx="788.3" cy="197.6" r="0.96" fill="#90ecf8" opacity="0.85"/><circle cx="770.8" cy="261.6" r="0.66" fill="#90ecf8" opacity="0.85"/><circle cx="871.9" cy="298.7" r="0.83" fill="#90ecf8" opacity="0.85"/><circle cx="788.2" cy="289.8" r="0.57" fill="#90ecf8" opacity="0.85"/><circle cx="790.4" cy="294.8" r="0.80" fill="#b0f4fa" opacity="0.85"/><circle cx="910.9" cy="164.5" r="0.91" fill="#d0fafc" opacity="0.85"/><circle cx="910.8" cy="288.4" r="0.98" fill="#d0fafc" opacity="0.85"/><circle cx="907.1" cy="181.0" r="0.61" fill="#b0f4fa" opacity="0.85"/><circle cx="826.6" cy="190.1" r="0.63" fill="#b0f4fa" opacity="0.85"/><circle cx="744.8" cy="281.4" r="0.61" fill="#b0f4fa" opacity="0.85"/><circle cx="841.9" cy="257.6" r="0.77" fill="#b0f4fa" opacity="0.85"/><circle cx="768.9" cy="229.5" r="0.63" fill="#d0fafc" opacity="0.85"/><circle cx="775.0" cy="227.5" r="0.72" fill="#b0f4fa" opacity="0.85"/><circle cx="902.0" cy="197.8" r="0.68" fill="#d0fafc" opacity="0.85"/><circle cx="880.6" cy="221.2" r="0.70" fill="#b0f4fa" opacity="0.85"/><circle cx="784.2" cy="232.7" r="0.88" fill="#d0fafc" opacity="0.85"/><circle cx="751.5" cy="187.7" r="0.75" fill="#d0fafc" opacity="0.85"/><circle cx="789.7" cy="243.8" r="0.90" fill="#b0f4fa" opacity="0.85"/><circle cx="859.3" cy="286.5" r="0.95" fill="#90ecf8" opacity="0.85"/><circle cx="920.5" cy="228.0" r="1.02" fill="#b0f4fa" opacity="0.85"/><circle cx="773.8" cy="212.7" r="1.00" fill="#d0fafc" opacity="0.85"/><circle cx="740.1" cy="205.8" r="0.75" fill="#d0fafc" opacity="0.85"/><circle cx="911.0" cy="271.1" r="0.94" fill="#b0f4fa" opacity="0.85"/><circle cx="738.9" cy="215.1" r="0.58" fill="#b0f4fa" opacity="0.85"/><circle cx="744.1" cy="181.2" r="0.58" fill="#90ecf8" opacity="0.85"/><circle cx="823.2" cy="197.4" r="0.63" fill="#90ecf8" opacity="0.85"/><circle cx="839.0" cy="205.9" r="0.67" fill="#90ecf8" opacity="0.85"/><circle cx="887.2" cy="171.9" r="0.85" fill="#90ecf8" opacity="0.85"/><circle cx="837.6" cy="223.8" r="0.70" fill="#d0fafc" opacity="0.85"/><circle cx="842.8" cy="252.1" r="0.84" fill="#d0fafc" opacity="0.85"/><circle cx="886.5" cy="200.6" r="0.91" fill="#b0f4fa" opacity="0.85"/><circle cx="882.3" cy="208.1" r="0.91" fill="#b0f4fa" opacity="0.85"/><circle cx="818.1" cy="274.9" r="0.76" fill="#b0f4fa" opacity="0.85"/><circle cx="836.7" cy="242.0" r="1.00" fill="#90ecf8" opacity="0.85"/><circle cx="749.6" cy="294.3" r="0.84" fill="#b0f4fa" opacity="0.85"/><circle cx="746.2" cy="285.0" r="0.88" fill="#90ecf8" opacity="0.85"/><circle cx="840.8" cy="193.4" r="0.62" fill="#b0f4fa" opacity="0.85"/><circle cx="902.1" cy="195.0" r="0.90" fill="#d0fafc" opacity="0.85"/><circle cx="770.0" cy="200.6" r="1.02" fill="#b0f4fa" opacity="0.85"/><circle cx="842.0" cy="168.1" r="1.04" fill="#90ecf8" opacity="0.85"/><circle cx="756.9" cy="274.2" r="1.02" fill="#90ecf8" opacity="0.85"/><circle cx="871.6" cy="177.9" r="0.75" fill="#90ecf8" opacity="0.85"/><circle cx="795.9" cy="287.4" r="1.05" fill="#b0f4fa" opacity="0.85"/><circle cx="834.8" cy="275.2" r="0.92" fill="#b0f4fa" opacity="0.85"/><circle cx="800.9" cy="297.2" r="0.56" fill="#b0f4fa" opacity="0.85"/><circle cx="832.8" cy="164.8" r="1.02" fill="#90ecf8" opacity="0.85"/><circle cx="762.0" cy="169.5" r="0.67" fill="#b0f4fa" opacity="0.85"/><circle cx="755.9" cy="264.8" r="0.66" fill="#90ecf8" opacity="0.85"/><circle cx="759.1" cy="247.6" r="0.67" fill="#d0fafc" opacity="0.85"/><circle cx="852.5" cy="191.1" r="0.89" fill="#90ecf8" opacity="0.85"/><circle cx="752.7" cy="227.6" r="0.96" fill="#b0f4fa" opacity="0.85"/><circle cx="872.2" cy="208.4" r="0.55" fill="#d0fafc" opacity="0.85"/><circle cx="739.3" cy="279.7" r="0.56" fill="#90ecf8" opacity="0.85"/><circle cx="807.0" cy="186.2" r="0.91" fill="#d0fafc" opacity="0.85"/><circle cx="895.2" cy="273.1" r="0.92" fill="#90ecf8" opacity="0.85"/><circle cx="901.2" cy="192.8" r="0.88" fill="#90ecf8" opacity="0.85"/><circle cx="891.1" cy="210.7" r="1.03" fill="#d0fafc" opacity="0.85"/><circle cx="906.4" cy="177.9" r="0.79" fill="#b0f4fa" opacity="0.85"/><circle cx="872.9" cy="234.5" r="0.82" fill="#b0f4fa" opacity="0.85"/><circle cx="842.7" cy="188.5" r="0.81" fill="#d0fafc" opacity="0.85"/><circle cx="800.9" cy="206.6" r="1.02" fill="#b0f4fa" opacity="0.85"/><circle cx="836.8" cy="271.0" r="0.72" fill="#90ecf8" opacity="0.85"/><circle cx="897.7" cy="201.3" r="0.84" fill="#d0fafc" opacity="0.85"/><circle cx="757.5" cy="212.4" r="0.89" fill="#b0f4fa" opacity="0.85"/><circle cx="753.8" cy="272.1" r="0.90" fill="#b0f4fa" opacity="0.85"/><circle cx="830.1" cy="229.5" r="1.04" fill="#d0fafc" opacity="0.85"/><circle cx="754.6" cy="195.2" r="0.88" fill="#b0f4fa" opacity="0.85"/><circle cx="822.9" cy="281.4" r="0.79" fill="#b0f4fa" opacity="0.85"/><circle cx="821.7" cy="279.9" r="0.81" fill="#b0f4fa" opacity="0.85"/><circle cx="845.6" cy="180.5" r="0.88" fill="#b0f4fa" opacity="0.85"/><circle cx="791.7" cy="227.1" r="0.62" fill="#b0f4fa" opacity="0.85"/><circle cx="861.9" cy="184.6" r="0.91" fill="#d0fafc" opacity="0.85"/><circle cx="826.6" cy="255.5" r="0.90" fill="#90ecf8" opacity="0.85"/><circle cx="810.6" cy="187.3" r="0.93" fill="#b0f4fa" opacity="0.85"/><circle cx="807.4" cy="192.4" r="0.84" fill="#d0fafc" opacity="0.85"/><circle cx="853.6" cy="242.4" r="0.61" fill="#b0f4fa" opacity="0.85"/><circle cx="871.5" cy="274.5" r="0.91" fill="#90ecf8" opacity="0.85"/><circle cx="875.7" cy="269.1" r="0.64" fill="#b0f4fa" opacity="0.85"/><circle cx="767.5" cy="292.5" r="0.58" fill="#d0fafc" opacity="0.85"/><circle cx="842.4" cy="291.1" r="0.99" fill="#90ecf8" opacity="0.85"/><circle cx="855.5" cy="265.1" r="0.70" fill="#b0f4fa" opacity="0.85"/><circle cx="872.2" cy="257.9" r="0.63" fill="#b0f4fa" opacity="0.85"/><circle cx="905.9" cy="220.9" r="0.88" fill="#d0fafc" opacity="0.85"/><circle cx="884.5" cy="254.9" r="0.74" fill="#90ecf8" opacity="0.85"/><circle cx="769.0" cy="274.8" r="1.04" fill="#d0fafc" opacity="0.85"/><circle cx="758.9" cy="214.9" r="0.60" fill="#90ecf8" opacity="0.85"/><circle cx="842.9" cy="172.6" r="0.86" fill="#d0fafc" opacity="0.85"/><circle cx="890.6" cy="252.6" r="0.70" fill="#b0f4fa" opacity="0.85"/><circle cx="890.6" cy="165.8" r="1.00" fill="#b0f4fa" opacity="0.85"/><circle cx="839.9" cy="188.1" r="0.90" fill="#b0f4fa" opacity="0.85"/><circle cx="907.1" cy="223.7" r="0.79" fill="#d0fafc" opacity="0.85"/><circle cx="776.2" cy="255.5" r="1.03" fill="#b0f4fa" opacity="0.85"/><circle cx="848.1" cy="287.6" r="0.63" fill="#d0fafc" opacity="0.85"/><circle cx="896.1" cy="166.0" r="0.57" fill="#d0fafc" opacity="0.85"/><circle cx="796.5" cy="257.1" r="0.94" fill="#90ecf8" opacity="0.85"/><circle cx="810.3" cy="294.6" r="0.66" fill="#d0fafc" opacity="0.85"/><circle cx="771.5" cy="295.1" r="0.93" fill="#d0fafc" opacity="0.85"/><circle cx="900.1" cy="264.0" r="0.80" fill="#d0fafc" opacity="0.85"/><circle cx="885.0" cy="204.2" r="0.68" fill="#90ecf8" opacity="0.85"/><circle cx="786.9" cy="216.2" r="0.80" fill="#90ecf8" opacity="0.85"/><circle cx="748.5" cy="202.8" r="0.68" fill="#90ecf8" opacity="0.85"/><circle cx="867.7" cy="285.4" r="1.00" fill="#d0fafc" opacity="0.85"/><circle cx="851.5" cy="186.2" r="0.97" fill="#d0fafc" opacity="0.85"/><circle cx="918.9" cy="262.1" r="0.91" fill="#90ecf8" opacity="0.85"/><circle cx="880.2" cy="264.6" r="0.67" fill="#90ecf8" opacity="0.85"/><circle cx="772.5" cy="167.1" r="0.72" fill="#90ecf8" opacity="0.85"/><circle cx="810.4" cy="177.4" r="0.69" fill="#d0fafc" opacity="0.85"/><circle cx="832.1" cy="237.4" r="0.80" fill="#d0fafc" opacity="0.85"/><circle cx="917.0" cy="285.8" r="0.94" fill="#90ecf8" opacity="0.85"/><circle cx="822.3" cy="278.8" r="0.89" fill="#d0fafc" opacity="0.85"/><circle cx="756.6" cy="262.8" r="0.95" fill="#90ecf8" opacity="0.85"/><circle cx="776.0" cy="181.9" r="0.96" fill="#d0fafc" opacity="0.85"/><circle cx="877.0" cy="208.1" r="0.98" fill="#b0f4fa" opacity="0.85"/><circle cx="806.7" cy="218.8" r="0.79" fill="#90ecf8" opacity="0.85"/><circle cx="878.8" cy="229.2" r="0.70" fill="#b0f4fa" opacity="0.85"/><circle cx="822.5" cy="187.9" r="0.77" fill="#b0f4fa" opacity="0.85"/><circle cx="857.3" cy="252.3" r="0.57" fill="#d0fafc" opacity="0.85"/><circle cx="820.2" cy="294.6" r="0.97" fill="#d0fafc" opacity="0.85"/><circle cx="819.2" cy="266.8" r="0.95" fill="#b0f4fa" opacity="0.85"/><circle cx="851.2" cy="283.0" r="0.73" fill="#90ecf8" opacity="0.85"/><circle cx="871.5" cy="201.7" r="0.57" fill="#d0fafc" opacity="0.85"/><circle cx="812.4" cy="199.9" r="0.93" fill="#d0fafc" opacity="0.85"/><circle cx="776.2" cy="290.0" r="0.90" fill="#b0f4fa" opacity="0.85"/><circle cx="832.6" cy="286.4" r="0.98" fill="#d0fafc" opacity="0.85"/><circle cx="906.8" cy="291.3" r="0.56" fill="#90ecf8" opacity="0.85"/><circle cx="818.8" cy="271.2" r="0.76" fill="#b0f4fa" opacity="0.85"/><circle cx="827.5" cy="192.3" r="1.02" fill="#90ecf8" opacity="0.85"/><circle cx="785.0" cy="184.4" r="0.65" fill="#b0f4fa" opacity="0.85"/><circle cx="798.1" cy="274.8" r="1.05" fill="#90ecf8" opacity="0.85"/><circle cx="913.5" cy="189.9" r="1.00" fill="#d0fafc" opacity="0.85"/><circle cx="920.6" cy="207.7" r="0.95" fill="#d0fafc" opacity="0.85"/><circle cx="818.8" cy="237.3" r="0.93" fill="#b0f4fa" opacity="0.85"/><circle cx="901.1" cy="178.1" r="0.79" fill="#d0fafc" opacity="0.85"/><circle cx="760.5" cy="186.2" r="1.01" fill="#b0f4fa" opacity="0.85"/><circle cx="767.0" cy="181.4" r="0.83" fill="#d0fafc" opacity="0.85"/><circle cx="830.0" cy="279.5" r="0.86" fill="#d0fafc" opacity="0.85"/><circle cx="911.0" cy="169.1" r="1.03" fill="#d0fafc" opacity="0.85"/><circle cx="899.2" cy="253.1" r="0.80" fill="#b0f4fa" opacity="0.85"/><circle cx="862.4" cy="240.2" r="0.92" fill="#b0f4fa" opacity="0.85"/><circle cx="750.0" cy="253.1" r="1.04" fill="#b0f4fa" opacity="0.85"/><circle cx="859.3" cy="272.2" r="0.95" fill="#b0f4fa" opacity="0.85"/><circle cx="762.7" cy="286.2" r="0.70" fill="#d0fafc" opacity="0.85"/><circle cx="804.4" cy="226.5" r="0.62" fill="#90ecf8" opacity="0.85"/><circle cx="821.1" cy="295.7" r="0.73" fill="#d0fafc" opacity="0.85"/><circle cx="839.9" cy="290.5" r="0.92" fill="#d0fafc" opacity="0.85"/><circle cx="819.6" cy="267.6" r="0.82" fill="#90ecf8" opacity="0.85"/><circle cx="834.5" cy="191.1" r="0.84" fill="#90ecf8" opacity="0.85"/><circle cx="802.7" cy="247.6" r="0.93" fill="#90ecf8" opacity="0.85"/><circle cx="885.1" cy="230.5" r="0.84" fill="#d0fafc" opacity="0.85"/><circle cx="830.1" cy="261.7" r="0.85" fill="#b0f4fa" opacity="0.85"/><circle cx="884.9" cy="162.2" r="0.94" fill="#b0f4fa" opacity="0.85"/><circle cx="793.0" cy="180.8" r="0.71" fill="#b0f4fa" opacity="0.85"/><circle cx="882.4" cy="273.6" r="0.63" fill="#b0f4fa" opacity="0.85"/><circle cx="762.5" cy="184.3" r="0.71" fill="#d0fafc" opacity="0.85"/><circle cx="786.2" cy="191.3" r="0.73" fill="#90ecf8" opacity="0.85"/><circle cx="919.3" cy="183.3" r="0.92" fill="#b0f4fa" opacity="0.85"/><circle cx="804.6" cy="283.5" r="0.68" fill="#b0f4fa" opacity="0.85"/><circle cx="865.1" cy="229.2" r="0.77" fill="#b0f4fa" opacity="0.85"/><circle cx="875.1" cy="212.2" r="0.68" fill="#d0fafc" opacity="0.85"/><circle cx="764.6" cy="197.1" r="0.95" fill="#b0f4fa" opacity="0.85"/><circle cx="771.0" cy="212.5" r="0.91" fill="#b0f4fa" opacity="0.85"/><circle cx="805.9" cy="255.9" r="0.66" fill="#90ecf8" opacity="0.85"/><circle cx="909.0" cy="289.5" r="0.70" fill="#b0f4fa" opacity="0.85"/><circle cx="863.4" cy="166.9" r="0.57" fill="#90ecf8" opacity="0.85"/><circle cx="915.2" cy="176.8" r="0.97" fill="#d0fafc" opacity="0.85"/><circle cx="894.1" cy="194.4" r="0.98" fill="#90ecf8" opacity="0.85"/><circle cx="772.6" cy="164.2" r="0.90" fill="#b0f4fa" opacity="0.85"/><circle cx="838.8" cy="244.7" r="0.59" fill="#b0f4fa" opacity="0.85"/><circle cx="756.3" cy="222.4" r="0.63" fill="#90ecf8" opacity="0.85"/><circle cx="852.5" cy="296.7" r="1.02" fill="#90ecf8" opacity="0.85"/><circle cx="831.0" cy="212.5" r="0.93" fill="#90ecf8" opacity="0.85"/><circle cx="903.1" cy="187.2" r="1.00" fill="#90ecf8" opacity="0.85"/><circle cx="887.5" cy="272.1" r="0.61" fill="#d0fafc" opacity="0.85"/><circle cx="863.7" cy="168.5" r="0.91" fill="#d0fafc" opacity="0.85"/><circle cx="757.2" cy="232.7" r="0.90" fill="#b0f4fa" opacity="0.85"/><circle cx="867.6" cy="172.0" r="0.74" fill="#b0f4fa" opacity="0.85"/><circle cx="881.3" cy="238.6" r="0.93" fill="#d0fafc" opacity="0.85"/><circle cx="785.6" cy="292.0" r="0.84" fill="#90ecf8" opacity="0.85"/><circle cx="797.9" cy="182.3" r="0.56" fill="#90ecf8" opacity="0.85"/><circle cx="875.8" cy="256.1" r="0.88" fill="#90ecf8" opacity="0.85"/><circle cx="823.1" cy="184.9" r="0.68" fill="#b0f4fa" opacity="0.85"/><circle cx="739.6" cy="178.5" r="0.88" fill="#b0f4fa" opacity="0.85"/><circle cx="742.9" cy="261.6" r="0.67" fill="#b0f4fa" opacity="0.85"/><circle cx="915.9" cy="264.0" r="0.80" fill="#b0f4fa" opacity="0.85"/><circle cx="857.9" cy="224.3" r="0.82" fill="#d0fafc" opacity="0.85"/><circle cx="857.4" cy="220.3" r="0.83" fill="#90ecf8" opacity="0.85"/><circle cx="917.8" cy="287.9" r="0.74" fill="#b0f4fa" opacity="0.85"/><circle cx="912.4" cy="164.7" r="0.58" fill="#b0f4fa" opacity="0.85"/><circle cx="886.6" cy="168.2" r="0.81" fill="#90ecf8" opacity="0.85"/><circle cx="820.1" cy="225.7" r="0.89" fill="#d0fafc" opacity="0.85"/><circle cx="882.8" cy="164.3" r="0.92" fill="#d0fafc" opacity="0.85"/><circle cx="821.4" cy="224.8" r="0.69" fill="#90ecf8" opacity="0.85"/><circle cx="779.3" cy="200.2" r="0.55" fill="#b0f4fa" opacity="0.85"/><circle cx="790.4" cy="191.5" r="0.76" fill="#90ecf8" opacity="0.85"/><circle cx="816.4" cy="213.8" r="0.98" fill="#90ecf8" opacity="0.85"/><circle cx="783.1" cy="248.4" r="0.69" fill="#90ecf8" opacity="0.85"/><circle cx="828.1" cy="295.0" r="0.68" fill="#d0fafc" opacity="0.85"/><circle cx="784.8" cy="211.0" r="0.67" fill="#d0fafc" opacity="0.85"/><circle cx="845.4" cy="220.6" r="0.62" fill="#b0f4fa" opacity="0.85"/><circle cx="884.4" cy="216.9" r="0.70" fill="#b0f4fa" opacity="0.85"/><circle cx="916.9" cy="260.2" r="0.68" fill="#b0f4fa" opacity="0.85"/><circle cx="768.5" cy="226.0" r="1.04" fill="#b0f4fa" opacity="0.85"/><circle cx="770.9" cy="199.8" r="0.60" fill="#b0f4fa" opacity="0.85"/><circle cx="770.5" cy="184.8" r="0.73" fill="#b0f4fa" opacity="0.85"/><circle cx="907.6" cy="237.7" r="0.94" fill="#90ecf8" opacity="0.85"/><circle cx="783.3" cy="185.5" r="0.92" fill="#b0f4fa" opacity="0.85"/><circle cx="875.5" cy="186.5" r="0.91" fill="#b0f4fa" opacity="0.85"/><circle cx="802.4" cy="287.4" r="0.58" fill="#b0f4fa" opacity="0.85"/><circle cx="799.8" cy="203.1" r="0.73" fill="#90ecf8" opacity="0.85"/><circle cx="826.1" cy="194.1" r="0.64" fill="#b0f4fa" opacity="0.85"/><circle cx="783.3" cy="279.8" r="0.85" fill="#b0f4fa" opacity="0.85"/><circle cx="877.3" cy="253.2" r="0.98" fill="#d0fafc" opacity="0.85"/><circle cx="843.3" cy="194.1" r="0.75" fill="#d0fafc" opacity="0.85"/><circle cx="775.6" cy="188.6" r="0.93" fill="#90ecf8" opacity="0.85"/><circle cx="870.0" cy="194.0" r="0.63" fill="#90ecf8" opacity="0.85"/><circle cx="851.2" cy="183.3" r="0.56" fill="#90ecf8" opacity="0.85"/><circle cx="807.4" cy="166.3" r="0.79" fill="#d0fafc" opacity="0.85"/><circle cx="777.3" cy="179.7" r="1.00" fill="#90ecf8" opacity="0.85"/><circle cx="888.7" cy="280.4" r="0.80" fill="#d0fafc" opacity="0.85"/><circle cx="767.9" cy="186.4" r="1.00" fill="#90ecf8" opacity="0.85"/><circle cx="885.9" cy="186.6" r="0.77" fill="#90ecf8" opacity="0.85"/><circle cx="870.0" cy="172.0" r="0.70" fill="#b0f4fa" opacity="0.85"/><circle cx="811.2" cy="234.6" r="0.73" fill="#b0f4fa" opacity="0.85"/><circle cx="862.4" cy="219.9" r="0.80" fill="#90ecf8" opacity="0.85"/><circle cx="861.3" cy="175.5" r="0.94" fill="#90ecf8" opacity="0.85"/><circle cx="790.7" cy="207.2" r="0.91" fill="#b0f4fa" opacity="0.85"/><circle cx="916.6" cy="270.3" r="0.97" fill="#b0f4fa" opacity="0.85"/><circle cx="896.0" cy="253.4" r="0.58" fill="#d0fafc" opacity="0.85"/><circle cx="862.0" cy="177.4" r="1.00" fill="#d0fafc" opacity="0.85"/><circle cx="908.4" cy="162.1" r="0.66" fill="#90ecf8" opacity="0.85"/><circle cx="914.5" cy="193.8" r="1.04" fill="#d0fafc" opacity="0.85"/><circle cx="765.2" cy="294.5" r="0.73" fill="#d0fafc" opacity="0.85"/><circle cx="746.1" cy="218.1" r="1.04" fill="#90ecf8" opacity="0.85"/><circle cx="814.3" cy="276.5" r="1.01" fill="#b0f4fa" opacity="0.85"/><circle cx="905.9" cy="185.6" r="0.92" fill="#b0f4fa" opacity="0.85"/><circle cx="838.4" cy="282.6" r="1.00" fill="#d0fafc" opacity="0.85"/><circle cx="758.0" cy="176.4" r="0.90" fill="#b0f4fa" opacity="0.85"/><circle cx="815.8" cy="224.9" r="0.67" fill="#b0f4fa" opacity="0.85"/><circle cx="846.1" cy="264.6" r="0.97" fill="#90ecf8" opacity="0.85"/><circle cx="768.3" cy="277.3" r="0.70" fill="#90ecf8" opacity="0.85"/><circle cx="900.0" cy="227.2" r="0.92" fill="#d0fafc" opacity="0.85"/><circle cx="757.0" cy="227.9" r="0.66" fill="#d0fafc" opacity="0.85"/><circle cx="819.0" cy="225.8" r="1.04" fill="#90ecf8" opacity="0.85"/><circle cx="857.7" cy="241.0" r="1.05" fill="#b0f4fa" opacity="0.85"/><circle cx="882.9" cy="188.0" r="1.01" fill="#d0fafc" opacity="0.85"/><circle cx="854.9" cy="242.7" r="0.76" fill="#b0f4fa" opacity="0.85"/><circle cx="750.6" cy="192.2" r="0.71" fill="#90ecf8" opacity="0.85"/><circle cx="852.1" cy="199.5" r="0.84" fill="#d0fafc" opacity="0.85"/><circle cx="749.1" cy="237.3" r="1.00" fill="#90ecf8" opacity="0.85"/><circle cx="913.4" cy="298.7" r="0.56" fill="#90ecf8" opacity="0.85"/><circle cx="810.6" cy="232.9" r="0.82" fill="#d0fafc" opacity="0.85"/><circle cx="870.2" cy="260.4" r="0.56" fill="#d0fafc" opacity="0.85"/><circle cx="912.0" cy="245.9" r="0.69" fill="#90ecf8" opacity="0.85"/><circle cx="836.8" cy="285.7" r="0.86" fill="#d0fafc" opacity="0.85"/><circle cx="882.3" cy="255.8" r="0.80" fill="#d0fafc" opacity="0.85"/><circle cx="783.6" cy="203.1" r="1.01" fill="#b0f4fa" opacity="0.85"/><circle cx="760.9" cy="228.5" r="0.66" fill="#90ecf8" opacity="0.85"/><circle cx="819.7" cy="165.5" r="0.62" fill="#90ecf8" opacity="0.85"/><circle cx="821.1" cy="256.2" r="0.68" fill="#b0f4fa" opacity="0.85"/><circle cx="895.2" cy="167.2" r="0.85" fill="#90ecf8" opacity="0.85"/><circle cx="913.9" cy="227.1" r="0.71" fill="#d0fafc" opacity="0.85"/><circle cx="825.3" cy="284.2" r="0.68" fill="#90ecf8" opacity="0.85"/><circle cx="907.5" cy="249.2" r="0.98" fill="#d0fafc" opacity="0.85"/><circle cx="860.4" cy="241.6" r="0.66" fill="#b0f4fa" opacity="0.85"/><circle cx="886.4" cy="223.2" r="0.56" fill="#90ecf8" opacity="0.85"/><circle cx="743.7" cy="242.8" r="0.72" fill="#b0f4fa" opacity="0.85"/><circle cx="739.8" cy="251.6" r="0.69" fill="#90ecf8" opacity="0.85"/><circle cx="740.1" cy="262.7" r="0.98" fill="#b0f4fa" opacity="0.85"/><circle cx="858.7" cy="278.0" r="1.03" fill="#90ecf8" opacity="0.85"/><circle cx="777.2" cy="167.1" r="0.60" fill="#90ecf8" opacity="0.85"/><circle cx="847.1" cy="225.7" r="0.71" fill="#d0fafc" opacity="0.85"/><circle cx="753.2" cy="251.6" r="1.00" fill="#d0fafc" opacity="0.85"/><circle cx="844.1" cy="245.0" r="1.00" fill="#d0fafc" opacity="0.85"/><circle cx="814.7" cy="197.8" r="0.75" fill="#d0fafc" opacity="0.85"/><circle cx="748.1" cy="234.7" r="1.02" fill="#d0fafc" opacity="0.85"/><circle cx="777.3" cy="230.6" r="0.61" fill="#b0f4fa" opacity="0.85"/><circle cx="872.0" cy="190.4" r="0.85" fill="#d0fafc" opacity="0.85"/><circle cx="856.6" cy="244.3" r="0.74" fill="#d0fafc" opacity="0.85"/><circle cx="787.0" cy="232.3" r="0.97" fill="#d0fafc" opacity="0.85"/><circle cx="916.0" cy="196.8" r="0.91" fill="#90ecf8" opacity="0.85"/><circle cx="831.0" cy="223.2" r="0.84" fill="#b0f4fa" opacity="0.85"/><circle cx="748.1" cy="287.2" r="0.60" fill="#b0f4fa" opacity="0.85"/><circle cx="860.1" cy="190.6" r="0.87" fill="#b0f4fa" opacity="0.85"/><circle cx="739.9" cy="294.9" r="0.57" fill="#b0f4fa" opacity="0.85"/><circle cx="830.8" cy="283.6" r="0.65" fill="#d0fafc" opacity="0.85"/><circle cx="847.8" cy="251.6" r="0.76" fill="#b0f4fa" opacity="0.85"/><circle cx="860.5" cy="270.4" r="1.03" fill="#d0fafc" opacity="0.85"/><circle cx="822.2" cy="229.3" r="0.73" fill="#d0fafc" opacity="0.85"/><circle cx="919.3" cy="274.7" r="0.68" fill="#b0f4fa" opacity="0.85"/><circle cx="873.5" cy="167.9" r="0.61" fill="#b0f4fa" opacity="0.85"/><circle cx="781.0" cy="191.5" r="0.74" fill="#d0fafc" opacity="0.85"/><circle cx="882.7" cy="291.9" r="0.85" fill="#90ecf8" opacity="0.85"/><circle cx="883.4" cy="280.8" r="0.82" fill="#d0fafc" opacity="0.85"/><circle cx="899.1" cy="217.9" r="0.69" fill="#90ecf8" opacity="0.85"/><circle cx="825.4" cy="255.9" r="0.94" fill="#90ecf8" opacity="0.85"/><circle cx="766.6" cy="253.0" r="1.05" fill="#b0f4fa" opacity="0.85"/><circle cx="879.2" cy="177.0" r="0.62" fill="#d0fafc" opacity="0.85"/><circle cx="757.6" cy="267.4" r="0.99" fill="#d0fafc" opacity="0.85"/><circle cx="909.6" cy="190.4" r="0.59" fill="#d0fafc" opacity="0.85"/><circle cx="847.1" cy="164.5" r="0.84" fill="#d0fafc" opacity="0.85"/><circle cx="850.7" cy="216.2" r="0.69" fill="#d0fafc" opacity="0.85"/><circle cx="910.2" cy="179.1" r="0.78" fill="#d0fafc" opacity="0.85"/><circle cx="897.8" cy="246.0" r="0.93" fill="#d0fafc" opacity="0.85"/><circle cx="786.5" cy="272.4" r="1.00" fill="#b0f4fa" opacity="0.85"/><circle cx="834.7" cy="251.1" r="1.05" fill="#d0fafc" opacity="0.85"/><circle cx="796.9" cy="166.8" r="0.98" fill="#d0fafc" opacity="0.85"/><circle cx="756.4" cy="193.6" r="0.94" fill="#b0f4fa" opacity="0.85"/><circle cx="910.8" cy="258.1" r="1.01" fill="#90ecf8" opacity="0.85"/><circle cx="808.8" cy="244.7" r="0.88" fill="#d0fafc" opacity="0.85"/><circle cx="900.3" cy="279.9" r="0.81" fill="#90ecf8" opacity="0.85"/><circle cx="748.6" cy="264.9" r="0.73" fill="#b0f4fa" opacity="0.85"/><circle cx="867.6" cy="182.2" r="0.66" fill="#b0f4fa" opacity="0.85"/><circle cx="807.5" cy="231.5" r="0.83" fill="#d0fafc" opacity="0.85"/><circle cx="848.8" cy="272.5" r="0.94" fill="#d0fafc" opacity="0.85"/><circle cx="797.1" cy="281.0" r="0.75" fill="#b0f4fa" opacity="0.85"/><circle cx="761.4" cy="227.7" r="0.65" fill="#d0fafc" opacity="0.85"/><circle cx="764.3" cy="219.9" r="0.95" fill="#d0fafc" opacity="0.85"/><circle cx="892.3" cy="180.3" r="0.76" fill="#b0f4fa" opacity="0.85"/><circle cx="750.5" cy="217.4" r="0.80" fill="#d0fafc" opacity="0.85"/><circle cx="746.5" cy="224.4" r="0.57" fill="#d0fafc" opacity="0.85"/><circle cx="908.8" cy="183.3" r="0.65" fill="#b0f4fa" opacity="0.85"/><circle cx="829.2" cy="218.1" r="0.65" fill="#b0f4fa" opacity="0.85"/><circle cx="827.3" cy="253.9" r="0.56" fill="#90ecf8" opacity="0.85"/><circle cx="820.3" cy="183.4" r="0.87" fill="#b0f4fa" opacity="0.85"/><circle cx="908.4" cy="186.9" r="0.64" fill="#b0f4fa" opacity="0.85"/><circle cx="871.9" cy="162.0" r="0.58" fill="#b0f4fa" opacity="0.85"/><circle cx="764.5" cy="206.3" r="0.63" fill="#90ecf8" opacity="0.85"/><circle cx="831.2" cy="172.2" r="0.59" fill="#b0f4fa" opacity="0.85"/><circle cx="803.2" cy="191.8" r="0.85" fill="#90ecf8" opacity="0.85"/><circle cx="797.4" cy="197.3" r="0.99" fill="#d0fafc" opacity="0.85"/><circle cx="870.5" cy="275.7" r="0.73" fill="#90ecf8" opacity="0.85"/><circle cx="782.2" cy="183.3" r="0.80" fill="#b0f4fa" opacity="0.85"/><circle cx="739.4" cy="252.2" r="0.93" fill="#b0f4fa" opacity="0.85"/><circle cx="746.1" cy="293.5" r="0.62" fill="#b0f4fa" opacity="0.85"/><circle cx="910.0" cy="276.4" r="0.67" fill="#b0f4fa" opacity="0.85"/><circle cx="907.0" cy="200.0" r="0.80" fill="#90ecf8" opacity="0.85"/><circle cx="834.7" cy="218.6" r="0.78" fill="#b0f4fa" opacity="0.85"/><circle cx="774.1" cy="258.9" r="0.93" fill="#90ecf8" opacity="0.85"/><circle cx="762.7" cy="258.9" r="0.89" fill="#d0fafc" opacity="0.85"/><circle cx="863.4" cy="218.6" r="1.03" fill="#90ecf8" opacity="0.85"/><circle cx="757.3" cy="197.6" r="0.89" fill="#90ecf8" opacity="0.85"/><circle cx="814.1" cy="282.2" r="0.97" fill="#90ecf8" opacity="0.85"/><circle cx="828.3" cy="271.5" r="0.81" fill="#d0fafc" opacity="0.85"/><circle cx="821.1" cy="203.2" r="0.95" fill="#90ecf8" opacity="0.85"/><circle cx="769.6" cy="274.6" r="0.88" fill="#90ecf8" opacity="0.85"/><circle cx="770.1" cy="196.5" r="0.59" fill="#90ecf8" opacity="0.85"/><circle cx="801.9" cy="294.3" r="0.98" fill="#90ecf8" opacity="0.85"/><circle cx="895.2" cy="286.5" r="0.59" fill="#b0f4fa" opacity="0.85"/><circle cx="824.5" cy="252.2" r="0.74" fill="#90ecf8" opacity="0.85"/><circle cx="774.6" cy="271.6" r="0.94" fill="#d0fafc" opacity="0.85"/><circle cx="739.5" cy="232.9" r="0.58" fill="#90ecf8" opacity="0.85"/><circle cx="842.5" cy="280.5" r="0.63" fill="#b0f4fa" opacity="0.85"/></g><g fill="#23446a" opacity="0.8" filter="url(#bl1)"><circle cx="869" cy="164" r="2.5"/><circle cx="871" cy="174" r="1.2"/><circle cx="873" cy="178" r="1"/><circle cx="880" cy="182" r="0.8"/></g><rect x="737.8" y="299" width="183.2" height="138" fill="#b1a798"/><rect x="737.8" y="299" width="183.2" height="138" fill="url(#vigd)"/><polygon points="766.4,330.6 770.1,334.1 774.6,330.9 773.1,336.2 777.3,338.4 772.7,339.8 773.1,344.8 769.5,341.4 765.5,344.0 765.7,339.7 762.1,337.1 766.4,335.4" fill="#d4ccbe" opacity="0.85" filter="url(#bl1)"/><circle cx="768.8" cy="337.8" r="1.1" fill="#555048" filter="url(#bl1)"/><polygon points="752.3,361.1 751.3,367.4 756.0,369.3 752.9,372.2 752.6,377.0 748.1,374.3 744.5,376.1 743.1,372.6 741.2,369.9 743.2,367.1 743.0,361.9 747.7,365.5" fill="#d4ccbe" opacity="0.85" filter="url(#bl1)"/><circle cx="746.9" cy="369.6" r="1.1" fill="#555048" filter="url(#bl1)"/><polygon points="890.4,313.7 889.3,309.9 885.7,307.9 888.0,304.8 887.5,299.5 892.6,302.5 896.7,298.3 896.3,304.5 899.8,306.0 897.9,308.9 898.7,314.0 893.9,312.3" fill="#d4ccbe" opacity="0.85" filter="url(#bl1)"/><circle cx="892.2" cy="306.9" r="1.1" fill="#555048" filter="url(#bl1)"/><polygon points="914.5,323.0 911.8,325.3 913.2,328.4 910.2,328.1 908.3,328.9 907.1,327.1 905.0,326.2 906.6,324.3 905.4,321.6 908.1,321.8 910.2,319.0 910.8,322.9" fill="#d4ccbe" opacity="0.85" filter="url(#bl1)"/><circle cx="908.1" cy="324.8" r="1.1" fill="#555048" filter="url(#bl1)"/><polygon points="885.6,433.3 890.3,430.1 890.4,425.8 894.7,428.0 898.6,424.6 898.7,429.7 903.6,431.4 899.8,434.3 899.7,438.5 895.8,437.6 892.1,439.3 891.4,435.1" fill="#d4ccbe" opacity="0.85" filter="url(#bl1)"/><circle cx="894.2" cy="432.3" r="1.1" fill="#555048" filter="url(#bl1)"/><polygon points="739.9,306.4 740.5,308.4 742.9,308.9 741.2,310.5 742.2,313.2 739.5,312.0 737.9,313.5 737.5,311.3 735.2,310.9 736.8,309.3 736.2,307.1 738.3,307.3" fill="#d4ccbe" opacity="0.85" filter="url(#bl1)"/><circle cx="738.0" cy="309.9" r="1.1" fill="#555048" filter="url(#bl1)"/><polygon points="759.0,399.4 756.5,400.0 756.0,402.2 754.4,400.5 752.4,401.1 752.9,399.1 751.6,397.7 753.5,397.2 753.9,395.4 755.3,396.6 757.1,396.1 757.2,397.7" fill="#d4ccbe" opacity="0.85" filter="url(#bl1)"/><circle cx="753.9" cy="398.5" r="1.1" fill="#555048" filter="url(#bl1)"/><polygon points="905.4,398.3 905.9,400.2 907.6,400.3 906.9,401.6 907.8,403.3 905.9,403.0 904.9,404.6 903.9,403.2 902.7,402.6 903.4,401.3 902.4,399.6 904.4,399.9" fill="#d4ccbe" opacity="0.85" filter="url(#bl1)"/><circle cx="904.1" cy="401.4" r="1.1" fill="#555048" filter="url(#bl1)"/><circle cx="823.5" cy="322.8" r="0.9" fill="#eee8dd" filter="url(#bl1)"/><circle cx="795.7" cy="344.1" r="0.9" fill="#eee8dd" filter="url(#bl1)"/><circle cx="821.5" cy="335.8" r="0.9" fill="#eee8dd" filter="url(#bl1)"/><circle cx="878.9" cy="354.1" r="0.9" fill="#eee8dd" filter="url(#bl1)"/><circle cx="810.6" cy="385.1" r="0.9" fill="#eee8dd" filter="url(#bl1)"/><circle cx="865.3" cy="373.6" r="0.9" fill="#eee8dd" filter="url(#bl1)"/><circle cx="831.9" cy="418.4" r="0.9" fill="#eee8dd" filter="url(#bl1)"/><circle cx="774.8" cy="431.3" r="0.9" fill="#eee8dd" filter="url(#bl1)"/><circle cx="857.4" cy="390.5" r="0.9" fill="#eee8dd" filter="url(#bl1)"/><circle cx="849.4" cy="319.9" r="0.9" fill="#eee8dd" filter="url(#bl1)"/><circle cx="869.3" cy="329.8" r="0.9" fill="#eee8dd" filter="url(#bl1)"/><circle cx="845.4" cy="341.7" r="0.9" fill="#eee8dd" filter="url(#bl1)"/><circle cx="833.5" cy="373.6" r="0.9" fill="#eee8dd" filter="url(#bl1)"/><circle cx="853.4" cy="321.8" r="0.9" fill="#eee8dd" filter="url(#bl1)"/><circle cx="867.3" cy="330.8" r="0.9" fill="#eee8dd" filter="url(#bl1)"/></g><text x="180.7" y="278.6" font-size="15.2" font-weight="bold" font-family="Liberation Sans, sans-serif" fill="#fff">100 µm</text><rect x="190.4" y="285.2" width="34.400000000000006" height="3.6" fill="#fff"/><text x="190.0" y="413.90000000000003" font-size="15.2" font-weight="bold" font-family="Liberation Sans, sans-serif" fill="#fff">10 µm</text><rect x="197.3" y="421" width="33.69999999999999" height="3.6" fill="#fff"/><text x="408.7" y="278.6" font-size="15.2" font-weight="bold" font-family="Liberation Sans, sans-serif" fill="#fff">100 µm</text><rect x="418" y="285.4" width="34.19999999999999" height="3.6" fill="#fff"/><text x="417.2" y="413.90000000000003" font-size="15.2" font-weight="bold" font-family="Liberation Sans, sans-serif" fill="#fff">10 µm</text><rect x="423.4" y="421" width="33.60000000000002" height="3.6" fill="#fff"/><text x="636.3000000000001" y="278.6" font-size="15.2" font-weight="bold" font-family="Liberation Sans, sans-serif" fill="#fff">100 µm</text><rect x="646" y="284.5" width="34.10000000000002" height="3.6" fill="#fff"/><text x="642.1" y="413.90000000000003" font-size="15.2" font-weight="bold" font-family="Liberation Sans, sans-serif" fill="#fff">10 µm</text><rect x="648.9" y="420.3" width="34.200000000000045" height="3.6" fill="#fff"/><text x="863.3000000000001" y="278.6" font-size="15.2" font-weight="bold" font-family="Liberation Sans, sans-serif" fill="#fff">100 µm</text><rect x="873.6" y="285" width="34.10000000000002" height="3.6" fill="#fff"/><text x="872.1" y="413.90000000000003" font-size="15.2" font-weight="bold" font-family="Liberation Sans, sans-serif" fill="#fff">10 µm</text><rect x="878.3" y="421" width="34.40000000000009" height="3.6" fill="#fff"/><text transform="translate(14.8,489.3) scale(1,1.05)" font-size="26" font-weight="normal" text-anchor="start" font-family="Liberation Sans, sans-serif" fill="#000" stroke="#000" stroke-width="1.0" letter-spacing="2.0">(e)</text><text transform="translate(490.0,488.4) scale(1,1.05)" font-size="26" font-weight="normal" text-anchor="start" font-family="Liberation Sans, sans-serif" fill="#000" stroke="#000" stroke-width="1.0" letter-spacing="2.0">(f)</text><rect x="88" y="473.6" width="355.8" height="234.89999999999998" fill="none" stroke="#222" stroke-width="1.6"/><text transform="translate(88.00,732.5) scale(1,1.08)" font-size="21" text-anchor="middle" font-family="Liberation Sans, sans-serif" fill="#111">340</text><line x1="123.58" y1="708.5" x2="123.58" y2="705.5" stroke="#222" stroke-width="1.7"/><line x1="159.16" y1="708.5" x2="159.16" y2="703.5" stroke="#222" stroke-width="1.7"/><text transform="translate(159.16,732.5) scale(1,1.08)" font-size="21" text-anchor="middle" font-family="Liberation Sans, sans-serif" fill="#111">360</text><line x1="194.74" y1="708.5" x2="194.74" y2="705.5" stroke="#222" stroke-width="1.7"/><line x1="230.32" y1="708.5" x2="230.32" y2="703.5" stroke="#222" stroke-width="1.7"/><text transform="translate(230.32,732.5) scale(1,1.08)" font-size="21" text-anchor="middle" font-family="Liberation Sans, sans-serif" fill="#111">380</text><line x1="265.90" y1="708.5" x2="265.90" y2="705.5" stroke="#222" stroke-width="1.7"/><line x1="301.48" y1="708.5" x2="301.48" y2="703.5" stroke="#222" stroke-width="1.7"/><text transform="translate(301.48,732.5) scale(1,1.08)" font-size="21" text-anchor="middle" font-family="Liberation Sans, sans-serif" fill="#111">400</text><line x1="337.06" y1="708.5" x2="337.06" y2="705.5" stroke="#222" stroke-width="1.7"/><line x1="372.64" y1="708.5" x2="372.64" y2="703.5" stroke="#222" stroke-width="1.7"/><text transform="translate(372.64,732.5) scale(1,1.08)" font-size="21" text-anchor="middle" font-family="Liberation Sans, sans-serif" fill="#111">420</text><line x1="408.22" y1="708.5" x2="408.22" y2="705.5" stroke="#222" stroke-width="1.7"/><text transform="translate(443.80,732.5) scale(1,1.08)" font-size="21" text-anchor="middle" font-family="Liberation Sans, sans-serif" fill="#111">440</text><rect x="562.7" y="472.6" width="356.5999999999999" height="235.39999999999998" fill="none" stroke="#222" stroke-width="1.6"/><text transform="translate(562.70,731.4) scale(1,1.08)" font-size="21" text-anchor="middle" font-family="Liberation Sans, sans-serif" fill="#111">620</text><line x1="598.36" y1="708.0" x2="598.36" y2="705.0" stroke="#222" stroke-width="1.7"/><line x1="634.02" y1="708.0" x2="634.02" y2="703.0" stroke="#222" stroke-width="1.7"/><text transform="translate(634.02,731.4) scale(1,1.08)" font-size="21" text-anchor="middle" font-family="Liberation Sans, sans-serif" fill="#111">640</text><line x1="669.68" y1="708.0" x2="669.68" y2="705.0" stroke="#222" stroke-width="1.7"/><line x1="705.34" y1="708.0" x2="705.34" y2="703.0" stroke="#222" stroke-width="1.7"/><text transform="translate(705.34,731.4) scale(1,1.08)" font-size="21" text-anchor="middle" font-family="Liberation Sans, sans-serif" fill="#111">660</text><line x1="741.00" y1="708.0" x2="741.00" y2="705.0" stroke="#222" stroke-width="1.7"/><line x1="776.66" y1="708.0" x2="776.66" y2="703.0" stroke="#222" stroke-width="1.7"/><text transform="translate(776.66,731.4) scale(1,1.08)" font-size="21" text-anchor="middle" font-family="Liberation Sans, sans-serif" fill="#111">680</text><line x1="812.32" y1="708.0" x2="812.32" y2="705.0" stroke="#222" stroke-width="1.7"/><line x1="847.98" y1="708.0" x2="847.98" y2="703.0" stroke="#222" stroke-width="1.7"/><text transform="translate(847.98,731.4) scale(1,1.08)" font-size="21" text-anchor="middle" font-family="Liberation Sans, sans-serif" fill="#111">700</text><line x1="883.64" y1="708.0" x2="883.64" y2="705.0" stroke="#222" stroke-width="1.7"/><text transform="translate(919.30,731.4) scale(1,1.08)" font-size="21" text-anchor="middle" font-family="Liberation Sans, sans-serif" fill="#111">720</text><text transform="translate(166.8,768.0) scale(1,1)" font-size="22.2" font-weight="normal" text-anchor="start" font-family="Liberation Sans, sans-serif" fill="#111" >Raman shift (cm<tspan font-size="15" dy="-8.5">−1</tspan><tspan dy="8.5">)</tspan></text><text transform="translate(653.2,763.8) scale(1,1)" font-size="21.9" font-weight="normal" text-anchor="start" font-family="Liberation Sans, sans-serif" fill="#111" >Wavelength (nm)</text><text transform="translate(66.8,655.8) rotate(-90)" font-size="21.7" font-family="Liberation Sans, sans-serif" fill="#111">Intensity (a.u.)</text><text transform="translate(543.4,656.8) rotate(-90)" font-size="21.7" font-family="Liberation Sans, sans-serif" fill="#111">Intensity (a.u.)</text><line x1="96.5" y1="488.8" x2="137.3" y2="488.8" stroke="#000" stroke-width="3.4"/><text x="194.6" y="496.0" font-size="17" font-weight="bold" text-anchor="end" font-family="Liberation Sans, sans-serif" fill="#000">5min</text><line x1="96.5" y1="512.3" x2="137.3" y2="512.3" stroke="#f00000" stroke-width="3.4"/><text x="194.6" y="519.5" font-size="17" font-weight="bold" text-anchor="end" font-family="Liberation Sans, sans-serif" fill="#f00000">15min</text><line x1="96.5" y1="535.5" x2="137.3" y2="535.5" stroke="#00b050" stroke-width="3.4"/><text x="194.6" y="542.7" font-size="17" font-weight="bold" text-anchor="end" font-family="Liberation Sans, sans-serif" fill="#00b050">20min</text><line x1="96.5" y1="558.2" x2="137.3" y2="558.2" stroke="#7030a0" stroke-width="3.4"/><text x="194.6" y="565.4000000000001" font-size="17" font-weight="bold" text-anchor="end" font-family="Liberation Sans, sans-serif" fill="#7030a0">25min</text><line x1="567" y1="488.8" x2="608.5" y2="488.8" stroke="#000" stroke-width="3.4"/><text x="665" y="496.0" font-size="17" font-weight="bold" text-anchor="end" font-family="Liberation Sans, sans-serif" fill="#000">5min</text><line x1="567" y1="512.2" x2="608.5" y2="512.2" stroke="#f00000" stroke-width="3.4"/><text x="665" y="519.4000000000001" font-size="17" font-weight="bold" text-anchor="end" font-family="Liberation Sans, sans-serif" fill="#f00000">15min</text><line x1="567" y1="534.8" x2="608.5" y2="534.8" stroke="#00b050" stroke-width="3.4"/><text x="665" y="542.0" font-size="17" font-weight="bold" text-anchor="end" font-family="Liberation Sans, sans-serif" fill="#00b050">20min</text><line x1="567" y1="558" x2="608.5" y2="558" stroke="#7030a0" stroke-width="3.4"/><text x="665" y="565.2" font-size="17" font-weight="bold" text-anchor="end" font-family="Liberation Sans, sans-serif" fill="#7030a0">25min</text><path d="M88.80,681.63 L89.70,681.15 L90.60,681.03 L91.50,680.34 L92.40,680.90 L93.30,680.87 L94.20,680.96 L95.10,680.77 L96.00,680.97 L96.90,680.81 L97.80,680.51 L98.70,681.27 L99.60,681.27 L100.50,681.55 L101.40,680.96 L102.30,680.80 L103.20,680.74 L104.10,680.38 L105.00,681.26 L105.90,680.52 L106.80,680.48 L107.70,680.81 L108.60,681.40 L109.50,680.95 L110.40,680.49 L111.30,680.59 L112.20,681.05 L113.10,680.76 L114.00,680.53 L114.90,680.71 L115.80,681.04 L116.70,681.45 L117.60,680.31 L118.50,680.51 L119.40,680.44 L120.30,679.86 L121.20,680.36 L122.10,680.31 L123.00,681.05 L123.90,680.59 L124.80,680.05 L125.70,680.83 L126.60,680.46 L127.50,679.95 L128.40,680.34 L129.30,680.32 L130.20,680.20 L131.10,680.50 L132.00,679.68 L132.90,680.35 L133.80,680.78 L134.70,680.70 L135.60,680.77 L136.50,680.75 L137.40,680.86 L138.30,679.93 L139.20,680.59 L140.10,679.62 L141.00,680.04 L141.90,679.56 L142.80,680.57 L143.70,680.64 L144.60,680.08 L145.50,680.75 L146.40,679.87 L147.30,680.13 L148.20,680.11 L149.10,679.65 L150.00,680.15 L150.90,680.65 L151.80,679.59 L152.70,680.24 L153.60,679.84 L154.50,680.49 L155.40,680.01 L156.30,680.05 L157.20,680.01 L158.10,679.84 L159.00,679.23 L159.90,680.17 L160.80,679.17 L161.70,679.69 L162.60,679.78 L163.50,679.23 L164.40,679.52 L165.30,679.83 L166.20,679.36 L167.10,679.01 L168.00,678.24 L168.90,678.86 L169.80,678.93 L170.70,678.89 L171.60,678.67 L172.50,679.07 L173.40,678.67 L174.30,678.76 L175.20,678.96 L176.10,678.35 L177.00,678.46 L177.90,679.24 L178.80,678.70 L179.70,677.86 L180.60,678.20 L181.50,678.33 L182.40,678.47 L183.30,678.00 L184.20,677.66 L185.10,677.49 L186.00,677.87 L186.90,677.65 L187.80,677.26 L188.70,677.26 L189.60,677.07 L190.50,677.36 L191.40,676.75 L192.30,677.05 L193.20,677.06 L194.10,676.81 L195.00,676.22 L195.90,676.86 L196.80,676.03 L197.70,676.29 L198.60,675.74 L199.50,675.26 L200.40,675.82 L201.30,675.69 L202.20,675.39 L203.10,675.32 L204.00,674.79 L204.90,674.54 L205.80,674.50 L206.70,674.97 L207.60,674.31 L208.50,673.55 L209.40,673.62 L210.30,672.91 L211.20,672.53 L212.10,672.55 L213.00,671.56 L213.90,670.59 L214.80,670.20 L215.70,669.71 L216.60,668.70 L217.50,667.91 L218.40,665.82 L219.30,664.47 L220.20,662.25 L221.10,659.92 L222.00,658.18 L222.90,655.69 L223.80,652.84 L224.70,651.48 L225.60,649.32 L226.50,649.19 L227.40,648.77 L228.30,648.61 L229.20,647.95 L230.10,647.97 L231.00,647.69 L231.90,647.83 L232.80,646.96 L233.70,647.05 L234.60,646.78 L235.50,646.35 L236.40,647.83 L237.30,647.25 L238.20,647.37 L239.10,649.18 L240.00,649.23 L240.90,650.71 L241.80,652.06 L242.70,653.20 L243.60,655.20 L244.50,657.10 L245.40,659.19 L246.30,660.74 L247.20,662.95 L248.10,665.25 L249.00,667.46 L249.90,669.09 L250.80,671.06 L251.70,671.93 L252.60,672.45 L253.50,673.45 L254.40,673.56 L255.30,674.62 L256.20,675.17 L257.10,676.06 L258.00,676.48 L258.90,676.25 L259.80,676.42 L260.70,676.24 L261.60,676.87 L262.50,677.10 L263.40,677.23 L264.30,676.83 L265.20,677.79 L266.10,677.49 L267.00,677.00 L267.90,676.80 L268.80,676.81 L269.70,676.91 L270.60,676.77 L271.50,676.86 L272.40,676.81 L273.30,676.77 L274.20,676.39 L275.10,675.58 L276.00,675.35 L276.90,674.66 L277.80,674.14 L278.70,674.49 L279.60,673.07 L280.50,673.28 L281.40,671.73 L282.30,671.15 L283.20,670.59 L284.10,669.28 L285.00,668.31 L285.90,666.79 L286.80,665.26 L287.70,663.79 L288.60,661.93 L289.50,660.97 L290.40,658.38 L291.30,656.81 L292.20,652.85 L293.10,651.30 L294.00,648.99 L294.90,646.29 L295.80,644.48 L296.70,641.91 L297.60,639.15 L298.50,637.03 L299.40,635.70 L300.30,632.95 L301.20,631.52 L302.10,629.96 L303.00,628.93 L303.90,627.32 L304.80,626.78 L305.70,627.04 L306.60,626.19 L307.50,625.91 L308.40,625.96 L309.30,626.14 L310.20,625.63 L311.10,626.13 L312.00,626.01 L312.90,626.57 L313.80,628.46 L314.70,628.65 L315.60,630.96 L316.50,632.95 L317.40,634.60 L318.30,637.18 L319.20,639.46 L320.10,641.91 L321.00,645.49 L321.90,647.29 L322.80,649.64 L323.70,652.66 L324.60,654.50 L325.50,657.05 L326.40,658.97 L327.30,661.48 L328.20,662.37 L329.10,664.91 L330.00,666.23 L330.90,667.02 L331.80,668.85 L332.70,669.14 L333.60,670.91 L334.50,671.35 L335.40,672.16 L336.30,672.63 L337.20,673.53 L338.10,673.11 L339.00,674.28 L339.90,674.49 L340.80,675.24 L341.70,675.55 L342.60,676.18 L343.50,676.04 L344.40,677.33 L345.30,677.82 L346.20,677.23 L347.10,677.56 L348.00,677.90 L348.90,678.44 L349.80,678.83 L350.70,677.89 L351.60,678.23 L352.50,678.20 L353.40,678.31 L354.30,678.25 L355.20,679.07 L356.10,678.64 L357.00,679.68 L357.90,679.56 L358.80,678.97 L359.70,679.04 L360.60,679.25 L361.50,680.01 L362.40,679.26 L363.30,679.06 L364.20,679.58 L365.10,679.73 L366.00,679.37 L366.90,680.16 L367.80,679.68 L368.70,679.75 L369.60,679.28 L370.50,679.56 L371.40,679.51 L372.30,678.77 L373.20,679.65 L374.10,678.91 L375.00,679.52 L375.90,679.00 L376.80,680.21 L377.70,679.61 L378.60,679.78 L379.50,679.79 L380.40,678.99 L381.30,678.63 L382.20,679.30 L383.10,679.71 L384.00,679.41 L384.90,679.64 L385.80,679.67 L386.70,678.80 L387.60,679.41 L388.50,679.97 L389.40,679.06 L390.30,678.53 L391.20,679.14 L392.10,679.04 L393.00,679.32 L393.90,678.84 L394.80,679.16 L395.70,678.33 L396.60,679.39 L397.50,679.62 L398.40,679.50 L399.30,678.49 L400.20,679.11 L401.10,677.93 L402.00,679.04 L402.90,678.89 L403.80,678.54 L404.70,678.98 L405.60,678.87 L406.50,679.12 L407.40,678.80 L408.30,678.80 L409.20,678.00 L410.10,678.24 L411.00,678.44 L411.90,678.67 L412.80,678.52 L413.70,679.00 L414.60,678.13 L415.50,678.30 L416.40,678.42 L417.30,678.21 L418.20,678.41 L419.10,677.98 L420.00,678.63 L420.90,677.97 L421.80,678.41 L422.70,677.96 L423.60,678.43 L424.50,677.36 L425.40,677.98 L426.30,677.58 L427.20,677.76 L428.10,678.03 L429.00,677.15 L429.90,677.02 L430.80,677.07 L431.70,677.45 L432.60,676.63 L433.50,677.26 L434.40,676.71 L435.30,676.69 L436.20,676.89 L437.10,677.09 L438.00,676.66 L438.90,676.64 L439.80,676.73 L440.70,676.57 L441.60,675.66 L442.50,676.37" fill="none" stroke="#000" stroke-width="1.3" stroke-linejoin="round"/><path d="M88.80,679.49 L89.70,679.84 L90.60,680.17 L91.50,679.69 L92.40,679.48 L93.30,679.11 L94.20,679.48 L95.10,679.71 L96.00,679.88 L96.90,679.12 L97.80,679.51 L98.70,679.70 L99.60,680.06 L100.50,679.49 L101.40,679.21 L102.30,679.14 L103.20,679.25 L104.10,679.14 L105.00,679.65 L105.90,679.72 L106.80,679.59 L107.70,679.74 L108.60,679.15 L109.50,679.43 L110.40,679.15 L111.30,679.28 L112.20,679.68 L113.10,679.22 L114.00,678.57 L114.90,679.11 L115.80,678.94 L116.70,678.64 L117.60,678.87 L118.50,679.47 L119.40,679.70 L120.30,678.92 L121.20,679.42 L122.10,679.46 L123.00,678.62 L123.90,678.99 L124.80,678.97 L125.70,679.02 L126.60,678.38 L127.50,678.79 L128.40,679.26 L129.30,679.31 L130.20,679.48 L131.10,678.70 L132.00,679.44 L132.90,678.99 L133.80,678.26 L134.70,678.97 L135.60,678.56 L136.50,678.83 L137.40,678.58 L138.30,679.01 L139.20,678.65 L140.10,678.43 L141.00,678.84 L141.90,678.56 L142.80,678.29 L143.70,678.85 L144.60,678.23 L145.50,678.11 L146.40,678.11 L147.30,677.76 L148.20,678.04 L149.10,678.85 L150.00,677.84 L150.90,678.13 L151.80,677.70 L152.70,677.84 L153.60,678.55 L154.50,678.29 L155.40,677.73 L156.30,677.90 L157.20,677.57 L158.10,677.54 L159.00,677.44 L159.90,677.38 L160.80,677.74 L161.70,677.75 L162.60,677.62 L163.50,677.30 L164.40,676.78 L165.30,677.13 L166.20,676.71 L167.10,677.23 L168.00,676.99 L168.90,676.93 L169.80,676.42 L170.70,675.78 L171.60,676.61 L172.50,676.57 L173.40,675.48 L174.30,675.91 L175.20,676.14 L176.10,675.20 L177.00,676.06 L177.90,675.18 L178.80,674.79 L179.70,675.52 L180.60,675.01 L181.50,674.55 L182.40,674.95 L183.30,673.83 L184.20,675.02 L185.10,673.97 L186.00,674.23 L186.90,673.86 L187.80,674.02 L188.70,674.04 L189.60,673.30 L190.50,673.73 L191.40,673.21 L192.30,672.92 L193.20,672.94 L194.10,672.51 L195.00,672.42 L195.90,672.87 L196.80,672.32 L197.70,672.59 L198.60,672.16 L199.50,671.47 L200.40,670.97 L201.30,671.18 L202.20,671.29 L203.10,670.95 L204.00,670.38 L204.90,670.69 L205.80,669.33 L206.70,668.91 L207.60,668.69 L208.50,668.71 L209.40,667.48 L210.30,666.44 L211.20,666.44 L212.10,665.82 L213.00,665.07 L213.90,663.54 L214.80,662.13 L215.70,660.97 L216.60,659.40 L217.50,657.82 L218.40,655.73 L219.30,652.25 L220.20,649.35 L221.10,646.46 L222.00,644.21 L222.90,643.00 L223.80,641.81 L224.70,640.75 L225.60,640.29 L226.50,638.97 L227.40,637.82 L228.30,636.91 L229.20,636.65 L230.10,636.44 L231.00,635.98 L231.90,636.75 L232.80,636.54 L233.70,636.40 L234.60,636.45 L235.50,636.54 L236.40,637.28 L237.30,639.42 L238.20,639.74 L239.10,642.49 L240.00,644.71 L240.90,646.79 L241.80,648.95 L242.70,651.66 L243.60,653.41 L244.50,656.28 L245.40,658.72 L246.30,659.97 L247.20,662.09 L248.10,664.32 L249.00,666.46 L249.90,668.42 L250.80,669.80 L251.70,670.48 L252.60,671.06 L253.50,672.18 L254.40,672.80 L255.30,672.74 L256.20,673.49 L257.10,673.84 L258.00,674.27 L258.90,673.68 L259.80,674.34 L260.70,673.83 L261.60,674.17 L262.50,674.34 L263.40,674.91 L264.30,675.52 L265.20,674.40 L266.10,674.40 L267.00,674.49 L267.90,673.55 L268.80,674.18 L269.70,673.35 L270.60,674.21 L271.50,673.97 L272.40,673.40 L273.30,672.65 L274.20,673.16 L275.10,672.28 L276.00,671.80 L276.90,671.52 L277.80,670.23 L278.70,670.43 L279.60,670.01 L280.50,669.08 L281.40,668.24 L282.30,667.01 L283.20,666.63 L284.10,665.44 L285.00,664.07 L285.90,662.30 L286.80,661.04 L287.70,659.28 L288.60,657.02 L289.50,655.11 L290.40,652.98 L291.30,650.59 L292.20,647.52 L293.10,644.72 L294.00,641.94 L294.90,639.35 L295.80,636.81 L296.70,634.19 L297.60,631.01 L298.50,628.50 L299.40,625.40 L300.30,623.67 L301.20,620.92 L302.10,619.43 L303.00,617.53 L303.90,616.22 L304.80,614.76 L305.70,614.46 L306.60,613.14 L307.50,612.40 L308.40,611.91 L309.30,612.19 L310.20,613.20 L311.10,614.45 L312.00,614.38 L312.90,615.68 L313.80,617.20 L314.70,618.49 L315.60,619.78 L316.50,622.30 L317.40,625.38 L318.30,628.22 L319.20,632.57 L320.10,636.22 L321.00,639.55 L321.90,642.37 L322.80,646.57 L323.70,649.21 L324.60,651.91 L325.50,655.38 L326.40,656.98 L327.30,659.74 L328.20,660.86 L329.10,663.24 L330.00,664.17 L330.90,665.90 L331.80,666.74 L332.70,667.52 L333.60,668.20 L334.50,669.30 L335.40,668.96 L336.30,670.36 L337.20,670.90 L338.10,671.45 L339.00,671.99 L339.90,673.41 L340.80,672.56 L341.70,673.18 L342.60,673.30 L343.50,674.14 L344.40,673.20 L345.30,674.79 L346.20,674.23 L347.10,673.92 L348.00,674.56 L348.90,675.07 L349.80,675.37 L350.70,675.44 L351.60,675.89 L352.50,675.74 L353.40,675.88 L354.30,675.29 L355.20,676.34 L356.10,676.65 L357.00,676.27 L357.90,675.87 L358.80,676.16 L359.70,677.30 L360.60,676.58 L361.50,676.63 L362.40,676.62 L363.30,677.18 L364.20,676.75 L365.10,676.66 L366.00,676.43 L366.90,676.92 L367.80,677.30 L368.70,676.89 L369.60,677.24 L370.50,676.98 L371.40,676.96 L372.30,676.95 L373.20,676.89 L374.10,677.22 L375.00,677.01 L375.90,676.62 L376.80,676.84 L377.70,676.75 L378.60,676.92 L379.50,676.79 L380.40,676.84 L381.30,676.15 L382.20,676.78 L383.10,677.07 L384.00,676.11 L384.90,677.11 L385.80,676.63 L386.70,676.42 L387.60,675.82 L388.50,676.80 L389.40,676.05 L390.30,676.18 L391.20,676.51 L392.10,675.93 L393.00,675.91 L393.90,675.81 L394.80,676.14 L395.70,676.35 L396.60,676.25 L397.50,676.22 L398.40,675.92 L399.30,676.05 L400.20,675.73 L401.10,676.63 L402.00,675.96 L402.90,675.17 L403.80,675.44 L404.70,676.33 L405.60,675.25 L406.50,675.53 L407.40,675.78 L408.30,675.21 L409.20,675.92 L410.10,676.08 L411.00,675.16 L411.90,675.79 L412.80,675.03 L413.70,674.94 L414.60,675.32 L415.50,675.26 L416.40,674.91 L417.30,675.35 L418.20,674.48 L419.10,674.63 L420.00,674.49 L420.90,675.07 L421.80,675.03 L422.70,674.91 L423.60,674.16 L424.50,674.59 L425.40,674.64 L426.30,673.84 L427.20,674.05 L428.10,674.49 L429.00,674.44 L429.90,674.21 L430.80,674.24 L431.70,674.09 L432.60,673.95 L433.50,673.78 L434.40,673.44 L435.30,673.58 L436.20,673.45 L437.10,674.32 L438.00,673.52 L438.90,673.35 L439.80,673.19 L440.70,673.15 L441.60,673.01 L442.50,673.21" fill="none" stroke="#00d000" stroke-width="1.3" stroke-linejoin="round"/><path d="M88.80,678.81 L89.70,679.10 L90.60,678.57 L91.50,678.93 L92.40,679.12 L93.30,678.40 L94.20,678.86 L95.10,678.88 L96.00,678.67 L96.90,678.61 L97.80,678.13 L98.70,679.17 L99.60,678.44 L100.50,678.32 L101.40,678.98 L102.30,678.10 L103.20,679.06 L104.10,678.87 L105.00,678.91 L105.90,678.63 L106.80,678.25 L107.70,678.01 L108.60,679.16 L109.50,678.47 L110.40,678.44 L111.30,679.16 L112.20,678.37 L113.10,678.49 L114.00,678.47 L114.90,678.49 L115.80,678.16 L116.70,678.30 L117.60,678.93 L118.50,678.73 L119.40,677.40 L120.30,677.73 L121.20,678.51 L122.10,678.33 L123.00,678.22 L123.90,678.69 L124.80,677.68 L125.70,678.70 L126.60,678.30 L127.50,678.42 L128.40,678.29 L129.30,678.47 L130.20,678.06 L131.10,677.93 L132.00,678.36 L132.90,678.12 L133.80,677.59 L134.70,678.47 L135.60,678.39 L136.50,678.44 L137.40,677.93 L138.30,677.99 L139.20,677.70 L140.10,677.46 L141.00,677.79 L141.90,677.79 L142.80,677.46 L143.70,678.30 L144.60,677.06 L145.50,677.30 L146.40,677.31 L147.30,677.96 L148.20,677.38 L149.10,677.32 L150.00,677.08 L150.90,677.09 L151.80,676.86 L152.70,677.63 L153.60,677.44 L154.50,677.53 L155.40,676.91 L156.30,677.98 L157.20,676.71 L158.10,676.29 L159.00,676.84 L159.90,676.91 L160.80,677.04 L161.70,676.32 L162.60,676.78 L163.50,677.06 L164.40,676.04 L165.30,675.95 L166.20,675.48 L167.10,676.02 L168.00,676.09 L168.90,675.91 L169.80,675.78 L170.70,675.83 L171.60,675.22 L172.50,675.35 L173.40,674.53 L174.30,674.42 L175.20,674.63 L176.10,674.10 L177.00,674.43 L177.90,674.56 L178.80,674.07 L179.70,673.53 L180.60,673.38 L181.50,673.99 L182.40,673.09 L183.30,673.27 L184.20,673.01 L185.10,672.99 L186.00,673.22 L186.90,672.51 L187.80,672.08 L188.70,672.94 L189.60,672.37 L190.50,672.41 L191.40,672.00 L192.30,672.14 L193.20,672.15 L194.10,672.04 L195.00,671.30 L195.90,671.11 L196.80,671.20 L197.70,670.96 L198.60,670.90 L199.50,670.26 L200.40,669.50 L201.30,670.26 L202.20,670.16 L203.10,669.86 L204.00,669.93 L204.90,669.32 L205.80,668.48 L206.70,668.36 L207.60,667.27 L208.50,667.04 L209.40,666.11 L210.30,665.68 L211.20,665.09 L212.10,664.45 L213.00,663.16 L213.90,662.78 L214.80,660.89 L215.70,660.66 L216.60,659.51 L217.50,658.37 L218.40,656.13 L219.30,653.94 L220.20,651.56 L221.10,650.75 L222.00,647.93 L222.90,647.28 L223.80,644.76 L224.70,644.35 L225.60,643.71 L226.50,643.01 L227.40,642.37 L228.30,641.67 L229.20,641.27 L230.10,641.73 L231.00,641.33 L231.90,640.95 L232.80,640.95 L233.70,640.51 L234.60,641.26 L235.50,641.48 L236.40,641.00 L237.30,641.96 L238.20,643.34 L239.10,644.03 L240.00,646.41 L240.90,647.97 L241.80,649.29 L242.70,651.86 L243.60,654.37 L244.50,655.57 L245.40,658.32 L246.30,660.11 L247.20,662.07 L248.10,664.24 L249.00,665.64 L249.90,667.14 L250.80,668.73 L251.70,670.32 L252.60,671.20 L253.50,671.53 L254.40,671.95 L255.30,672.35 L256.20,673.07 L257.10,672.98 L258.00,672.66 L258.90,672.92 L259.80,673.53 L260.70,672.98 L261.60,673.09 L262.50,673.25 L263.40,672.88 L264.30,673.53 L265.20,672.38 L266.10,673.56 L267.00,672.78 L267.90,672.36 L268.80,672.76 L269.70,671.92 L270.60,672.53 L271.50,672.39 L272.40,671.66 L273.30,671.41 L274.20,671.52 L275.10,670.56 L276.00,670.38 L276.90,670.04 L277.80,669.98 L278.70,668.71 L279.60,668.28 L280.50,667.98 L281.40,665.92 L282.30,665.88 L283.20,664.37 L284.10,663.37 L285.00,663.38 L285.90,661.20 L286.80,659.89 L287.70,657.42 L288.60,655.80 L289.50,653.46 L290.40,651.26 L291.30,649.13 L292.20,646.81 L293.10,644.89 L294.00,641.84 L294.90,639.59 L295.80,636.96 L296.70,634.71 L297.60,631.86 L298.50,630.40 L299.40,627.62 L300.30,625.84 L301.20,624.15 L302.10,623.26 L303.00,621.94 L303.90,620.69 L304.80,619.82 L305.70,619.16 L306.60,618.84 L307.50,618.51 L308.40,618.61 L309.30,618.78 L310.20,618.61 L311.10,618.22 L312.00,619.79 L312.90,620.78 L313.80,621.01 L314.70,622.30 L315.60,623.14 L316.50,625.69 L317.40,627.22 L318.30,631.00 L319.20,632.52 L320.10,636.33 L321.00,639.51 L321.90,642.18 L322.80,645.12 L323.70,648.64 L324.60,651.55 L325.50,654.50 L326.40,656.97 L327.30,658.80 L328.20,660.73 L329.10,662.68 L330.00,663.61 L330.90,664.89 L331.80,665.49 L332.70,666.92 L333.60,666.92 L334.50,668.40 L335.40,667.64 L336.30,668.96 L337.20,669.24 L338.10,670.62 L339.00,670.78 L339.90,670.62 L340.80,671.26 L341.70,672.28 L342.60,672.13 L343.50,672.66 L344.40,672.23 L345.30,672.51 L346.20,673.49 L347.10,674.34 L348.00,673.55 L348.90,674.14 L349.80,673.78 L350.70,674.70 L351.60,674.26 L352.50,674.42 L353.40,674.06 L354.30,674.72 L355.20,675.07 L356.10,675.62 L357.00,674.86 L357.90,675.73 L358.80,675.37 L359.70,675.49 L360.60,675.34 L361.50,675.14 L362.40,675.36 L363.30,676.39 L364.20,675.42 L365.10,675.69 L366.00,676.22 L366.90,675.09 L367.80,675.98 L368.70,675.64 L369.60,675.87 L370.50,676.09 L371.40,675.72 L372.30,675.69 L373.20,675.99 L374.10,675.94 L375.00,675.44 L375.90,675.60 L376.80,675.17 L377.70,676.07 L378.60,675.17 L379.50,675.63 L380.40,676.14 L381.30,675.78 L382.20,675.36 L383.10,675.18 L384.00,675.18 L384.90,675.68 L385.80,675.44 L386.70,675.29 L387.60,676.16 L388.50,674.92 L389.40,675.00 L390.30,675.00 L391.20,675.17 L392.10,675.16 L393.00,674.92 L393.90,675.23 L394.80,675.12 L395.70,674.79 L396.60,673.99 L397.50,675.09 L398.40,674.43 L399.30,674.50 L400.20,674.63 L401.10,674.21 L402.00,674.31 L402.90,674.57 L403.80,674.38 L404.70,674.57 L405.60,674.11 L406.50,674.28 L407.40,673.93 L408.30,674.15 L409.20,674.30 L410.10,674.06 L411.00,673.59 L411.90,673.97 L412.80,674.03 L413.70,674.32 L414.60,673.85 L415.50,673.66 L416.40,673.33 L417.30,674.37 L418.20,673.28 L419.10,673.15 L420.00,673.43 L420.90,672.77 L421.80,673.72 L422.70,673.34 L423.60,673.38 L424.50,672.79 L425.40,672.88 L426.30,673.29 L427.20,673.23 L428.10,673.83 L429.00,673.15 L429.90,672.03 L430.80,672.64 L431.70,672.41 L432.60,672.84 L433.50,672.34 L434.40,672.47 L435.30,672.10 L436.20,672.35 L437.10,672.56 L438.00,671.75 L438.90,671.17 L439.80,671.43 L440.70,672.26 L441.60,671.70 L442.50,671.43" fill="none" stroke="#f00000" stroke-width="1.3" stroke-linejoin="round"/><path d="M88.80,677.84 L89.70,678.55 L90.60,678.28 L91.50,678.14 L92.40,677.98 L93.30,678.12 L94.20,678.05 L95.10,678.36 L96.00,678.60 L96.90,677.46 L97.80,677.63 L98.70,678.10 L99.60,678.15 L100.50,677.57 L101.40,677.89 L102.30,677.96 L103.20,677.93 L104.10,677.91 L105.00,678.03 L105.90,678.36 L106.80,678.29 L107.70,678.23 L108.60,678.10 L109.50,677.74 L110.40,677.81 L111.30,678.20 L112.20,677.98 L113.10,678.20 L114.00,678.00 L114.90,677.91 L115.80,678.02 L116.70,677.31 L117.60,677.77 L118.50,677.60 L119.40,678.07 L120.30,677.52 L121.20,677.81 L122.10,677.56 L123.00,677.85 L123.90,677.91 L124.80,677.55 L125.70,677.64 L126.60,677.63 L127.50,677.81 L128.40,677.40 L129.30,677.50 L130.20,677.30 L131.10,677.09 L132.00,677.45 L132.90,677.51 L133.80,677.04 L134.70,677.84 L135.60,677.00 L136.50,677.48 L137.40,677.32 L138.30,676.56 L139.20,677.11 L140.10,676.53 L141.00,677.00 L141.90,677.24 L142.80,677.61 L143.70,677.20 L144.60,676.35 L145.50,676.72 L146.40,677.33 L147.30,676.82 L148.20,677.34 L149.10,676.42 L150.00,676.44 L150.90,676.11 L151.80,676.41 L152.70,676.94 L153.60,676.13 L154.50,676.70 L155.40,676.52 L156.30,676.59 L157.20,676.17 L158.10,676.21 L159.00,676.88 L159.90,675.60 L160.80,676.20 L161.70,676.36 L162.60,675.86 L163.50,676.15 L164.40,674.38 L165.30,675.16 L166.20,674.70 L167.10,674.80 L168.00,674.73 L168.90,674.76 L169.80,674.11 L170.70,674.54 L171.60,673.49 L172.50,674.19 L173.40,673.58 L174.30,672.86 L175.20,672.67 L176.10,672.48 L177.00,672.58 L177.90,672.79 L178.80,673.04 L179.70,672.69 L180.60,671.79 L181.50,671.29 L182.40,671.84 L183.30,671.30 L184.20,671.59 L185.10,671.26 L186.00,672.25 L186.90,670.60 L187.80,671.17 L188.70,671.56 L189.60,670.61 L190.50,670.33 L191.40,671.04 L192.30,669.54 L193.20,669.52 L194.10,669.52 L195.00,669.91 L195.90,669.86 L196.80,669.35 L197.70,669.97 L198.60,668.92 L199.50,668.78 L200.40,668.45 L201.30,668.75 L202.20,668.08 L203.10,667.66 L204.00,668.07 L204.90,667.55 L205.80,666.98 L206.70,665.42 L207.60,664.58 L208.50,663.98 L209.40,663.24 L210.30,662.58 L211.20,662.06 L212.10,661.67 L213.00,660.17 L213.90,659.43 L214.80,657.81 L215.70,656.22 L216.60,654.60 L217.50,652.99 L218.40,650.66 L219.30,648.05 L220.20,645.80 L221.10,643.08 L222.00,641.39 L222.90,640.12 L223.80,639.77 L224.70,638.89 L225.60,637.71 L226.50,636.95 L227.40,636.14 L228.30,636.09 L229.20,635.23 L230.10,635.15 L231.00,635.09 L231.90,635.45 L232.80,635.77 L233.70,635.08 L234.60,636.08 L235.50,635.94 L236.40,636.65 L237.30,637.24 L238.20,638.61 L239.10,641.14 L240.00,643.49 L240.90,644.95 L241.80,648.03 L242.70,650.61 L243.60,653.27 L244.50,655.07 L245.40,657.44 L246.30,660.06 L247.20,662.34 L248.10,663.59 L249.00,665.73 L249.90,667.31 L250.80,669.01 L251.70,669.79 L252.60,670.42 L253.50,670.77 L254.40,671.39 L255.30,672.01 L256.20,671.86 L257.10,672.12 L258.00,671.75 L258.90,672.31 L259.80,671.01 L260.70,671.66 L261.60,672.07 L262.50,671.56 L263.40,672.38 L264.30,672.19 L265.20,671.70 L266.10,671.94 L267.00,671.24 L267.90,671.30 L268.80,671.31 L269.70,670.71 L270.60,671.44 L271.50,670.59 L272.40,670.88 L273.30,670.14 L274.20,669.92 L275.10,669.08 L276.00,668.85 L276.90,668.35 L277.80,668.07 L278.70,667.91 L279.60,666.59 L280.50,666.01 L281.40,665.40 L282.30,664.69 L283.20,663.37 L284.10,662.18 L285.00,660.68 L285.90,659.15 L286.80,657.28 L287.70,654.89 L288.60,652.92 L289.50,651.06 L290.40,648.36 L291.30,645.63 L292.20,643.47 L293.10,640.86 L294.00,638.12 L294.90,635.34 L295.80,632.13 L296.70,629.55 L297.60,626.92 L298.50,624.13 L299.40,620.69 L300.30,618.64 L301.20,616.44 L302.10,614.67 L303.00,612.88 L303.90,611.52 L304.80,609.50 L305.70,608.41 L306.60,606.93 L307.50,607.24 L308.40,607.62 L309.30,607.93 L310.20,607.72 L311.10,609.46 L312.00,610.90 L312.90,611.49 L313.80,612.04 L314.70,614.50 L315.60,615.39 L316.50,617.26 L317.40,620.96 L318.30,624.56 L319.20,628.85 L320.10,632.84 L321.00,635.94 L321.90,639.30 L322.80,643.48 L323.70,646.85 L324.60,650.78 L325.50,653.94 L326.40,656.02 L327.30,658.33 L328.20,659.99 L329.10,661.58 L330.00,662.96 L330.90,664.14 L331.80,664.98 L332.70,665.28 L333.60,666.69 L334.50,666.64 L335.40,668.53 L336.30,668.03 L337.20,668.78 L338.10,669.72 L339.00,669.59 L339.90,669.59 L340.80,669.90 L341.70,670.84 L342.60,671.21 L343.50,671.66 L344.40,671.75 L345.30,671.75 L346.20,672.34 L347.10,672.91 L348.00,672.33 L348.90,674.06 L349.80,672.83 L350.70,673.58 L351.60,673.96 L352.50,673.78 L353.40,673.73 L354.30,674.03 L355.20,674.39 L356.10,673.14 L357.00,674.36 L357.90,674.18 L358.80,674.19 L359.70,674.58 L360.60,674.69 L361.50,674.87 L362.40,674.55 L363.30,675.19 L364.20,674.08 L365.10,674.47 L366.00,674.38 L366.90,674.83 L367.80,674.61 L368.70,674.96 L369.60,674.49 L370.50,675.20 L371.40,674.99 L372.30,674.53 L373.20,674.09 L374.10,674.25 L375.00,674.09 L375.90,675.04 L376.80,674.84 L377.70,674.10 L378.60,675.18 L379.50,674.38 L380.40,673.66 L381.30,674.79 L382.20,674.83 L383.10,674.34 L384.00,673.98 L384.90,674.69 L385.80,674.04 L386.70,674.16 L387.60,674.29 L388.50,674.19 L389.40,673.88 L390.30,673.63 L391.20,674.21 L392.10,673.13 L393.00,673.97 L393.90,673.90 L394.80,673.95 L395.70,673.59 L396.60,673.75 L397.50,673.90 L398.40,673.21 L399.30,673.55 L400.20,673.62 L401.10,673.00 L402.00,673.07 L402.90,673.90 L403.80,673.66 L404.70,672.99 L405.60,673.45 L406.50,673.29 L407.40,673.58 L408.30,673.44 L409.20,672.13 L410.10,672.82 L411.00,673.34 L411.90,673.37 L412.80,672.52 L413.70,672.24 L414.60,672.70 L415.50,672.32 L416.40,672.48 L417.30,672.00 L418.20,672.61 L419.10,672.48 L420.00,672.37 L420.90,671.75 L421.80,671.47 L422.70,671.54 L423.60,672.09 L424.50,671.21 L425.40,671.99 L426.30,672.31 L427.20,671.39 L428.10,671.46 L429.00,671.80 L429.90,671.69 L430.80,671.07 L431.70,671.14 L432.60,671.17 L433.50,670.95 L434.40,671.16 L435.30,670.98 L436.20,671.24 L437.10,670.10 L438.00,671.02 L438.90,670.81 L439.80,670.38 L440.70,670.49 L441.60,670.59 L442.50,670.26" fill="none" stroke="#7a1fe6" stroke-width="1.3" stroke-linejoin="round"/><path d="M563.50,687.76 L564.20,687.83 L564.90,687.68 L565.60,687.58 L566.30,687.64 L567.00,687.65 L567.70,687.78 L568.40,687.86 L569.10,687.77 L569.80,687.94 L570.50,687.70 L571.20,687.61 L571.90,687.58 L572.60,687.55 L573.30,687.62 L574.00,687.86 L574.70,687.42 L575.40,687.72 L576.10,687.62 L576.80,687.73 L577.50,687.52 L578.20,687.69 L578.90,687.49 L579.60,687.64 L580.30,687.24 L581.00,687.59 L581.70,687.61 L582.40,687.25 L583.10,687.60 L583.80,687.28 L584.50,687.59 L585.20,687.42 L585.90,687.51 L586.60,687.44 L587.30,687.19 L588.00,687.58 L588.70,687.51 L589.40,687.16 L590.10,687.38 L590.80,687.34 L591.50,687.15 L592.20,687.08 L592.90,687.41 L593.60,687.14 L594.30,687.31 L595.00,687.44 L595.70,687.21 L596.40,686.99 L597.10,687.25 L597.80,686.87 L598.50,686.92 L599.20,687.47 L599.90,686.90 L600.60,687.05 L601.30,686.81 L602.00,686.93 L602.70,686.96 L603.40,686.51 L604.10,686.79 L604.80,686.96 L605.50,686.97 L606.20,686.86 L606.90,686.65 L607.60,686.83 L608.30,686.67 L609.00,686.60 L609.70,686.69 L610.40,687.01 L611.10,686.50 L611.80,686.77 L612.50,686.62 L613.20,686.33 L613.90,686.39 L614.60,686.47 L615.30,686.40 L616.00,686.48 L616.70,686.26 L617.40,686.23 L618.10,686.50 L618.80,686.31 L619.50,686.16 L620.20,686.25 L620.90,686.49 L621.60,686.10 L622.30,685.92 L623.00,686.25 L623.70,686.37 L624.40,686.23 L625.10,685.80 L625.80,685.65 L626.50,686.11 L627.20,685.86 L627.90,685.92 L628.60,685.77 L629.30,686.01 L630.00,685.72 L630.70,685.62 L631.40,685.65 L632.10,685.40 L632.80,685.56 L633.50,685.47 L634.20,685.12 L634.90,685.22 L635.60,685.15 L636.30,685.05 L637.00,685.29 L637.70,685.35 L638.40,685.18 L639.10,684.85 L639.80,684.75 L640.50,685.08 L641.20,684.85 L641.90,684.82 L642.60,684.57 L643.30,684.38 L644.00,684.94 L644.70,684.43 L645.40,684.41 L646.10,684.18 L646.80,684.48 L647.50,684.10 L648.20,684.03 L648.90,683.95 L649.60,683.84 L650.30,683.94 L651.00,683.34 L651.70,683.58 L652.40,683.27 L653.10,683.18 L653.80,683.02 L654.50,683.04 L655.20,682.65 L655.90,682.62 L656.60,682.65 L657.30,682.33 L658.00,682.20 L658.70,682.18 L659.40,681.97 L660.10,681.74 L660.80,681.62 L661.50,681.29 L662.20,681.36 L662.90,680.86 L663.60,680.58 L664.30,680.66 L665.00,680.17 L665.70,680.00 L666.40,679.87 L667.10,679.76 L667.80,679.33 L668.50,679.07 L669.20,678.80 L669.90,678.65 L670.60,678.24 L671.30,678.06 L672.00,677.94 L672.70,677.40 L673.40,677.07 L674.10,676.68 L674.80,676.39 L675.50,676.00 L676.20,675.69 L676.90,675.41 L677.60,675.17 L678.30,674.80 L679.00,674.25 L679.70,673.93 L680.40,673.23 L681.10,673.27 L681.80,672.85 L682.50,671.97 L683.20,671.56 L683.90,670.99 L684.60,670.57 L685.30,669.83 L686.00,669.17 L686.70,668.98 L687.40,668.15 L688.10,667.82 L688.80,667.09 L689.50,666.57 L690.20,666.29 L690.90,665.85 L691.60,665.05 L692.30,664.48 L693.00,664.07 L693.70,663.44 L694.40,662.74 L695.10,662.47 L695.80,661.60 L696.50,661.46 L697.20,660.77 L697.90,660.32 L698.60,659.51 L699.30,659.06 L700.00,658.70 L700.70,658.26 L701.40,657.63 L702.10,657.01 L702.80,656.25 L703.50,655.97 L704.20,655.39 L704.90,654.82 L705.60,654.57 L706.30,653.78 L707.00,653.71 L707.70,652.91 L708.40,652.48 L709.10,652.14 L709.80,651.51 L710.50,651.18 L711.20,650.82 L711.90,650.11 L712.60,649.81 L713.30,649.31 L714.00,649.06 L714.70,648.93 L715.40,648.37 L716.10,648.11 L716.80,647.93 L717.50,647.53 L718.20,647.58 L718.90,647.38 L719.60,647.28 L720.30,647.04 L721.00,647.14 L721.70,647.33 L722.40,647.30 L723.10,647.03 L723.80,647.04 L724.50,646.94 L725.20,646.83 L725.90,646.72 L726.60,647.29 L727.30,646.96 L728.00,647.27 L728.70,647.62 L729.40,647.52 L730.10,647.76 L730.80,648.05 L731.50,648.19 L732.20,648.52 L732.90,648.68 L733.60,649.14 L734.30,649.27 L735.00,649.24 L735.70,649.44 L736.40,649.78 L737.10,650.03 L737.80,650.27 L738.50,650.79 L739.20,650.84 L739.90,651.18 L740.60,651.60 L741.30,651.64 L742.00,652.39 L742.70,652.82 L743.40,653.37 L744.10,653.46 L744.80,654.00 L745.50,654.59 L746.20,654.99 L746.90,655.34 L747.60,656.20 L748.30,656.55 L749.00,657.16 L749.70,657.48 L750.40,658.30 L751.10,658.63 L751.80,659.09 L752.50,659.83 L753.20,660.37 L753.90,660.56 L754.60,661.32 L755.30,661.87 L756.00,662.11 L756.70,662.27 L757.40,662.97 L758.10,663.44 L758.80,663.52 L759.50,664.31 L760.20,664.41 L760.90,664.80 L761.60,665.36 L762.30,665.59 L763.00,666.11 L763.70,666.29 L764.40,666.70 L765.10,667.00 L765.80,667.38 L766.50,667.78 L767.20,668.10 L767.90,668.32 L768.60,668.84 L769.30,669.02 L770.00,669.53 L770.70,669.77 L771.40,669.98 L772.10,670.19 L772.80,670.62 L773.50,671.12 L774.20,671.25 L774.90,671.66 L775.60,671.81 L776.30,672.07 L777.00,672.32 L777.70,672.43 L778.40,673.07 L779.10,673.32 L779.80,673.61 L780.50,674.02 L781.20,674.05 L781.90,674.74 L782.60,674.55 L783.30,675.09 L784.00,675.16 L784.70,675.57 L785.40,676.06 L786.10,675.93 L786.80,676.44 L787.50,676.69 L788.20,676.96 L788.90,677.22 L789.60,677.54 L790.30,677.74 L791.00,677.95 L791.70,678.25 L792.40,678.44 L793.10,678.53 L793.80,678.57 L794.50,679.07 L795.20,679.09 L795.90,679.57 L796.60,679.41 L797.30,679.49 L798.00,680.01 L798.70,679.90 L799.40,679.95 L800.10,680.52 L800.80,680.29 L801.50,680.86 L802.20,680.68 L802.90,681.04 L803.60,681.17 L804.30,681.01 L805.00,681.43 L805.70,681.51 L806.40,681.74 L807.10,681.94 L807.80,682.23 L808.50,682.09 L809.20,682.24 L809.90,682.70 L810.60,682.61 L811.30,682.73 L812.00,682.50 L812.70,682.63 L813.40,682.86 L814.10,683.02 L814.80,683.22 L815.50,683.65 L816.20,683.14 L816.90,683.35 L817.60,683.58 L818.30,683.60 L819.00,683.79 L819.70,683.65 L820.40,683.62 L821.10,684.13 L821.80,683.94 L822.50,683.75 L823.20,683.93 L823.90,684.03 L824.60,683.87 L825.30,684.26 L826.00,684.21 L826.70,684.18 L827.40,684.18 L828.10,684.57 L828.80,684.35 L829.50,684.29 L830.20,684.14 L830.90,684.33 L831.60,684.63 L832.30,684.79 L833.00,684.43 L833.70,684.34 L834.40,684.69 L835.10,684.72 L835.80,684.89 L836.50,684.69 L837.20,684.85 L837.90,684.60 L838.60,684.73 L839.30,684.87 L840.00,684.93 L840.70,685.11 L841.40,685.26 L842.10,684.90 L842.80,685.41 L843.50,685.08 L844.20,685.17 L844.90,685.44 L845.60,684.95 L846.30,685.13 L847.00,685.26 L847.70,685.44 L848.40,685.63 L849.10,685.67 L849.80,685.40 L850.50,685.69 L851.20,685.55 L851.90,685.88 L852.60,685.65 L853.30,685.89 L854.00,685.61 L854.70,685.92 L855.40,685.63 L856.10,685.89 L856.80,685.67 L857.50,685.93 L858.20,685.87 L858.90,685.87 L859.60,686.09 L860.30,686.21 L861.00,686.14 L861.70,686.21 L862.40,686.30 L863.10,686.41 L863.80,686.42 L864.50,686.36 L865.20,686.63 L865.90,686.29 L866.60,686.52 L867.30,686.26 L868.00,686.82 L868.70,686.46 L869.40,686.55 L870.10,686.77 L870.80,686.57 L871.50,686.50 L872.20,686.38 L872.90,686.65 L873.60,687.03 L874.30,686.78 L875.00,687.04 L875.70,686.94 L876.40,686.78 L877.10,686.66 L877.80,686.87 L878.50,687.03 L879.20,686.93 L879.90,687.02 L880.60,687.11 L881.30,686.99 L882.00,686.86 L882.70,687.06 L883.40,687.22 L884.10,687.04 L884.80,687.03 L885.50,687.07 L886.20,687.21 L886.90,687.26 L887.60,687.29 L888.30,687.14 L889.00,687.36 L889.70,687.29 L890.40,687.27 L891.10,687.16 L891.80,687.30 L892.50,687.40 L893.20,687.54 L893.90,687.61 L894.60,687.58 L895.30,687.63 L896.00,687.45 L896.70,687.77 L897.40,687.80 L898.10,687.80 L898.80,687.65 L899.50,687.74 L900.20,687.71 L900.90,687.61 L901.60,687.78 L902.30,687.62 L903.00,687.61 L903.70,687.99 L904.40,688.01 L905.10,688.08 L905.80,687.91 L906.50,688.00 L907.20,688.10 L907.90,687.99 L908.60,687.76 L909.30,688.43 L910.00,688.30 L910.70,688.33 L911.40,688.18 L912.10,688.06 L912.80,688.22 L913.50,688.27 L914.20,688.05 L914.90,688.20 L915.60,688.38 L916.30,688.54 L917.00,688.43 L917.70,688.30 L918.40,688.19" fill="none" stroke="#000" stroke-width="1.5" stroke-linejoin="round"/><path d="M563.50,687.50 L564.20,687.20 L564.90,687.29 L565.60,687.17 L566.30,686.95 L567.00,687.47 L567.70,687.23 L568.40,687.30 L569.10,686.98 L569.80,687.08 L570.50,687.27 L571.20,686.99 L571.90,686.92 L572.60,686.84 L573.30,686.79 L574.00,687.09 L574.70,686.94 L575.40,686.65 L576.10,687.13 L576.80,687.07 L577.50,687.03 L578.20,686.55 L578.90,686.82 L579.60,686.97 L580.30,686.59 L581.00,686.60 L581.70,686.66 L582.40,686.36 L583.10,686.67 L583.80,686.75 L584.50,686.67 L585.20,686.77 L585.90,686.52 L586.60,686.47 L587.30,686.42 L588.00,686.31 L588.70,686.22 L589.40,686.23 L590.10,686.30 L590.80,686.20 L591.50,686.26 L592.20,686.22 L592.90,686.27 L593.60,686.06 L594.30,685.79 L595.00,685.92 L595.70,686.31 L596.40,686.10 L597.10,685.89 L597.80,685.89 L598.50,685.87 L599.20,685.77 L599.90,685.83 L600.60,685.87 L601.30,685.91 L602.00,685.63 L602.70,685.60 L603.40,685.56 L604.10,685.57 L604.80,685.68 L605.50,685.37 L606.20,685.77 L606.90,685.47 L607.60,685.51 L608.30,685.16 L609.00,685.19 L609.70,685.12 L610.40,685.16 L611.10,684.79 L611.80,685.12 L612.50,684.74 L613.20,685.00 L613.90,685.04 L614.60,684.82 L615.30,684.75 L616.00,684.69 L616.70,684.62 L617.40,684.64 L618.10,684.67 L618.80,684.57 L619.50,684.64 L620.20,684.36 L620.90,684.21 L621.60,684.15 L622.30,683.97 L623.00,684.02 L623.70,683.92 L624.40,684.21 L625.10,683.95 L625.80,684.07 L626.50,683.44 L627.20,683.69 L627.90,683.72 L628.60,683.54 L629.30,683.34 L630.00,683.35 L630.70,683.26 L631.40,683.18 L632.10,683.12 L632.80,683.13 L633.50,682.94 L634.20,682.86 L634.90,682.72 L635.60,682.70 L636.30,682.43 L637.00,682.53 L637.70,682.30 L638.40,682.37 L639.10,682.06 L639.80,682.04 L640.50,681.92 L641.20,681.68 L641.90,681.87 L642.60,681.64 L643.30,681.45 L644.00,681.49 L644.70,681.11 L645.40,681.00 L646.10,681.01 L646.80,681.05 L647.50,680.52 L648.20,680.58 L648.90,680.18 L649.60,679.85 L650.30,679.85 L651.00,679.77 L651.70,679.41 L652.40,679.25 L653.10,678.82 L653.80,678.43 L654.50,678.60 L655.20,678.13 L655.90,678.12 L656.60,677.82 L657.30,677.72 L658.00,677.60 L658.70,677.00 L659.40,677.00 L660.10,676.77 L660.80,676.75 L661.50,676.31 L662.20,675.93 L662.90,675.71 L663.60,675.81 L664.30,675.14 L665.00,675.01 L665.70,674.76 L666.40,674.27 L667.10,674.03 L667.80,673.57 L668.50,673.43 L669.20,673.36 L669.90,672.99 L670.60,672.36 L671.30,672.54 L672.00,671.80 L672.70,671.53 L673.40,671.57 L674.10,671.06 L674.80,670.64 L675.50,670.52 L676.20,669.93 L676.90,669.63 L677.60,669.12 L678.30,668.81 L679.00,668.43 L679.70,668.20 L680.40,667.54 L681.10,667.18 L681.80,666.46 L682.50,666.09 L683.20,666.01 L683.90,665.39 L684.60,664.92 L685.30,664.59 L686.00,663.96 L686.70,663.52 L687.40,662.96 L688.10,662.17 L688.80,662.03 L689.50,661.62 L690.20,661.01 L690.90,660.27 L691.60,659.70 L692.30,659.11 L693.00,658.64 L693.70,657.93 L694.40,657.03 L695.10,656.36 L695.80,655.63 L696.50,654.83 L697.20,654.06 L697.90,653.34 L698.60,652.19 L699.30,651.78 L700.00,650.80 L700.70,649.81 L701.40,649.05 L702.10,648.00 L702.80,647.28 L703.50,645.89 L704.20,644.97 L704.90,643.88 L705.60,642.54 L706.30,641.28 L707.00,640.30 L707.70,638.93 L708.40,637.58 L709.10,636.21 L709.80,635.20 L710.50,633.98 L711.20,632.29 L711.90,631.01 L712.60,629.62 L713.30,628.10 L714.00,626.32 L714.70,624.91 L715.40,623.32 L716.10,621.95 L716.80,619.94 L717.50,618.37 L718.20,616.61 L718.90,614.84 L719.60,612.86 L720.30,611.29 L721.00,609.68 L721.70,607.58 L722.40,605.77 L723.10,603.65 L723.80,601.74 L724.50,599.58 L725.20,597.33 L725.90,594.71 L726.60,591.86 L727.30,588.67 L728.00,585.47 L728.70,582.17 L729.40,579.41 L730.10,576.07 L730.80,573.40 L731.50,570.39 L732.20,567.62 L732.90,565.10 L733.60,562.30 L734.30,559.64 L735.00,556.69 L735.70,554.53 L736.40,551.71 L737.10,548.59 L737.80,545.85 L738.50,543.43 L739.20,541.21 L739.90,538.91 L740.60,537.15 L741.30,535.12 L742.00,533.75 L742.70,531.54 L743.40,529.86 L744.10,528.73 L744.80,527.22 L745.50,526.15 L746.20,525.41 L746.90,524.86 L747.60,524.10 L748.30,523.60 L749.00,522.97 L749.70,522.36 L750.40,522.08 L751.10,521.77 L751.80,521.67 L752.50,521.24 L753.20,521.01 L753.90,521.02 L754.60,521.14 L755.30,520.93 L756.00,521.51 L756.70,521.67 L757.40,522.23 L758.10,522.92 L758.80,523.60 L759.50,524.23 L760.20,524.90 L760.90,525.90 L761.60,526.74 L762.30,527.83 L763.00,528.92 L763.70,530.51 L764.40,531.72 L765.10,532.77 L765.80,534.09 L766.50,535.67 L767.20,537.16 L767.90,538.51 L768.60,540.34 L769.30,541.70 L770.00,543.62 L770.70,545.67 L771.40,547.47 L772.10,549.73 L772.80,551.95 L773.50,554.22 L774.20,556.34 L774.90,558.93 L775.60,561.36 L776.30,563.68 L777.00,566.05 L777.70,568.42 L778.40,570.61 L779.10,573.03 L779.80,575.73 L780.50,578.03 L781.20,580.30 L781.90,582.63 L782.60,585.14 L783.30,587.41 L784.00,589.43 L784.70,591.61 L785.40,593.56 L786.10,595.53 L786.80,597.77 L787.50,599.25 L788.20,601.46 L788.90,603.08 L789.60,604.98 L790.30,607.02 L791.00,608.48 L791.70,610.27 L792.40,611.93 L793.10,613.65 L793.80,615.38 L794.50,617.05 L795.20,618.28 L795.90,619.94 L796.60,621.01 L797.30,622.86 L798.00,623.81 L798.70,625.11 L799.40,626.49 L800.10,627.72 L800.80,628.91 L801.50,629.89 L802.20,631.43 L802.90,632.56 L803.60,633.52 L804.30,634.51 L805.00,635.79 L805.70,636.96 L806.40,637.57 L807.10,638.65 L807.80,639.79 L808.50,640.60 L809.20,641.59 L809.90,642.51 L810.60,643.50 L811.30,644.35 L812.00,645.21 L812.70,646.01 L813.40,646.58 L814.10,647.10 L814.80,648.26 L815.50,649.03 L816.20,649.76 L816.90,650.31 L817.60,651.39 L818.30,651.55 L819.00,652.58 L819.70,653.20 L820.40,653.88 L821.10,654.57 L821.80,655.04 L822.50,655.61 L823.20,656.09 L823.90,656.80 L824.60,657.29 L825.30,657.88 L826.00,658.12 L826.70,658.58 L827.40,659.32 L828.10,659.89 L828.80,660.08 L829.50,660.63 L830.20,661.20 L830.90,661.76 L831.60,662.22 L832.30,662.76 L833.00,663.03 L833.70,663.54 L834.40,664.08 L835.10,664.25 L835.80,665.01 L836.50,665.01 L837.20,665.45 L837.90,665.52 L838.60,666.13 L839.30,666.40 L840.00,666.71 L840.70,667.16 L841.40,667.27 L842.10,667.77 L842.80,667.75 L843.50,668.28 L844.20,668.85 L844.90,668.96 L845.60,669.32 L846.30,669.39 L847.00,669.62 L847.70,670.29 L848.40,670.52 L849.10,670.77 L849.80,670.91 L850.50,671.35 L851.20,671.38 L851.90,671.80 L852.60,672.05 L853.30,672.08 L854.00,672.66 L854.70,672.72 L855.40,673.06 L856.10,672.96 L856.80,673.23 L857.50,673.57 L858.20,673.93 L858.90,674.25 L859.60,674.35 L860.30,674.49 L861.00,674.80 L861.70,674.88 L862.40,675.14 L863.10,675.37 L863.80,675.40 L864.50,675.75 L865.20,675.66 L865.90,675.93 L866.60,676.32 L867.30,676.30 L868.00,676.63 L868.70,676.75 L869.40,676.84 L870.10,677.24 L870.80,677.24 L871.50,677.24 L872.20,677.39 L872.90,677.64 L873.60,677.55 L874.30,678.08 L875.00,678.05 L875.70,677.96 L876.40,678.21 L877.10,678.71 L877.80,678.68 L878.50,679.10 L879.20,678.93 L879.90,679.14 L880.60,679.50 L881.30,679.67 L882.00,679.36 L882.70,679.76 L883.40,679.62 L884.10,679.84 L884.80,679.79 L885.50,680.26 L886.20,680.16 L886.90,680.33 L887.60,680.85 L888.30,680.83 L889.00,680.80 L889.70,680.69 L890.40,681.12 L891.10,680.86 L891.80,681.19 L892.50,681.54 L893.20,681.68 L893.90,681.70 L894.60,681.91 L895.30,681.93 L896.00,681.90 L896.70,682.12 L897.40,682.48 L898.10,682.32 L898.80,682.48 L899.50,682.62 L900.20,682.43 L900.90,682.58 L901.60,682.59 L902.30,682.97 L903.00,682.95 L903.70,682.91 L904.40,682.99 L905.10,683.36 L905.80,683.46 L906.50,683.47 L907.20,683.49 L907.90,683.63 L908.60,683.63 L909.30,683.74 L910.00,683.69 L910.70,683.67 L911.40,683.76 L912.10,683.96 L912.80,684.22 L913.50,683.90 L914.20,683.91 L914.90,684.22 L915.60,684.26 L916.30,684.08 L917.00,684.13 L917.70,684.16 L918.40,684.32" fill="none" stroke="#f00000" stroke-width="1.5" stroke-linejoin="round"/><path d="M563.50,687.74 L564.20,687.18 L564.90,687.32 L565.60,687.19 L566.30,687.28 L567.00,687.31 L567.70,687.27 L568.40,687.07 L569.10,687.06 L569.80,687.33 L570.50,687.22 L571.20,687.19 L571.90,687.23 L572.60,687.02 L573.30,687.28 L574.00,686.97 L574.70,686.91 L575.40,686.90 L576.10,687.01 L576.80,687.39 L577.50,686.99 L578.20,687.00 L578.90,687.16 L579.60,686.85 L580.30,686.67 L581.00,686.76 L581.70,686.77 L582.40,686.56 L583.10,686.73 L583.80,686.76 L584.50,687.01 L585.20,686.80 L585.90,686.67 L586.60,686.55 L587.30,686.48 L588.00,686.29 L588.70,686.51 L589.40,686.16 L590.10,686.44 L590.80,686.67 L591.50,686.34 L592.20,686.43 L592.90,686.20 L593.60,686.02 L594.30,686.30 L595.00,686.19 L595.70,686.26 L596.40,686.18 L597.10,686.21 L597.80,686.02 L598.50,686.13 L599.20,686.17 L599.90,685.91 L600.60,685.90 L601.30,686.07 L602.00,685.95 L602.70,685.81 L603.40,685.57 L604.10,685.72 L604.80,685.94 L605.50,685.61 L606.20,685.61 L606.90,685.46 L607.60,685.53 L608.30,685.50 L609.00,685.50 L609.70,685.31 L610.40,685.19 L611.10,685.62 L611.80,685.28 L612.50,685.08 L613.20,685.13 L613.90,685.17 L614.60,685.21 L615.30,685.04 L616.00,684.89 L616.70,684.95 L617.40,684.62 L618.10,684.62 L618.80,684.88 L619.50,684.67 L620.20,684.57 L620.90,684.42 L621.60,684.28 L622.30,684.42 L623.00,684.32 L623.70,684.50 L624.40,684.05 L625.10,684.10 L625.80,683.98 L626.50,683.83 L627.20,684.15 L627.90,684.01 L628.60,683.75 L629.30,683.44 L630.00,683.61 L630.70,683.56 L631.40,683.32 L632.10,683.09 L632.80,683.50 L633.50,682.95 L634.20,683.22 L634.90,682.87 L635.60,682.82 L636.30,682.94 L637.00,682.53 L637.70,682.55 L638.40,682.50 L639.10,682.58 L639.80,682.46 L640.50,682.23 L641.20,681.92 L641.90,682.16 L642.60,681.80 L643.30,681.77 L644.00,681.32 L644.70,681.42 L645.40,681.37 L646.10,681.09 L646.80,681.07 L647.50,681.00 L648.20,680.87 L648.90,680.38 L649.60,680.06 L650.30,679.73 L651.00,679.86 L651.70,679.47 L652.40,679.58 L653.10,679.01 L653.80,679.27 L654.50,678.91 L655.20,678.46 L655.90,678.53 L656.60,678.36 L657.30,678.15 L658.00,677.85 L658.70,677.72 L659.40,677.49 L660.10,677.13 L660.80,676.96 L661.50,676.51 L662.20,676.57 L662.90,676.01 L663.60,675.92 L664.30,675.51 L665.00,675.55 L665.70,675.16 L666.40,674.71 L667.10,674.61 L667.80,674.25 L668.50,674.09 L669.20,673.69 L669.90,673.38 L670.60,673.04 L671.30,672.52 L672.00,672.51 L672.70,672.23 L673.40,671.64 L674.10,671.53 L674.80,671.29 L675.50,670.91 L676.20,670.62 L676.90,670.21 L677.60,669.65 L678.30,669.67 L679.00,668.98 L679.70,668.50 L680.40,668.41 L681.10,667.69 L681.80,667.51 L682.50,666.84 L683.20,666.70 L683.90,666.28 L684.60,665.57 L685.30,665.26 L686.00,664.81 L686.70,664.21 L687.40,663.81 L688.10,663.21 L688.80,662.61 L689.50,662.04 L690.20,661.68 L690.90,661.16 L691.60,660.63 L692.30,659.98 L693.00,659.40 L693.70,658.61 L694.40,658.26 L695.10,657.20 L695.80,656.74 L696.50,655.88 L697.20,655.12 L697.90,654.70 L698.60,653.69 L699.30,652.63 L700.00,652.02 L700.70,651.04 L701.40,650.49 L702.10,649.15 L702.80,648.29 L703.50,647.16 L704.20,646.08 L704.90,645.15 L705.60,644.06 L706.30,642.90 L707.00,641.49 L707.70,640.18 L708.40,639.09 L709.10,637.68 L709.80,636.67 L710.50,634.90 L711.20,633.80 L711.90,632.14 L712.60,630.72 L713.30,629.14 L714.00,627.66 L714.70,626.37 L715.40,624.60 L716.10,622.93 L716.80,621.27 L717.50,619.64 L718.20,618.02 L718.90,616.49 L719.60,614.65 L720.30,612.91 L721.00,611.14 L721.70,609.45 L722.40,607.35 L723.10,605.60 L723.80,603.37 L724.50,601.26 L725.20,599.27 L725.90,596.80 L726.60,593.92 L727.30,590.60 L728.00,587.46 L728.70,584.47 L729.40,581.32 L730.10,578.96 L730.80,576.84 L731.50,575.19 L732.20,573.26 L732.90,572.15 L733.60,570.21 L734.30,568.66 L735.00,567.27 L735.70,565.30 L736.40,563.63 L737.10,561.80 L737.80,560.00 L738.50,558.42 L739.20,556.20 L739.90,554.97 L740.60,553.15 L741.30,551.82 L742.00,550.43 L742.70,549.24 L743.40,548.42 L744.10,547.95 L744.80,546.89 L745.50,546.20 L746.20,545.45 L746.90,544.94 L747.60,544.29 L748.30,543.60 L749.00,543.09 L749.70,542.84 L750.40,542.27 L751.10,542.15 L751.80,542.02 L752.50,542.15 L753.20,542.25 L753.90,542.87 L754.60,543.07 L755.30,543.80 L756.00,543.99 L756.70,544.62 L757.40,545.09 L758.10,545.87 L758.80,546.49 L759.50,547.19 L760.20,548.37 L760.90,549.46 L761.60,550.87 L762.30,552.26 L763.00,554.01 L763.70,555.19 L764.40,556.54 L765.10,558.15 L765.80,559.31 L766.50,560.45 L767.20,561.82 L767.90,563.27 L768.60,564.61 L769.30,566.23 L770.00,567.60 L770.70,569.21 L771.40,571.20 L772.10,573.12 L772.80,574.92 L773.50,576.57 L774.20,578.66 L774.90,580.62 L775.60,583.10 L776.30,585.18 L777.00,587.57 L777.70,590.17 L778.40,592.46 L779.10,594.66 L779.80,596.79 L780.50,599.08 L781.20,600.99 L781.90,603.34 L782.60,604.81 L783.30,606.64 L784.00,608.22 L784.70,609.70 L785.40,611.42 L786.10,612.97 L786.80,614.41 L787.50,615.88 L788.20,617.37 L788.90,618.58 L789.60,620.07 L790.30,621.36 L791.00,622.63 L791.70,624.04 L792.40,624.96 L793.10,626.31 L793.80,627.69 L794.50,629.13 L795.20,630.15 L795.90,631.11 L796.60,632.55 L797.30,633.49 L798.00,634.48 L798.70,635.66 L799.40,637.00 L800.10,637.98 L800.80,638.83 L801.50,639.84 L802.20,641.12 L802.90,641.89 L803.60,642.99 L804.30,644.15 L805.00,644.87 L805.70,645.85 L806.40,646.92 L807.10,647.74 L807.80,648.85 L808.50,649.50 L809.20,650.41 L809.90,651.20 L810.60,651.78 L811.30,652.71 L812.00,653.46 L812.70,653.90 L813.40,654.47 L814.10,655.11 L814.80,655.93 L815.50,656.29 L816.20,656.77 L816.90,657.19 L817.60,657.88 L818.30,658.19 L819.00,659.01 L819.70,659.23 L820.40,659.63 L821.10,660.41 L821.80,660.76 L822.50,661.21 L823.20,661.43 L823.90,662.09 L824.60,662.44 L825.30,662.83 L826.00,663.33 L826.70,663.76 L827.40,663.99 L828.10,664.62 L828.80,664.86 L829.50,665.16 L830.20,665.66 L830.90,665.99 L831.60,666.56 L832.30,666.75 L833.00,667.07 L833.70,667.46 L834.40,667.93 L835.10,667.94 L835.80,668.33 L836.50,668.82 L837.20,669.25 L837.90,669.59 L838.60,669.76 L839.30,669.88 L840.00,670.09 L840.70,670.65 L841.40,670.89 L842.10,671.27 L842.80,671.65 L843.50,671.66 L844.20,672.25 L844.90,672.27 L845.60,672.57 L846.30,672.89 L847.00,672.85 L847.70,673.73 L848.40,673.61 L849.10,674.07 L849.80,674.07 L850.50,674.18 L851.20,674.51 L851.90,674.75 L852.60,674.88 L853.30,675.03 L854.00,675.74 L854.70,675.76 L855.40,676.11 L856.10,676.50 L856.80,676.47 L857.50,676.77 L858.20,677.13 L858.90,677.25 L859.60,677.44 L860.30,677.47 L861.00,677.68 L861.70,678.11 L862.40,678.17 L863.10,678.52 L863.80,678.68 L864.50,678.81 L865.20,679.03 L865.90,679.13 L866.60,679.44 L867.30,679.12 L868.00,679.47 L868.70,679.78 L869.40,680.11 L870.10,679.77 L870.80,680.07 L871.50,680.35 L872.20,680.61 L872.90,680.49 L873.60,680.40 L874.30,680.88 L875.00,681.08 L875.70,681.17 L876.40,681.30 L877.10,681.46 L877.80,681.39 L878.50,681.72 L879.20,681.89 L879.90,681.90 L880.60,681.90 L881.30,682.07 L882.00,682.39 L882.70,682.32 L883.40,682.72 L884.10,682.70 L884.80,682.75 L885.50,683.03 L886.20,683.03 L886.90,683.47 L887.60,683.48 L888.30,683.29 L889.00,683.46 L889.70,683.33 L890.40,683.85 L891.10,683.91 L891.80,683.99 L892.50,683.86 L893.20,684.40 L893.90,684.46 L894.60,684.32 L895.30,684.40 L896.00,684.52 L896.70,684.80 L897.40,684.84 L898.10,684.86 L898.80,684.93 L899.50,684.86 L900.20,685.06 L900.90,684.99 L901.60,685.47 L902.30,685.39 L903.00,685.48 L903.70,685.50 L904.40,685.49 L905.10,685.41 L905.80,685.65 L906.50,685.77 L907.20,685.84 L907.90,686.10 L908.60,686.16 L909.30,685.94 L910.00,686.01 L910.70,686.34 L911.40,685.92 L912.10,686.25 L912.80,686.45 L913.50,686.39 L914.20,686.35 L914.90,686.54 L915.60,686.39 L916.30,686.39 L917.00,686.57 L917.70,686.54 L918.40,686.66" fill="none" stroke="#800080" stroke-width="1.5" stroke-linejoin="round"/><path d="M563.50,686.66 L564.20,686.68 L564.90,686.13 L565.60,686.53 L566.30,686.55 L567.00,686.59 L567.70,686.41 L568.40,686.40 L569.10,686.48 L569.80,686.30 L570.50,686.16 L571.20,686.49 L571.90,686.47 L572.60,686.18 L573.30,686.49 L574.00,686.18 L574.70,686.34 L575.40,686.08 L576.10,686.24 L576.80,686.11 L577.50,686.11 L578.20,686.21 L578.90,686.22 L579.60,685.96 L580.30,686.29 L581.00,685.91 L581.70,685.77 L582.40,685.93 L583.10,686.22 L583.80,685.84 L584.50,685.67 L585.20,685.74 L585.90,685.85 L586.60,685.85 L587.30,685.79 L588.00,685.85 L588.70,685.95 L589.40,685.63 L590.10,685.64 L590.80,685.54 L591.50,685.56 L592.20,685.64 L592.90,685.47 L593.60,685.23 L594.30,685.47 L595.00,685.52 L595.70,685.29 L596.40,685.49 L597.10,685.32 L597.80,684.91 L598.50,685.02 L599.20,684.88 L599.90,684.92 L600.60,684.83 L601.30,684.94 L602.00,684.96 L602.70,684.52 L603.40,684.88 L604.10,684.70 L604.80,684.81 L605.50,684.57 L606.20,684.22 L606.90,684.48 L607.60,684.49 L608.30,684.43 L609.00,684.30 L609.70,684.09 L610.40,684.05 L611.10,684.00 L611.80,683.90 L612.50,683.99 L613.20,683.97 L613.90,683.96 L614.60,683.82 L615.30,683.67 L616.00,683.70 L616.70,683.53 L617.40,683.30 L618.10,683.50 L618.80,683.28 L619.50,683.19 L620.20,683.29 L620.90,683.11 L621.60,683.03 L622.30,683.13 L623.00,682.92 L623.70,682.78 L624.40,682.58 L625.10,682.17 L625.80,682.00 L626.50,682.12 L627.20,682.50 L627.90,682.03 L628.60,681.88 L629.30,681.92 L630.00,681.90 L630.70,681.67 L631.40,681.59 L632.10,681.45 L632.80,681.22 L633.50,681.08 L634.20,680.71 L634.90,680.91 L635.60,680.79 L636.30,680.71 L637.00,680.69 L637.70,680.22 L638.40,680.11 L639.10,680.26 L639.80,679.79 L640.50,679.91 L641.20,679.74 L641.90,679.66 L642.60,679.30 L643.30,679.34 L644.00,678.89 L644.70,679.00 L645.40,678.68 L646.10,678.42 L646.80,678.30 L647.50,678.24 L648.20,677.68 L648.90,677.57 L649.60,677.18 L650.30,677.27 L651.00,676.99 L651.70,676.50 L652.40,676.34 L653.10,675.96 L653.80,675.86 L654.50,675.74 L655.20,675.24 L655.90,675.06 L656.60,674.54 L657.30,674.76 L658.00,674.06 L658.70,673.97 L659.40,673.61 L660.10,673.52 L660.80,673.02 L661.50,672.67 L662.20,672.21 L662.90,672.25 L663.60,671.48 L664.30,671.61 L665.00,671.22 L665.70,670.94 L666.40,670.17 L667.10,669.82 L667.80,669.57 L668.50,669.32 L669.20,668.61 L669.90,668.55 L670.60,667.80 L671.30,667.66 L672.00,667.15 L672.70,666.76 L673.40,666.30 L674.10,665.99 L674.80,665.21 L675.50,665.18 L676.20,664.50 L676.90,664.10 L677.60,663.56 L678.30,663.30 L679.00,662.77 L679.70,662.16 L680.40,661.56 L681.10,661.44 L681.80,660.58 L682.50,660.12 L683.20,659.40 L683.90,658.99 L684.60,658.39 L685.30,657.67 L686.00,657.04 L686.70,656.30 L687.40,654.94 L688.10,654.32 L688.80,653.37 L689.50,652.74 L690.20,651.75 L690.90,650.57 L691.60,649.98 L692.30,648.75 L693.00,647.91 L693.70,646.51 L694.40,645.63 L695.10,644.57 L695.80,643.19 L696.50,642.08 L697.20,640.75 L697.90,639.35 L698.60,638.06 L699.30,636.29 L700.00,635.20 L700.70,633.60 L701.40,631.87 L702.10,630.60 L702.80,628.64 L703.50,627.16 L704.20,625.85 L704.90,624.07 L705.60,622.18 L706.30,620.72 L707.00,618.68 L707.70,616.87 L708.40,615.05 L709.10,613.26 L709.80,611.33 L710.50,609.14 L711.20,607.19 L711.90,605.26 L712.60,603.22 L713.30,600.95 L714.00,598.90 L714.70,596.75 L715.40,594.34 L716.10,592.36 L716.80,590.61 L717.50,588.16 L718.20,586.16 L718.90,583.66 L719.60,582.00 L720.30,579.04 L721.00,576.69 L721.70,573.95 L722.40,570.82 L723.10,568.12 L723.80,565.37 L724.50,562.17 L725.20,559.50 L725.90,556.49 L726.60,554.01 L727.30,551.53 L728.00,548.45 L728.70,546.10 L729.40,543.42 L730.10,540.88 L730.80,538.54 L731.50,536.10 L732.20,533.67 L732.90,531.17 L733.60,528.23 L734.30,525.91 L735.00,523.13 L735.70,521.02 L736.40,518.73 L737.10,516.44 L737.80,514.30 L738.50,512.55 L739.20,510.78 L739.90,508.98 L740.60,507.19 L741.30,505.75 L742.00,504.73 L742.70,503.53 L743.40,502.60 L744.10,501.65 L744.80,500.85 L745.50,500.04 L746.20,499.24 L746.90,498.71 L747.60,498.38 L748.30,498.32 L749.00,498.46 L749.70,498.36 L750.40,499.10 L751.10,499.12 L751.80,499.76 L752.50,500.11 L753.20,500.76 L753.90,501.40 L754.60,502.15 L755.30,502.93 L756.00,504.00 L756.70,504.94 L757.40,506.42 L758.10,507.23 L758.80,508.82 L759.50,510.30 L760.20,511.83 L760.90,513.68 L761.60,515.44 L762.30,517.59 L763.00,519.48 L763.70,521.68 L764.40,523.64 L765.10,525.69 L765.80,527.75 L766.50,529.77 L767.20,532.20 L767.90,534.47 L768.60,536.58 L769.30,538.78 L770.00,541.17 L770.70,543.78 L771.40,545.82 L772.10,548.60 L772.80,551.01 L773.50,553.71 L774.20,555.93 L774.90,558.73 L775.60,561.01 L776.30,563.69 L777.00,566.26 L777.70,568.41 L778.40,571.14 L779.10,573.30 L779.80,575.81 L780.50,578.43 L781.20,580.61 L781.90,582.87 L782.60,584.73 L783.30,587.18 L784.00,589.51 L784.70,591.42 L785.40,593.40 L786.10,595.60 L786.80,597.28 L787.50,599.26 L788.20,601.44 L788.90,603.51 L789.60,604.96 L790.30,606.90 L791.00,608.74 L791.70,610.30 L792.40,611.96 L793.10,613.79 L793.80,615.17 L794.50,616.76 L795.20,618.64 L795.90,619.52 L796.60,621.47 L797.30,622.74 L798.00,623.78 L798.70,625.34 L799.40,626.48 L800.10,627.57 L800.80,628.85 L801.50,630.02 L802.20,631.53 L802.90,632.28 L803.60,633.39 L804.30,634.62 L805.00,635.65 L805.70,637.11 L806.40,637.74 L807.10,638.70 L807.80,639.66 L808.50,640.60 L809.20,641.34 L809.90,642.53 L810.60,643.27 L811.30,644.18 L812.00,645.23 L812.70,646.02 L813.40,646.78 L814.10,647.31 L814.80,648.19 L815.50,648.88 L816.20,649.64 L816.90,650.38 L817.60,651.02 L818.30,651.93 L819.00,652.34 L819.70,653.30 L820.40,653.80 L821.10,654.34 L821.80,655.03 L822.50,655.50 L823.20,656.07 L823.90,656.83 L824.60,657.18 L825.30,658.38 L826.00,658.10 L826.70,658.60 L827.40,659.49 L828.10,659.73 L828.80,660.20 L829.50,660.62 L830.20,661.21 L830.90,661.59 L831.60,662.27 L832.30,662.51 L833.00,663.03 L833.70,663.55 L834.40,663.90 L835.10,664.20 L835.80,664.51 L836.50,664.83 L837.20,665.19 L837.90,665.88 L838.60,666.03 L839.30,666.39 L840.00,666.81 L840.70,667.14 L841.40,667.56 L842.10,667.79 L842.80,667.99 L843.50,668.16 L844.20,668.70 L844.90,668.91 L845.60,669.22 L846.30,669.38 L847.00,669.84 L847.70,670.20 L848.40,670.34 L849.10,670.73 L849.80,670.91 L850.50,671.13 L851.20,671.62 L851.90,671.66 L852.60,672.00 L853.30,671.99 L854.00,672.59 L854.70,672.65 L855.40,672.93 L856.10,673.13 L856.80,673.46 L857.50,673.56 L858.20,673.72 L858.90,674.12 L859.60,674.35 L860.30,674.45 L861.00,674.83 L861.70,675.09 L862.40,675.02 L863.10,675.39 L863.80,675.58 L864.50,675.47 L865.20,675.70 L865.90,675.73 L866.60,676.43 L867.30,676.33 L868.00,676.50 L868.70,676.81 L869.40,677.10 L870.10,677.08 L870.80,677.40 L871.50,677.50 L872.20,678.01 L872.90,677.46 L873.60,677.68 L874.30,677.77 L875.00,678.12 L875.70,678.05 L876.40,678.43 L877.10,678.18 L877.80,678.74 L878.50,678.81 L879.20,679.10 L879.90,679.11 L880.60,679.18 L881.30,679.34 L882.00,679.13 L882.70,679.52 L883.40,679.72 L884.10,680.09 L884.80,679.97 L885.50,679.85 L886.20,680.55 L886.90,680.20 L887.60,680.48 L888.30,680.45 L889.00,680.20 L889.70,680.96 L890.40,680.89 L891.10,681.20 L891.80,681.11 L892.50,681.41 L893.20,681.67 L893.90,681.64 L894.60,681.63 L895.30,681.69 L896.00,681.87 L896.70,681.78 L897.40,682.09 L898.10,682.28 L898.80,682.06 L899.50,682.18 L900.20,682.74 L900.90,682.56 L901.60,682.92 L902.30,682.82 L903.00,682.93 L903.70,682.93 L904.40,683.24 L905.10,683.26 L905.80,683.13 L906.50,682.92 L907.20,683.09 L907.90,683.33 L908.60,683.26 L909.30,683.55 L910.00,683.59 L910.70,683.65 L911.40,683.72 L912.10,683.71 L912.80,683.79 L913.50,683.80 L914.20,683.65 L914.90,683.84 L915.60,683.87 L916.30,684.04 L917.00,683.87 L917.70,683.82 L918.40,684.26" fill="none" stroke="#00e000" stroke-width="1.5" stroke-linejoin="round"/></svg></body></html>
